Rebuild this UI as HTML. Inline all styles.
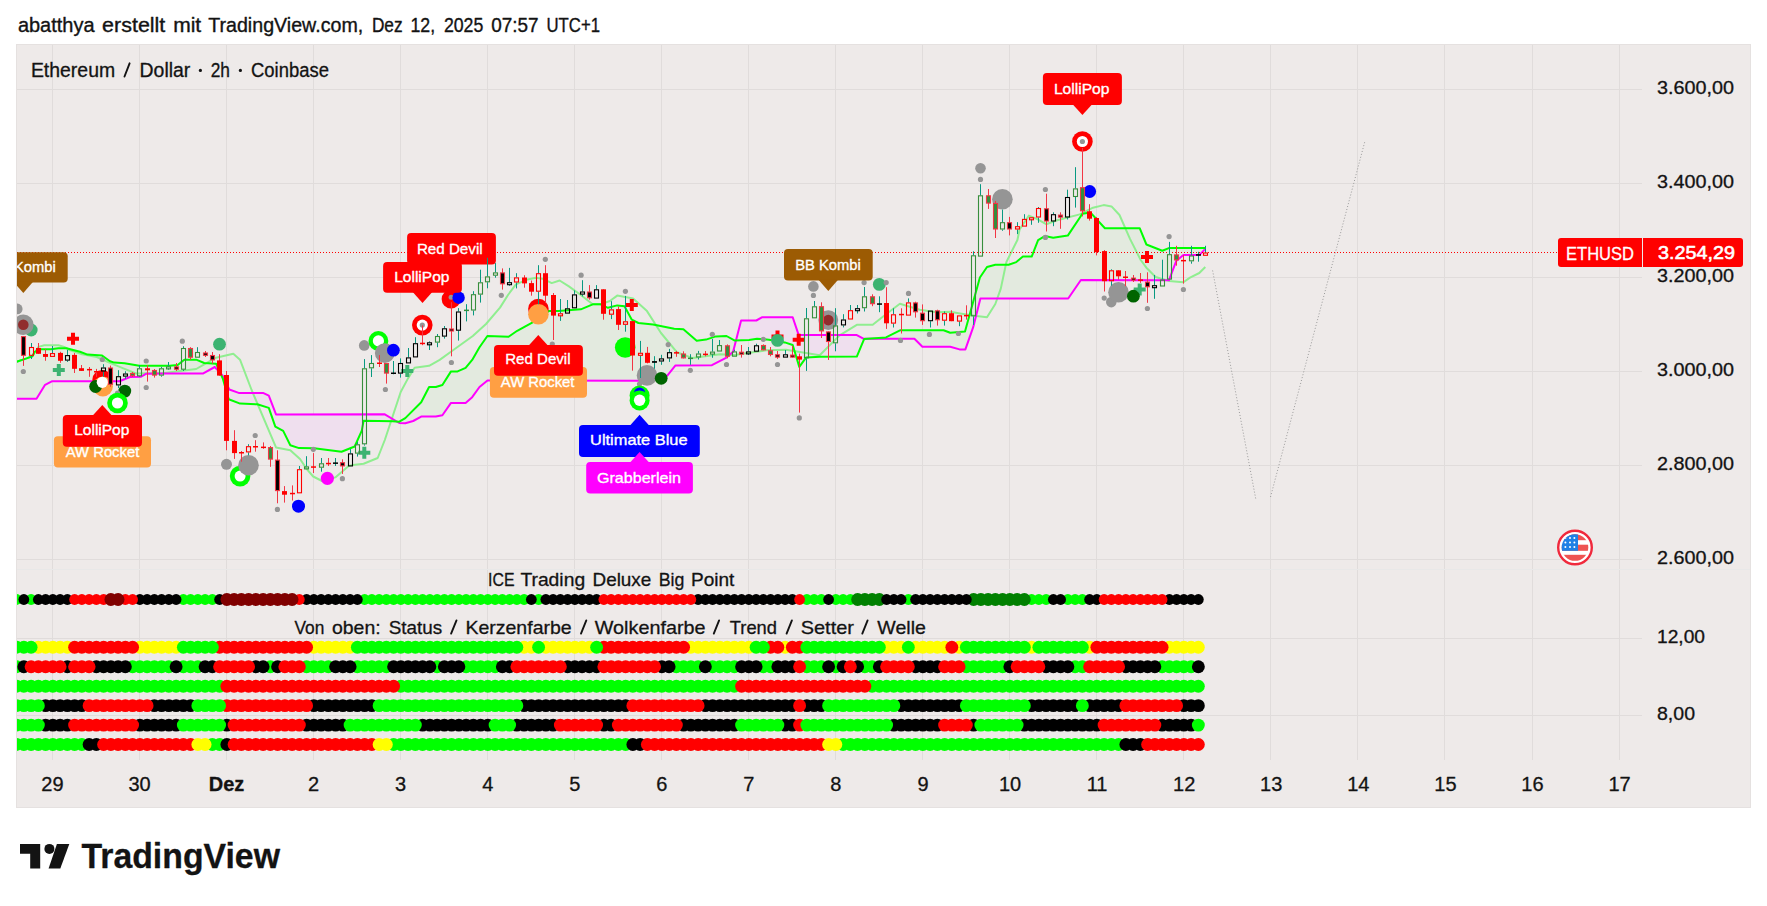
<!DOCTYPE html><html><head><meta charset="utf-8"><style>html,body{margin:0;padding:0;background:#fff;width:1767px;height:906px;overflow:hidden}svg{display:block;font-family:"Liberation Sans",sans-serif}text{stroke-linejoin:round}</style></head><body>
<svg width="1767" height="906" viewBox="0 0 1767 906">
<defs><clipPath id="pane"><rect x="17" y="45" width="1625" height="715"/></clipPath></defs>
<text x="17.9" y="32" font-size="19.3" fill="#131313" textLength="76.65" lengthAdjust="spacingAndGlyphs" stroke="#131313" stroke-width="0.35">abatthya</text><text x="102.1" y="32" font-size="19.3" fill="#131313" textLength="63.25" lengthAdjust="spacingAndGlyphs" stroke="#131313" stroke-width="0.35">erstellt</text><text x="173.2" y="32" font-size="19.3" fill="#131313" textLength="28.03" lengthAdjust="spacingAndGlyphs" stroke="#131313" stroke-width="0.35">mit</text><text x="208.2" y="32" font-size="19.3" fill="#131313" textLength="155.03" lengthAdjust="spacingAndGlyphs" stroke="#131313" stroke-width="0.35">TradingView.com,</text><text x="371.9" y="32" font-size="19.3" fill="#131313" textLength="30.72" lengthAdjust="spacingAndGlyphs" stroke="#131313" stroke-width="0.35">Dez</text><text x="410.5" y="32" font-size="19.3" fill="#131313" textLength="24.63" lengthAdjust="spacingAndGlyphs" stroke="#131313" stroke-width="0.35">12,</text><text x="443.9" y="32" font-size="19.3" fill="#131313" textLength="39.43" lengthAdjust="spacingAndGlyphs" stroke="#131313" stroke-width="0.35">2025</text><text x="491.2" y="32" font-size="19.3" fill="#131313" textLength="47.4" lengthAdjust="spacingAndGlyphs" stroke="#131313" stroke-width="0.35">07:57</text><text x="546.5" y="32" font-size="19.3" fill="#131313" textLength="53.47" lengthAdjust="spacingAndGlyphs" stroke="#131313" stroke-width="0.35">UTC+1</text>
<rect x="16.5" y="44.5" width="1734" height="763" fill="#EEEAE9" stroke="#e5e1e0" stroke-width="1"/>
<path d="M52.5 45V760 M139.5 45V760 M226.5 45V760 M313.5 45V760 M400.5 45V760 M487.5 45V760 M574.5 45V760 M661.5 45V760 M748.5 45V760 M835.5 45V760 M922.5 45V760 M1009.5 45V760 M1096.5 45V760 M1183.5 45V760 M1270.5 45V760 M1357.5 45V760 M1444.5 45V760 M1532.5 45V760 M1619.5 45V760 M17 89.5H1642 M17 183.5H1642 M17 277.5H1642 M17 371.5H1642 M17 465.5H1642 M17 559.5H1642 M17 638.5H1642 M17 715.5H1642" stroke="#e0dcdb" stroke-width="1" fill="none"/>
<path d="M17 569.5H1750" stroke="#e8e8e8" stroke-width="1"/>
<g clip-path="url(#pane)">
<path d="M16 362L16.5 361.83L17 361.66L17.5 361.49L18 361.32L18.5 361.15L19 360.98L19.5 360.81L20 360.64L20.5 360.47L21 360.3L21.5 360.13L22 359.96L22.5 359.79L23 359.62L23.5 359.45L24 359.28L24.5 359.11L25 358.94L25.5 358.77L26 358.6L26.5 358.43L27 358.25L27.5 358.06L28 357.87L28.5 357.68L29 357.49L29.5 357.3L30 357.11L30.5 356.92L31 356.73L31.5 356.54L32 356.35L32.5 356L33 355L33.5 354L34 353L34.5 352L35 351.61L35.5 351.38L36 351.14L36.5 350.9L37 350.67L37.5 350.43L38 350.2L38.5 349.96L39 349.72L39.5 349.49L40 349.3L40.5 349.3L41 349.3L41.5 349.3L42 349.3L42.5 349.3L43 349.3L43.5 349.3L44 349.3L44.5 349.3L45 349.3L45.5 349.3L46 349.3L46.5 349.3L47 349.3L47.5 349.3L48 349.3L48.5 349.3L49 349.3L49.5 349.3L50 349.3L50.5 349.3L51 349.29L51.5 349.21L52 349.14L52.5 349.07L53 348.99L53.5 348.92L54 348.85L54.5 348.77L55 348.7L55.5 348.63L56 348.55L56.5 348.48L57 348.41L57.5 348.33L58 348.26L58.5 348.2L59 348.2L59.5 348.2L60 348.2L60.5 348.2L61 348.2L61.5 348.2L62 348.2L62.5 348.2L63 348.2L63.5 348.2L64 348.2L64.5 348.2L65 348.2L65.5 348.2L66 348.2L66.5 348.23L67 348.36L67.5 348.49L68 348.62L68.5 348.76L69 348.89L69.5 349.02L70 349.15L70.5 349.29L71 349.42L71.5 349.55L72 349.68L72.5 349.81L73 349.95L73.5 350.08L74 350.21L74.5 350.34L75 350.48L75.5 350.61L76 350.74L76.5 350.87L77 351.01L77.5 351.14L78 351.27L78.5 351.4L79 351.54L79.5 351.67L80 351.8L80.5 351.99L81 352.17L81.5 352.36L82 352.55L82.5 352.73L83 352.92L83.5 353.11L84 353.29L84.5 353.48L85 353.67L85.5 353.85L86 354.04L86.5 354.23L87 354.41L87.5 354.6L88 354.63L88.5 354.67L89 354.7L89.5 354.74L90 354.77L90.5 354.81L91 354.84L91.5 354.87L92 354.91L92.5 354.94L93 354.98L93.5 355.01L94 355.05L94.5 355.08L95 355.11L95.5 355.15L96 355.18L96.5 355.22L97 355.25L97.5 355.28L98 355.32L98.5 355.35L99 355.39L99.5 355.42L100 355.46L100.5 355.49L101 355.52L101.5 355.56L102 355.59L102.5 355.88L103 356.24L103.5 356.59L104 356.95L104.5 357.3L105 357.66L105.5 358.01L106 358.36L106.5 358.72L107 359.07L107.5 359.43L108 359.78L108.5 360.14L109 360.49L109.5 360.85L110 361.2L110.5 361.37L111 361.53L111.5 361.7L112 361.87L112.5 362.03L113 362.2L113.5 362.37L114 362.53L114.5 362.62L115 362.65L115.5 362.69L116 362.72L116.5 362.75L117 362.79L117.5 362.82L118 362.86L118.5 362.89L119 362.92L119.5 362.96L120 362.99L120.5 363.02L121 363.06L121.5 363.09L122 363.12L122.5 363.16L123 363.19L123.5 363.23L124 363.26L124.5 363.29L125 363.37L125.5 363.45L126 363.53L126.5 363.61L127 363.69L127.5 363.77L128 363.86L128.5 363.94L129 364.02L129.5 364.1L130 364.18L130.5 364.26L131 364.34L131.5 364.43L132 364.51L132.5 364.59L133 364.67L133.5 364.75L134 364.83L134.5 364.92L135 365L135.5 365.08L136 365.16L136.5 365.24L137 365.32L137.5 365.41L138 365.49L138.5 365.57L139 365.65L139.5 365.7L140 365.7L140.5 365.7L141 365.7L141.5 365.7L142 365.7L142.5 365.7L143 365.7L143.5 365.7L144 365.7L144.5 365.7L145 365.7L145.5 365.7L146 365.7L146.5 365.7L147 365.7L147.5 365.7L148 365.7L148.5 365.7L149 365.7L149.5 365.7L150 365.7L150.5 365.7L151 365.7L151.5 365.7L152 365.7L152.5 365.7L153 365.7L153.5 365.7L154 365.7L154.5 365.7L155 365.7L155.5 365.7L156 365.7L156.5 365.7L157 365.7L157.5 365.7L158 365.7L158.5 365.7L159 365.7L159.5 365.7L160 365.7L160.5 365.7L161 365.7L161.5 365.7L162 365.7L162.5 365.7L163 365.7L163.5 365.7L164 365.7L164.5 365.7L165 365.7L165.5 365.7L166 365.7L166.5 365.7L167 365.7L167.5 365.7L168 365.7L168.5 365.7L169 365.7L169.5 365.7L170 365.67L170.5 365.63L171 365.59L171.5 365.54L172 365.5L172.5 365.45L173 365.41L173.5 365.37L174 365.32L174.5 365.28L175 365.24L175.5 365.19L176 365.15L176.5 365.11L177 365.06L177.5 365.02L178 364.76L178.5 364.36L179 363.96L179.5 363.55L180 363.15L180.5 362.75L181 362.35L181.5 361.95L182 361.55L182.5 361.15L183 360.74L183.5 360.34L184 359.94L184.5 359.7L185 359.7L185.5 359.7L186 359.7L186.5 359.7L187 359.7L187.5 359.7L188 359.7L188.5 359.7L189 359.7L189.5 359.7L190 359.7L190.5 359.7L191 359.7L191.5 359.7L192 359.7L192.5 359.7L193 359.7L193.5 359.7L194 359.7L194.5 359.7L195 359.7L195.5 359.7L196 359.7L196.5 359.82L197 360.03L197.5 360.24L198 360.44L198.5 360.65L199 360.86L199.5 361.06L200 361.27L200.5 361.47L201 361.68L201.5 361.89L202 362.09L202.5 362.3L203 362.5L203.5 362.71L204 362.92L204.5 363.02L205 363.05L205.5 363.08L206 363.11L206.5 363.14L207 363.16L207.5 363.19L208 363.22L208.5 363.25L209 363.28L209.5 363.31L210 363.34L210.5 363.37L211 363.4L211.5 363.43L212 363.46L212.5 363.49L213 363.52L213.5 363.55L214 363.58L214.5 363.61L215 363.64L215.5 363.66L216 363.69L216.5 364.58L217 365.69L217.5 366.8L218 367.9L218.5 369.01L219 370.12L219.5 371.22L220 372.33L220 372.66L219.5 372.12L219 371.57L218.5 371.03L218 370.48L217.5 369.94L217 369.39L216.5 368.85L216 368.31L215.5 367.76L215 367.22L214.5 367.17L214 367.44L213.5 367.72L213 367.99L212.5 368.26L212 368.54L211.5 368.81L211 369.09L210.5 369.37L210 369.64L209.5 369.92L209 370.19L208.5 370.47L208 370.74L207.5 371.02L207 371.29L206.5 371.56L206 371.84L205.5 372.12L205 372.39L204.5 372.67L204 372.94L203.5 373.22L203 373.49L202.5 373.6L202 373.6L201.5 373.6L201 373.6L200.5 373.6L200 373.6L199.5 373.6L199 373.6L198.5 373.6L198 373.6L197.5 373.6L197 373.6L196.5 373.6L196 373.6L195.5 373.6L195 373.6L194.5 373.6L194 373.6L193.5 373.6L193 373.6L192.5 373.6L192 373.6L191.5 373.6L191 373.6L190.5 373.6L190 373.6L189.5 373.6L189 373.6L188.5 373.6L188 373.6L187.5 373.6L187 373.6L186.5 373.6L186 373.6L185.5 373.6L185 373.6L184.5 373.6L184 373.6L183.5 373.6L183 373.6L182.5 373.6L182 373.6L181.5 373.6L181 373.6L180.5 373.6L180 373.6L179.5 373.6L179 373.6L178.5 373.6L178 373.6L177.5 373.6L177 373.6L176.5 373.6L176 373.6L175.5 373.6L175 373.6L174.5 373.6L174 373.6L173.5 373.6L173 373.6L172.5 373.6L172 373.6L171.5 373.6L171 373.6L170.5 373.6L170 373.6L169.5 373.6L169 373.6L168.5 373.6L168 373.6L167.5 373.6L167 373.6L166.5 373.6L166 373.6L165.5 373.6L165 373.6L164.5 373.6L164 373.6L163.5 373.6L163 373.6L162.5 373.61L162 373.61L161.5 373.62L161 373.62L160.5 373.63L160 373.64L159.5 373.64L159 373.65L158.5 373.65L158 373.66L157.5 373.66L157 373.67L156.5 373.68L156 373.68L155.5 373.69L155 373.69L154.5 373.7L154 373.71L153.5 373.71L153 373.72L152.5 373.72L152 373.73L151.5 373.74L151 373.74L150.5 373.75L150 373.75L149.5 373.76L149 373.76L148.5 373.77L148 373.78L147.5 373.78L147 373.79L146.5 373.79L146 373.8L145.5 374.08L145 374.37L144.5 374.65L144 374.93L143.5 375.22L143 375.5L142.5 375.78L142 376.06L141.5 376.35L141 376.63L140.5 376.8L140 376.81L139.5 376.82L139 376.83L138.5 376.84L138 376.85L137.5 376.86L137 376.87L136.5 376.88L136 376.89L135.5 376.9L135 376.91L134.5 376.92L134 376.93L133.5 376.93L133 376.94L132.5 376.95L132 376.96L131.5 376.97L131 376.98L130.5 376.99L130 377L129.5 377.2L129 377.41L128.5 377.61L128 377.82L127.5 378.02L127 378.23L126.5 378.43L126 378.64L125.5 378.84L125 379.05L124.5 379.25L124 379.46L123.5 379.66L123 379.87L122.5 380.07L122 380.28L121.5 380.48L121 380.69L120.5 380.89L120 381.1L119.5 381.3L119 381.3L118.5 381.3L118 381.3L117.5 381.3L117 381.3L116.5 381.3L116 381.3L115.5 381.3L115 381.3L114.5 381.3L114 381.3L113.5 381.3L113 381.3L112.5 381.3L112 381.3L111.5 381.3L111 381.3L110.5 381.3L110 381.3L109.5 381.3L109 381.3L108.5 381.3L108 381.3L107.5 381.3L107 381.3L106.5 381.3L106 381.3L105.5 381.3L105 381.3L104.5 381.3L104 381.3L103.5 381.3L103 381.3L102.5 381.3L102 381.3L101.5 381.3L101 381.3L100.5 381.3L100 381.3L99.5 381.3L99 381.3L98.5 381.3L98 381.3L97.5 381.3L97 381.3L96.5 381.3L96 381.3L95.5 381.3L95 381.3L94.5 381.3L94 381.3L93.5 381.3L93 381.3L92.5 381.3L92 381.3L91.5 381.3L91 381.3L90.5 381.3L90 381.3L89.5 381.3L89 381.3L88.5 381.3L88 381.3L87.5 381.3L87 381.3L86.5 381.3L86 381.3L85.5 381.3L85 381.3L84.5 381.3L84 381.3L83.5 381.3L83 381.3L82.5 381.3L82 381.3L81.5 381.3L81 381.3L80.5 381.3L80 381.3L79.5 381.3L79 381.3L78.5 381.3L78 381.3L77.5 381.3L77 381.3L76.5 381.3L76 381.3L75.5 381.3L75 381.3L74.5 381.3L74 381.3L73.5 381.3L73 381.3L72.5 381.3L72 381.3L71.5 381.3L71 381.3L70.5 381.3L70 381.3L69.5 381.3L69 381.3L68.5 381.3L68 381.3L67.5 381.3L67 381.3L66.5 381.3L66 381.3L65.5 381.3L65 381.3L64.5 381.3L64 381.3L63.5 381.3L63 381.3L62.5 381.3L62 381.3L61.5 381.3L61 381.3L60.5 381.3L60 381.3L59.5 381.3L59 381.3L58.5 381.3L58 381.3L57.5 381.3L57 381.3L56.5 381.3L56 381.3L55.5 381.3L55 381.3L54.5 381.3L54 381.3L53.5 381.3L53 381.3L52.5 381.3L52 381.3L51.5 381.46L51 381.72L50.5 381.98L50 382.24L49.5 382.5L49 382.76L48.5 383.02L48 383.29L47.5 383.55L47 383.81L46.5 384.07L46 384.33L45.5 384.59L45 384.96L44.5 385.77L44 386.58L43.5 387.39L43 388.19L42.5 389L42 389.81L41.5 390.62L41 391.43L40.5 392.23L40 393.04L39.5 393.85L39 394.66L38.5 395.47L38 396.28L37.5 397.08L37 397.89L36.5 398.7L36 398.7L35.5 398.7L35 398.7L34.5 398.7L34 398.7L33.5 398.7L33 398.7L32.5 398.7L32 398.7L31.5 398.7L31 398.7L30.5 398.7L30 398.7L29.5 398.7L29 398.7L28.5 398.7L28 398.7L27.5 398.7L27 398.7L26.5 398.7L26 398.7L25.5 398.7L25 398.7L24.5 398.7L24 398.7L23.5 398.7L23 398.7L22.5 398.7L22 398.7L21.5 398.7L21 398.7L20.5 398.7L20 398.7L19.5 398.7L19 398.7L18.5 398.7L18 398.7L17.5 398.7L17 398.7L16.5 398.7L16 398.7Z" fill="#e3eadf"/>
<path d="M220.5 373.43L221 374.54L221.5 375.65L222 376.75L222.5 377.86L223 379.35L223.5 381.1L224 382.85L224.5 384.6L225 386.35L225.5 388.1L226 389.85L226.5 391.6L227 393.35L227.5 395.1L228 396.85L228.5 398.6L229 399.41L229.5 399.6L230 399.79L230.5 399.98L231 400.17L231.5 400.36L232 400.54L232.5 400.73L233 400.92L233.5 401.11L234 401.3L234.5 401.49L235 401.68L235.5 401.86L236 402.05L236.5 402.24L237 402.43L237.5 402.62L238 402.81L238.5 403L239 403.19L239.5 403.37L240 403.56L240.5 403.62L241 403.64L241.5 403.66L242 403.68L242.5 403.7L243 403.72L243.5 403.74L244 403.76L244.5 403.78L245 403.8L245.5 403.82L246 403.84L246.5 403.86L247 403.88L247.5 403.9L248 403.92L248.5 403.94L249 403.96L249.5 403.98L250 404L250.5 404.02L251 404.04L251.5 404.06L252 404.08L252.5 404.1L253 404.12L253.5 404.15L254 404.17L254.5 404.19L255 404.21L255.5 404.23L256 404.25L256.5 404.27L257 404.29L257.5 404.36L258 404.52L258.5 404.68L259 404.83L259.5 404.99L260 405.15L260.5 405.3L261 405.46L261.5 405.61L262 405.77L262.5 405.93L263 406.08L263.5 406.24L264 406.4L264.5 406.55L265 406.71L265.5 406.87L266 407.02L266.5 407.18L267 407.34L267.5 407.49L268 407.65L268.5 407.81L269 408.48L269.5 409.91L270 411.35L270.5 412.79L271 414.23L271.5 415.67L272 417.11L272.5 418.54L273 419.98L273.5 421.42L274 422.86L274.5 424.3L275 425.74L275.5 426.71L276 426.98L276.5 427.25L277 427.53L277.5 427.8L278 428.07L278.5 428.34L279 428.61L279.5 428.89L280 429.16L280.5 429.43L281 429.7L281.5 429.97L282 430.25L282.5 430.52L283 430.79L283.5 431.5L284 432.51L284.5 433.52L285 434.53L285.5 435.53L286 436.54L286.5 437.55L287 438.55L287.5 439.56L288 440.57L288.5 441.57L289 442.58L289.5 443.59L290 444.6L290.5 445.27L291 445.43L291.5 445.6L292 445.77L292.5 445.93L293 446.1L293.5 446.27L294 446.43L294.5 446.6L295 446.77L295.5 446.93L296 447.1L296.5 447.27L297 447.43L297.5 447.6L298 447.77L298.5 447.93L299 448.1L299.5 448.11L300 448.11L300.5 448.12L301 448.13L301.5 448.13L302 448.14L302.5 448.15L303 448.15L303.5 448.16L304 448.17L304.5 448.17L305 448.18L305.5 448.19L306 448.19L306.5 448.2L307 448.21L307.5 448.21L308 448.22L308.5 448.23L309 448.23L309.5 448.24L310 448.25L310.5 448.25L311 448.26L311.5 448.27L312 448.27L312.5 448.28L313 448.29L313.5 448.29L314 448.3L314.5 448.35L315 448.41L315.5 448.48L316 448.54L316.5 448.61L317 448.67L317.5 448.73L318 448.8L318.5 448.86L319 448.93L319.5 448.99L320 449.05L320.5 449.12L321 449.18L321.5 449.25L322 449.31L322.5 449.37L323 449.44L323.5 449.5L324 449.56L324.5 449.63L325 449.69L325.5 449.76L326 449.82L326.5 449.88L327 449.95L327.5 450.01L328 450.08L328.5 450.14L329 450.2L329.5 450.27L330 450.33L330.5 450.39L331 450.46L331.5 450.52L332 450.59L332.5 450.65L333 450.71L333.5 450.78L334 450.84L334.5 450.91L335 450.97L335.5 451.03L336 451.1L336.5 451.16L337 451.23L337.5 451.29L338 451.35L338.5 451.42L339 451.48L339.5 451.54L340 451.61L340.5 451.67L341 451.74L341.5 451.8L342 451.6L342.5 451.4L343 451.2L343.5 451L344 450.8L344.5 450.6L345 450.39L345.5 450.19L346 449.99L346.5 449.79L347 449.59L347.5 449.39L348 449.19L348.5 448.99L349 448.79L349.5 448.59L350 448.39L350.5 448.19L351 447.99L351.5 447.78L352 447.58L352.5 447.38L353 447.18L353.5 446.98L354 446.78L354.5 446.58L355 445.83L355.5 444.71L356 443.59L356.5 442.47L357 441.35L357.5 440.23L358 439.11L358.5 437.99L359 436.87L359.5 435.75L360 434.63L360.5 433.51L361 432.39L361.5 431.27L362 429.5L362.5 426.75L363 424L363.5 421.25L364 420.71L364.5 420.72L365 420.73L365.5 420.74L366 420.75L366.5 420.76L367 420.77L367.5 420.78L368 420.79L368.5 420.8L369 420.81L369.5 420.82L370 420.83L370.5 420.84L371 420.85L371.5 420.86L372 420.87L372.5 420.88L373 420.89L373.5 420.9L374 420.91L374.5 420.92L375 420.94L375.5 420.95L376 420.96L376.5 420.97L377 420.98L377.5 420.99L378 421L378.5 421.01L379 421.02L379.5 421.03L380 421.04L380.5 421.05L381 421.06L381.5 421.07L382 421.08L382.5 421.09L383 421.1L383.5 421.11L384 421.12L384.5 421.13L385 421.14L385.5 421.15L386 421.16L386.5 421.17L387 421.18L387.5 421.19L388 421.2L388.5 421.21L389 421.22L389.5 421.23L390 421.24L390.5 421.25L391 421.26L391.5 421.28L392 421.29L392.5 421.3L393 421.32L393.5 421.35L394 421.38L394.5 421.41L395 421.44L395.5 421.47L396 421.5L396.5 421.53L396.5 421.32L396 421.02L395.5 420.72L395 420.42L394.5 420.12L394 419.82L393.5 419.52L393 419.22L392.5 418.92L392 418.62L391.5 418.32L391 418.02L390.5 417.72L390 417.42L389.5 417.12L389 416.82L388.5 416.52L388 416.22L387.5 415.92L387 415.62L386.5 415.32L386 415.02L385.5 414.72L385 414.42L384.5 414.3L384 414.3L383.5 414.3L383 414.3L382.5 414.3L382 414.3L381.5 414.3L381 414.3L380.5 414.3L380 414.3L379.5 414.3L379 414.31L378.5 414.31L378 414.31L377.5 414.31L377 414.31L376.5 414.31L376 414.31L375.5 414.31L375 414.31L374.5 414.31L374 414.31L373.5 414.31L373 414.31L372.5 414.31L372 414.31L371.5 414.31L371 414.31L370.5 414.31L370 414.31L369.5 414.31L369 414.31L368.5 414.31L368 414.32L367.5 414.32L367 414.32L366.5 414.32L366 414.32L365.5 414.32L365 414.32L364.5 414.32L364 414.32L363.5 414.32L363 414.32L362.5 414.32L362 414.32L361.5 414.32L361 414.32L360.5 414.32L360 414.32L359.5 414.32L359 414.32L358.5 414.32L358 414.32L357.5 414.33L357 414.33L356.5 414.33L356 414.33L355.5 414.33L355 414.33L354.5 414.33L354 414.33L353.5 414.33L353 414.33L352.5 414.33L352 414.33L351.5 414.33L351 414.33L350.5 414.33L350 414.33L349.5 414.33L349 414.33L348.5 414.33L348 414.33L347.5 414.33L347 414.33L346.5 414.34L346 414.34L345.5 414.34L345 414.34L344.5 414.34L344 414.34L343.5 414.34L343 414.34L342.5 414.34L342 414.34L341.5 414.34L341 414.34L340.5 414.34L340 414.34L339.5 414.34L339 414.34L338.5 414.34L338 414.34L337.5 414.34L337 414.34L336.5 414.34L336 414.34L335.5 414.35L335 414.35L334.5 414.35L334 414.35L333.5 414.35L333 414.35L332.5 414.35L332 414.35L331.5 414.35L331 414.35L330.5 414.35L330 414.35L329.5 414.35L329 414.35L328.5 414.35L328 414.35L327.5 414.35L327 414.35L326.5 414.35L326 414.35L325.5 414.35L325 414.35L324.5 414.36L324 414.36L323.5 414.36L323 414.36L322.5 414.36L322 414.36L321.5 414.36L321 414.36L320.5 414.36L320 414.36L319.5 414.36L319 414.36L318.5 414.36L318 414.36L317.5 414.36L317 414.36L316.5 414.36L316 414.36L315.5 414.36L315 414.36L314.5 414.36L314 414.37L313.5 414.37L313 414.37L312.5 414.37L312 414.37L311.5 414.37L311 414.37L310.5 414.37L310 414.37L309.5 414.37L309 414.37L308.5 414.37L308 414.37L307.5 414.37L307 414.37L306.5 414.37L306 414.37L305.5 414.37L305 414.37L304.5 414.37L304 414.37L303.5 414.37L303 414.38L302.5 414.38L302 414.38L301.5 414.38L301 414.38L300.5 414.38L300 414.38L299.5 414.38L299 414.38L298.5 414.38L298 414.38L297.5 414.38L297 414.38L296.5 414.38L296 414.38L295.5 414.38L295 414.38L294.5 414.38L294 414.38L293.5 414.38L293 414.38L292.5 414.38L292 414.39L291.5 414.39L291 414.39L290.5 414.39L290 414.39L289.5 414.39L289 414.39L288.5 414.39L288 414.39L287.5 414.39L287 414.39L286.5 414.39L286 414.39L285.5 414.39L285 414.39L284.5 414.39L284 414.39L283.5 414.39L283 414.39L282.5 414.39L282 414.39L281.5 414.39L281 414.4L280.5 414.4L280 414.4L279.5 414.4L279 414.4L278.5 414.4L278 414.4L277.5 414.4L277 414.4L276.5 414.4L276 414.4L275.5 413.1L275 411.8L274.5 410.5L274 409.21L273.5 407.91L273 406.61L272.5 405.31L272 404.01L271.5 402.71L271 401.41L270.5 400.12L270 398.82L269.5 397.52L269 396.22L268.5 395.56L268 395.31L267.5 395.07L267 394.83L266.5 394.59L266 394.35L265.5 394.11L265 393.87L264.5 393.62L264 393.38L263.5 393.14L263 392.9L262.5 392.9L262 392.9L261.5 392.9L261 392.9L260.5 392.9L260 392.9L259.5 392.9L259 392.9L258.5 392.9L258 392.9L257.5 392.9L257 392.9L256.5 392.9L256 392.9L255.5 392.9L255 392.9L254.5 392.9L254 392.9L253.5 392.9L253 392.9L252.5 392.9L252 392.9L251.5 392.9L251 392.9L250.5 392.9L250 392.9L249.5 392.9L249 392.9L248.5 392.9L248 392.9L247.5 392.9L247 392.9L246.5 392.9L246 392.9L245.5 392.9L245 392.9L244.5 392.9L244 392.9L243.5 392.9L243 392.9L242.5 392.9L242 392.9L241.5 392.9L241 392.9L240.5 392.9L240 392.9L239.5 392.9L239 392.9L238.5 392.83L238 392.65L237.5 392.47L237 392.29L236.5 392.1L236 391.92L235.5 391.74L235 391.56L234.5 391.38L234 391.2L233.5 391.02L233 390.84L232.5 390.66L232 390.48L231.5 390.3L231 390.11L230.5 389.93L230 389.75L229.5 389.57L229 388.87L228.5 387.82L228 386.76L227.5 385.71L227 384.66L226.5 383.6L226 382.55L225.5 381.5L225 380.44L224.5 379.39L224 378.34L223.5 377.28L223 376.23L222.5 375.38L222 374.84L221.5 374.29L221 373.75L220.5 373.21Z" fill="#efdfee"/>
<path d="M397 421.56L397.5 421.59L398 421.62L398.5 421.65L399 421.68L399.5 421.58L400 421.28L400.5 420.98L401 420.68L401.5 420.38L402 420.08L402.5 419.78L403 419.48L403.5 419.18L404 418.88L404.5 418.58L405 418.28L405.5 417.9L406 417.4L406.5 416.91L407 416.41L407.5 415.91L408 415.42L408.5 414.92L409 414.42L409.5 413.93L410 413.43L410.5 412.93L411 412.44L411.5 411.94L412 411.44L412.5 410.95L413 410.45L413.5 409.95L414 409.45L414.5 408.96L415 408.46L415.5 407.96L416 407.47L416.5 406.97L417 406.47L417.5 405.98L418 405.48L418.5 404.98L419 404.49L419.5 403.99L420 403.49L420.5 403L421 402.5L421.5 401.72L422 400.75L422.5 399.78L423 398.81L423.5 397.85L424 396.88L424.5 395.91L425 394.94L425.5 393.97L426 393L426.5 392.04L427 391.07L427.5 390.1L428 389.13L428.5 388.16L429 387.19L429.5 387L430 387L430.5 387L431 387L431.5 387L432 387L432.5 387L433 387L433.5 387L434 387L434.5 387L435 387L435.5 387L436 386.94L436.5 386.79L437 386.64L437.5 386.48L438 386.33L438.5 386.18L439 386.03L439.5 385.88L440 385.73L440.5 385.58L441 385.42L441.5 385.27L442 385.12L442.5 384.84L443 384.05L443.5 383.26L444 382.47L444.5 381.68L445 380.89L445.5 380.1L446 379.31L446.5 378.52L447 377.73L447.5 376.93L448 376.14L448.5 375.35L449 374.56L449.5 373.77L450 372.98L450.5 372.19L451 371.4L451.5 371.4L452 371.4L452.5 371.4L453 371.4L453.5 371.4L454 371.4L454.5 371.4L455 371.4L455.5 371.4L456 371.4L456.5 371.4L457 371.4L457.5 371.4L458 371.22L458.5 371L459 370.77L459.5 370.55L460 370.32L460.5 370.1L461 369.87L461.5 369.64L462 369.42L462.5 369.19L463 368.97L463.5 368.75L464 368.52L464.5 368.3L465 368.07L465.5 367.85L466 367.32L466.5 366.72L467 366.12L467.5 365.53L468 364.93L468.5 364.33L469 363.73L469.5 363.13L470 362.53L470.5 361.93L471 361.34L471.5 360.74L472 360.14L472.5 359.38L473 358.52L473.5 357.66L474 356.79L474.5 355.93L475 355.07L475.5 354.2L476 353.34L476.5 352.48L477 351.62L477.5 350.75L478 349.89L478.5 349.03L479 348.16L479.5 347.3L480 346.58L480.5 345.87L481 345.15L481.5 344.44L482 343.72L482.5 343.01L483 342.29L483.5 341.58L484 340.86L484.5 340.15L485 339.43L485.5 338.72L486 338L486.5 337.29L487 336.57L487.5 336L488 336.02L488.5 336.04L489 336.06L489.5 336.08L490 336.1L490.5 336.12L491 336.14L491.5 336.15L492 336.17L492.5 336.19L493 336.21L493.5 336.23L494 336.25L494.5 336.27L495 336.29L495.5 336.31L496 336.32L496.5 336.34L497 336.36L497.5 336.38L498 336.4L498.5 336.42L499 336.44L499.5 336.46L500 336.48L500.5 336.49L501 336.51L501.5 336.53L502 336.55L502.5 336.57L503 336.59L503.5 336.61L504 336.63L504.5 336.65L505 336.66L505.5 336.68L506 336.7L506.5 336.72L507 336.74L507.5 336.76L508 336.78L508.5 336.8L509 336.52L509.5 336.17L510 335.82L510.5 335.47L511 335.13L511.5 334.78L512 334.43L512.5 334.08L513 333.73L513.5 333.38L514 333.03L514.5 332.68L515 332.33L515.5 331.99L516 331.64L516.5 331.29L517 330.94L517.5 330.64L518 330.37L518.5 330.1L519 329.83L519.5 329.56L520 329.29L520.5 329.02L521 328.74L521.5 328.47L522 328.2L522.5 327.93L523 327.66L523.5 327.39L524 327.12L524.5 326.85L525 326.58L525.5 326.31L526 326.04L526.5 325.77L527 325.5L527.5 325.23L528 324.96L528.5 324.69L529 324.42L529.5 324.15L530 323.88L530.5 323.61L531 323.34L531.5 323.07L532 322.79L532.5 322.52L533 322.25L533.5 321.92L534 321.56L534.5 321.21L535 320.85L535.5 320.49L536 320.14L536.5 319.78L537 319.43L537.5 319.07L538 318.72L538.5 318.36L539 318.01L539.5 317.65L540 317.3L540.5 316.94L541 316.59L541.5 316.23L542 315.87L542.5 315.52L543 315.16L543.5 314.81L544 314.45L544.5 314.1L545 313.74L545.5 313.39L546 313.03L546.5 312.68L547 312.32L547.5 311.97L548 311.61L548.5 311.26L549 310.9L549.5 310.9L550 310.9L550.5 310.9L551 310.9L551.5 310.9L552 310.9L552.5 310.9L553 310.9L553.5 310.9L554 310.9L554.5 310.9L555 310.9L555.5 310.9L556 310.9L556.5 310.9L557 310.9L557.5 310.9L558 310.9L558.5 310.89L559 310.85L559.5 310.81L560 310.78L560.5 310.74L561 310.71L561.5 310.67L562 310.64L562.5 310.6L563 310.57L563.5 310.53L564 310.49L564.5 310.46L565 310.42L565.5 310.39L566 310.35L566.5 310.32L567 310.28L567.5 310.25L568 310.21L568.5 310.17L569 310.14L569.5 310.1L570 310.07L570.5 310.03L571 310L571.5 309.96L572 309.93L572.5 309.89L573 309.85L573.5 309.82L574 309.78L574.5 309.75L575 309.71L575.5 309.68L576 309.64L576.5 309.61L577 309.57L577.5 309.53L578 309.5L578.5 309.46L579 309.43L579.5 309.39L580 309.36L580.5 309.32L581 309.22L581.5 309.01L582 308.8L582.5 308.59L583 308.38L583.5 308.17L584 307.96L584.5 307.75L585 307.54L585.5 307.33L586 307.12L586.5 306.91L587 306.69L587.5 306.48L588 306.27L588.5 306.06L589 305.85L589.5 305.64L590 305.43L590.5 305.22L591 305.01L591.5 304.8L592 304.59L592.5 304.38L593 304.3L593.5 304.3L594 304.3L594.5 304.3L595 304.3L595.5 304.3L596 304.3L596.5 304.3L597 304.3L597.5 304.3L598 304.3L598.5 304.3L599 304.3L599.5 304.3L600 304.3L600.5 304.3L601 304.44L601.5 304.68L602 304.92L602.5 305.16L603 305.4L603.5 305.64L604 305.88L604.5 306.12L605 306.36L605.5 306.6L606 306.84L606.5 307.08L607 307.32L607.5 307.56L608 307.8L608.5 307.67L609 307.54L609.5 307.41L610 307.28L610.5 307.15L611 307.02L611.5 306.89L612 306.76L612.5 306.63L613 306.5L613.5 306.37L614 306.23L614.5 306.1L615 305.97L615.5 305.84L616 305.71L616.5 305.58L617 305.45L617.5 305.43L618 305.49L618.5 305.54L619 305.6L619.5 305.65L620 305.71L620.5 305.76L621 305.82L621.5 305.87L622 305.93L622.5 305.98L623 306.04L623.5 306.09L624 306.15L624.5 306.2L625 307.12L625.5 308.05L626 308.97L626.5 309.9L627 310.82L627.5 311.75L628 312.67L628.5 313.6L629 314.52L629.5 315.45L630 316.37L630.5 317.3L631 318.22L631.5 319.15L632 319.8L632.5 320.05L633 320.3L633.5 320.55L634 320.8L634.5 321.05L635 321.3L635.5 321.55L636 321.8L636.5 322.05L637 322.3L637.5 322.55L638 322.8L638.5 323.01L639 323.06L639.5 323.11L640 323.15L640.5 323.2L641 323.25L641.5 323.3L642 323.35L642.5 323.39L643 323.44L643.5 323.49L644 323.54L644.5 323.58L645 323.63L645.5 323.68L646 323.73L646.5 323.78L647 323.82L647.5 323.87L648 323.92L648.5 323.97L649 324.02L649.5 324.06L650 324.11L650.5 324.16L651 324.21L651.5 324.26L652 324.3L652.5 324.35L653 324.4L653.5 324.5L654 324.6L654.5 324.7L655 324.81L655.5 324.91L656 325.01L656.5 325.11L657 325.21L657.5 325.31L658 325.41L658.5 325.52L659 325.62L659.5 325.72L660 325.82L660.5 325.92L661 326.02L661.5 326.12L662 326.23L662.5 326.33L663 326.43L663.5 326.53L664 326.63L664.5 326.73L665 326.83L665.5 326.94L666 327.04L666.5 327.14L667 327.24L667.5 327.34L668 327.44L668.5 327.54L669 327.65L669.5 327.75L670 327.85L670.5 327.95L671 328.05L671.5 328.15L672 328.25L672.5 328.36L673 328.46L673.5 328.56L674 328.66L674.5 328.72L675 328.75L675.5 328.78L676 328.82L676.5 328.85L677 328.88L677.5 328.92L678 328.95L678.5 328.98L679 329.01L679.5 329.05L680 329.08L680.5 329.11L681 329.14L681.5 329.18L682 329.21L682.5 329.24L683 329.27L683.5 329.39L684 329.81L684.5 330.24L685 330.67L685.5 331.1L686 331.53L686.5 331.96L687 332.39L687.5 332.81L688 333.24L688.5 333.67L689 334.1L689.5 334.53L690 334.96L690.5 335.39L691 335.81L691.5 336.24L692 336.67L692.5 337.1L693 337.53L693.5 337.96L694 338.39L694.5 338.81L695 339.24L695.5 339.67L696 340.1L696.5 340.53L697 340.66L697.5 340.61L698 340.55L698.5 340.49L699 340.43L699.5 340.37L700 340.31L700.5 340.25L701 340.19L701.5 340.13L702 340.07L702.5 340.01L703 339.95L703.5 339.9L704 339.84L704.5 339.78L705 339.72L705.5 339.66L706 339.6L706.5 339.44L707 339.28L707.5 339.12L708 338.95L708.5 338.79L709 338.63L709.5 338.47L710 338.31L710.5 338.15L711 337.98L711.5 337.82L712 337.66L712.5 337.5L713 337.34L713.5 337.18L714 337.01L714.5 336.85L715 336.69L715.5 336.53L716 336.4L716.5 336.38L717 336.36L717.5 336.34L718 336.32L718.5 336.3L719 336.28L719.5 336.26L720 336.25L720.5 336.23L721 336.21L721.5 336.19L722 336.17L722.5 336.15L723 336.13L723.5 336.11L724 336.09L724.5 336.08L725 336.06L725.5 336.04L726 336.02L726.5 336L727 336.28L727.5 336.56L728 336.84L728.5 337.11L729 337.39L729.5 337.67L730 337.95L730.5 338.23L731 338.51L731.5 338.78L732 339.06L732.5 339.34L733 339.62L733.5 339.9L734 340.18L734.5 340.4L735 340.38L735.5 340.37L736 340.36L736 340.39L735.5 342.34L735 344.29L734.5 346.24L734 348.19L733.5 350.14L733 351.79L732.5 352.24L732 352.68L731.5 353.13L731 353.58L730.5 354.02L730 354.47L729.5 354.92L729 355.37L728.5 355.81L728 356.26L727.5 356.71L727 357.15L726.5 357.6L726 357.86L725.5 358.12L725 358.38L724.5 358.64L724 358.9L723.5 359.16L723 359.42L722.5 359.68L722 359.94L721.5 360.2L721 360.46L720.5 360.72L720 360.98L719.5 361.24L719 361.5L718.5 361.76L718 362.02L717.5 362.28L717 362.55L716.5 362.81L716 363.07L715.5 363.33L715 363.59L714.5 363.85L714 364.11L713.5 364.37L713 364.63L712.5 364.89L712 365.15L711.5 365.2L711 365.2L710.5 365.21L710 365.21L709.5 365.21L709 365.22L708.5 365.22L708 365.22L707.5 365.22L707 365.23L706.5 365.23L706 365.23L705.5 365.24L705 365.24L704.5 365.24L704 365.24L703.5 365.25L703 365.25L702.5 365.25L702 365.25L701.5 365.26L701 365.26L700.5 365.26L700 365.27L699.5 365.27L699 365.27L698.5 365.27L698 365.28L697.5 365.28L697 365.28L696.5 365.28L696 365.29L695.5 365.29L695 365.29L694.5 365.3L694 365.3L693.5 365.3L693 365.3L692.5 365.31L692 365.31L691.5 365.31L691 365.31L690.5 365.32L690 365.32L689.5 365.32L689 365.33L688.5 365.33L688 365.33L687.5 365.33L687 365.34L686.5 365.34L686 365.34L685.5 365.35L685 365.35L684.5 365.35L684 365.35L683.5 365.36L683 365.36L682.5 365.36L682 365.36L681.5 365.37L681 365.37L680.5 365.37L680 365.38L679.5 365.38L679 365.38L678.5 365.38L678 365.39L677.5 365.39L677 365.39L676.5 365.39L676 365.4L675.5 365.4L675 366.02L674.5 366.65L674 367.27L673.5 367.9L673 368.52L672.5 369.15L672 369.77L671.5 370.4L671 371.02L670.5 371.65L670 372.27L669.5 372.9L669 373.52L668.5 374.15L668 374.77L667.5 375.4L667 375.49L666.5 375.58L666 375.67L665.5 375.76L665 375.86L664.5 375.95L664 376.04L663.5 376.13L663 376.22L662.5 376.31L662 376.4L661.5 376.49L661 376.58L660.5 376.67L660 376.77L659.5 376.86L659 376.95L658.5 377.04L658 377.13L657.5 377.22L657 377.31L656.5 377.4L656 377.49L655.5 377.59L655 377.68L654.5 377.77L654 377.86L653.5 377.95L653 378.04L652.5 378.13L652 378.22L651.5 378.31L651 378.41L650.5 378.5L650 378.59L649.5 378.68L649 378.77L648.5 378.86L648 378.95L647.5 379.04L647 379.13L646.5 379.22L646 379.32L645.5 379.41L645 379.5L644.5 379.59L644 379.68L643.5 379.77L643 379.86L642.5 379.95L642 380.04L641.5 380.14L641 380.23L640.5 380.32L640 380.41L639.5 380.5L639 380.59L638.5 380.68L638 380.7L637.5 380.7L637 380.7L636.5 380.7L636 380.7L635.5 380.7L635 380.7L634.5 380.69L634 380.69L633.5 380.69L633 380.69L632.5 380.69L632 380.69L631.5 380.69L631 380.69L630.5 380.69L630 380.69L629.5 380.69L629 380.69L628.5 380.69L628 380.69L627.5 380.69L627 380.68L626.5 380.68L626 380.68L625.5 380.68L625 380.68L624.5 380.68L624 380.68L623.5 380.68L623 380.68L622.5 380.68L622 380.68L621.5 380.68L621 380.68L620.5 380.68L620 380.68L619.5 380.67L619 380.67L618.5 380.67L618 380.67L617.5 380.67L617 380.67L616.5 380.67L616 380.67L615.5 380.67L615 380.67L614.5 380.67L614 380.67L613.5 380.67L613 380.67L612.5 380.67L612 380.67L611.5 380.66L611 380.66L610.5 380.66L610 380.66L609.5 380.66L609 380.66L608.5 380.66L608 380.66L607.5 380.66L607 380.66L606.5 380.66L606 380.66L605.5 380.66L605 380.66L604.5 380.66L604 380.65L603.5 380.65L603 380.65L602.5 380.65L602 380.65L601.5 380.65L601 380.65L600.5 380.65L600 380.65L599.5 380.65L599 380.65L598.5 380.65L598 380.65L597.5 380.65L597 380.65L596.5 380.64L596 380.64L595.5 380.64L595 380.64L594.5 380.64L594 380.64L593.5 380.64L593 380.64L592.5 380.64L592 380.64L591.5 380.64L591 380.64L590.5 380.64L590 380.64L589.5 380.64L589 380.63L588.5 380.63L588 380.63L587.5 380.63L587 380.63L586.5 380.63L586 380.63L585.5 380.63L585 380.63L584.5 380.63L584 380.63L583.5 380.63L583 380.63L582.5 380.63L582 380.63L581.5 380.62L581 380.62L580.5 380.62L580 380.62L579.5 380.62L579 380.62L578.5 380.62L578 380.62L577.5 380.62L577 380.62L576.5 380.62L576 380.62L575.5 380.62L575 380.62L574.5 380.62L574 380.61L573.5 380.61L573 380.61L572.5 380.61L572 380.61L571.5 380.61L571 380.61L570.5 380.61L570 380.61L569.5 380.61L569 380.61L568.5 380.61L568 380.61L567.5 380.61L567 380.61L566.5 380.6L566 380.6L565.5 380.6L565 380.6L564.5 380.6L564 380.6L563.5 380.6L563 380.6L562.5 380.6L562 380.6L561.5 380.6L561 380.6L560.5 380.6L560 380.6L559.5 380.6L559 380.59L558.5 380.59L558 380.59L557.5 380.59L557 380.59L556.5 380.59L556 380.59L555.5 380.59L555 380.59L554.5 380.59L554 380.59L553.5 380.59L553 380.59L552.5 380.59L552 380.59L551.5 380.58L551 380.58L550.5 380.58L550 380.58L549.5 380.58L549 380.58L548.5 380.58L548 380.58L547.5 380.58L547 380.58L546.5 380.58L546 380.58L545.5 380.58L545 380.58L544.5 380.58L544 380.57L543.5 380.57L543 380.57L542.5 380.57L542 380.57L541.5 380.57L541 380.57L540.5 380.57L540 380.57L539.5 380.57L539 380.57L538.5 380.57L538 380.57L537.5 380.57L537 380.57L536.5 380.56L536 380.56L535.5 380.56L535 380.56L534.5 380.56L534 380.56L533.5 380.56L533 380.56L532.5 380.56L532 380.56L531.5 380.56L531 380.56L530.5 380.56L530 380.56L529.5 380.56L529 380.56L528.5 380.55L528 380.55L527.5 380.55L527 380.55L526.5 380.55L526 380.55L525.5 380.55L525 380.55L524.5 380.55L524 380.55L523.5 380.55L523 380.55L522.5 380.55L522 380.55L521.5 380.55L521 380.54L520.5 380.54L520 380.54L519.5 380.54L519 380.54L518.5 380.54L518 380.54L517.5 380.54L517 380.54L516.5 380.54L516 380.54L515.5 380.54L515 380.54L514.5 380.54L514 380.54L513.5 380.53L513 380.53L512.5 380.53L512 380.53L511.5 380.53L511 380.53L510.5 380.53L510 380.53L509.5 380.53L509 380.53L508.5 380.53L508 380.53L507.5 380.53L507 380.53L506.5 380.53L506 380.52L505.5 380.52L505 380.52L504.5 380.52L504 380.52L503.5 380.52L503 380.52L502.5 380.52L502 380.52L501.5 380.52L501 380.52L500.5 380.52L500 380.52L499.5 380.52L499 380.52L498.5 380.51L498 380.51L497.5 380.51L497 380.51L496.5 380.51L496 380.51L495.5 380.51L495 380.51L494.5 380.51L494 380.51L493.5 380.51L493 380.51L492.5 380.51L492 380.51L491.5 380.51L491 380.5L490.5 380.5L490 380.5L489.5 380.5L489 380.5L488.5 380.5L488 380.5L487.5 380.5L487 380.91L486.5 381.31L486 381.72L485.5 382.12L485 382.53L484.5 382.94L484 383.34L483.5 383.75L483 384.16L482.5 384.56L482 384.97L481.5 385.38L481 385.78L480.5 386.19L480 386.59L479.5 387L479 387.7L478.5 388.4L478 389.1L477.5 389.79L477 390.49L476.5 391.19L476 391.89L475.5 392.59L475 393.29L474.5 393.99L474 394.68L473.5 395.38L473 396.08L472.5 396.78L472 397.37L471.5 397.8L471 398.24L470.5 398.67L470 399.1L469.5 399.53L469 399.96L468.5 400.4L468 400.83L467.5 401.26L467 401.69L466.5 402.12L466 402.55L465.5 402.9L465 402.9L464.5 402.9L464 402.9L463.5 402.9L463 402.9L462.5 402.9L462 402.9L461.5 402.9L461 402.9L460.5 402.9L460 402.9L459.5 402.9L459 402.9L458.5 402.9L458 402.9L457.5 402.9L457 402.9L456.5 402.9L456 402.9L455.5 402.9L455 402.9L454.5 402.9L454 402.9L453.5 402.9L453 402.9L452.5 402.9L452 402.9L451.5 402.9L451 402.9L450.5 403.62L450 404.33L449.5 405.05L449 405.76L448.5 406.48L448 407.19L447.5 407.91L447 408.62L446.5 409.34L446 410.05L445.5 410.77L445 411.48L444.5 412.2L444 412.91L443.5 413.63L443 414.34L442.5 415.06L442 415.28L441.5 415.39L441 415.5L440.5 415.6L440 415.71L439.5 415.82L439 415.92L438.5 416.03L438 416.13L437.5 416.24L437 416.35L436.5 416.45L436 416.56L435.5 416.6L435 416.6L434.5 416.6L434 416.6L433.5 416.6L433 416.6L432.5 416.6L432 416.6L431.5 416.6L431 416.6L430.5 416.6L430 416.6L429.5 416.6L429 416.6L428.5 416.6L428 416.6L427.5 416.6L427 416.6L426.5 416.6L426 416.6L425.5 416.6L425 416.6L424.5 416.6L424 416.6L423.5 416.6L423 416.6L422.5 416.6L422 416.6L421.5 416.6L421 416.71L420.5 416.99L420 417.26L419.5 417.54L419 417.81L418.5 418.09L418 418.36L417.5 418.63L417 418.91L416.5 419.19L416 419.46L415.5 419.74L415 420.01L414.5 420.29L414 420.56L413.5 420.83L413 421.06L412.5 421.19L412 421.33L411.5 421.47L411 421.61L410.5 421.75L410 421.89L409.5 422.03L409 422.17L408.5 422.31L408 422.45L407.5 422.59L407 422.73L406.5 422.87L406 423.01L405.5 423.14L405 423.19L404.5 423.17L404 423.16L403.5 423.14L403 423.12L402.5 423.11L402 423.09L401.5 423.07L401 423.06L400.5 423.04L400 423.02L399.5 423.01L399 422.82L398.5 422.52L398 422.22L397.5 421.92L397 421.62Z" fill="#e3eadf"/>
<path d="M736.5 340.34L737 340.33L737.5 340.32L738 340.3L738.5 340.29L739 340.27L739.5 340.26L740 340.25L740.5 340.23L741 340.22L741.5 340.21L742 340.19L742.5 340.18L743 340.16L743.5 340.15L744 340.14L744.5 340.12L745 340.11L745.5 340.1L746 340.08L746.5 340.07L747 340.05L747.5 340.04L748 340.03L748.5 340.01L749 340L749.5 339.92L750 339.84L750.5 339.76L751 339.68L751.5 339.59L752 339.51L752.5 339.43L753 339.35L753.5 339.27L754 339.19L754.5 339.11L755 339.02L755.5 338.94L756 338.86L756.5 338.78L757 338.7L757.5 338.74L758 338.78L758.5 338.83L759 338.87L759.5 338.91L760 338.95L760.5 338.99L761 339.04L761.5 339.08L762 339.12L762.5 339.16L763 339.2L763.5 339.25L764 339.29L764.5 339.33L765 339.37L765.5 339.41L766 339.46L766.5 339.5L767 339.54L767.5 339.58L768 339.62L768.5 339.67L769 339.72L769.5 339.8L770 339.89L770.5 339.97L771 340.06L771.5 340.14L772 340.23L772.5 340.31L773 340.4L773.5 340.48L774 340.57L774.5 340.65L775 340.74L775.5 340.82L776 340.91L776.5 340.99L777 341.08L777.5 341.16L778 341.25L778.5 341.33L779 341.42L779.5 341.5L780 341.58L780.5 341.67L781 341.75L781.5 341.84L782 341.92L782.5 342.01L783 342.09L783.5 342.18L784 342.26L784.5 342.35L785 342.47L785.5 342.63L786 342.79L786.5 342.96L787 343.12L787.5 343.29L788 343.45L788.5 343.62L789 343.78L789.5 343.95L790 344.11L790.5 344.28L791 344.44L791.5 344.61L792 344.77L792.5 344.93L793 346L793.5 347.65L794 349.31L794.5 350.97L795 352.63L795.5 354.29L796 355.95L796.5 357.61L797 359.27L797.5 360.93L798 362.59L798.5 364.25L799 365.9L799.5 366.62L800 365.93L800.5 365.23L801 364.54L801.5 363.85L802 363.15L802.5 362.46L803 361.76L803.5 361.07L804 360.38L804.5 359.68L805 358.99L805.5 358.29L806 357.6L806.5 357.57L807 357.54L807.5 357.5L808 357.47L808.5 357.44L809 357.41L809.5 357.38L810 357.34L810.5 357.31L811 357.28L811.5 357.25L812 357.21L812.5 357.18L813 357.15L813.5 357.12L814 357.09L814.5 357.05L815 357.02L815.5 356.99L816 356.96L816.5 356.93L817 356.89L817.5 356.86L818 356.83L818.5 356.8L819 356.76L819.5 356.73L820 356.7L820.5 356.7L821 356.7L821.5 356.7L822 356.69L822.5 356.69L823 356.69L823.5 356.69L824 356.69L824.5 356.69L825 356.69L825.5 356.69L826 356.68L826.5 356.68L827 356.68L827.5 356.68L828 356.68L828.5 356.68L829 356.68L829.5 356.67L830 356.67L830.5 356.67L831 356.67L831.5 356.67L832 356.67L832.5 356.67L833 356.66L833.5 356.66L834 356.66L834.5 356.66L835 356.66L835.5 356.66L836 356.66L836.5 356.66L837 356.65L837.5 356.65L838 356.65L838.5 356.65L839 356.65L839.5 356.65L840 356.65L840.5 356.64L841 356.64L841.5 356.64L842 356.64L842.5 356.64L843 356.64L843.5 356.64L844 356.63L844.5 356.63L845 356.63L845.5 356.63L846 356.63L846.5 356.63L847 356.63L847.5 356.63L848 356.62L848.5 356.62L849 356.62L849.5 356.62L850 356.62L850.5 356.62L851 356.62L851.5 356.61L852 356.61L852.5 356.61L853 356.61L853.5 356.61L854 356.61L854.5 356.61L855 356.6L855.5 356.6L856 356.6L856.5 356.6L857 356.12L857.5 354.92L858 353.72L858.5 352.52L859 351.33L859.5 350.13L860 348.93L860.5 347.73L861 346.53L861.5 345.33L862 344.13L862.5 342.94L863 341.74L863.5 340.54L864 339.34L864.5 339.07L865 339.03L865.5 338.99L866 338.95L866.5 338.91L867 338.87L867.5 338.84L868 338.8L868.5 338.76L869 338.72L869 338.71L868.5 338.71L868 338.71L867.5 338.71L867 338.71L866.5 338.71L866 338.71L865.5 338.7L865 338.7L864.5 338.7L864 338.7L863.5 338.7L863 338.48L862.5 338.21L862 337.94L861.5 337.66L861 337.39L860.5 337.12L860 336.85L859.5 336.57L859 336.3L858.5 336.03L858 335.75L857.5 335.48L857 335.21L856.5 335.1L856 335.1L855.5 335.1L855 335.1L854.5 335.1L854 335.1L853.5 335.1L853 335.1L852.5 335.1L852 335.1L851.5 335.1L851 335.1L850.5 335.1L850 335.1L849.5 335.1L849 335.1L848.5 335.1L848 335.1L847.5 335.1L847 335.1L846.5 335.1L846 335.1L845.5 335.1L845 335.1L844.5 335.1L844 335.1L843.5 335.1L843 335.1L842.5 335.1L842 335.1L841.5 335.1L841 335.1L840.5 335.1L840 335.1L839.5 335.1L839 335.1L838.5 335.1L838 335.1L837.5 335.1L837 335.1L836.5 335.1L836 335.1L835.5 335.1L835 335.1L834.5 335.1L834 335.1L833.5 335.1L833 335.1L832.5 335.1L832 335.1L831.5 335.1L831 335.1L830.5 335.1L830 335.1L829.5 335.1L829 335.1L828.5 335.1L828 335.1L827.5 335.1L827 335.1L826.5 335.1L826 335.1L825.5 335.1L825 335.1L824.5 335.1L824 335.1L823.5 335.1L823 335.1L822.5 335.1L822 335.1L821.5 335.1L821 335.1L820.5 335.1L820 335.1L819.5 335.1L819 335.1L818.5 335.1L818 335.1L817.5 335.1L817 335.1L816.5 335.1L816 335.1L815.5 335.1L815 335.1L814.5 335.1L814 335.1L813.5 335.1L813 335.1L812.5 335.1L812 335.1L811.5 335.1L811 335.1L810.5 335.1L810 335.1L809.5 335.1L809 335.1L808.5 335.1L808 335.1L807.5 335.1L807 335.1L806.5 335.1L806 335.1L805.5 335.1L805 335.1L804.5 335.1L804 335.1L803.5 335.1L803 335.1L802.5 335.1L802 335.1L801.5 335.1L801 335.1L800.5 335.1L800 335.1L799.5 335.1L799 335.1L798.5 334.5L798 333.01L797.5 331.52L797 330.03L796.5 328.54L796 327.04L795.5 325.55L795 324.06L794.5 322.57L794 321.08L793.5 319.59L793 318.09L792.5 317.2L792 317.2L791.5 317.2L791 317.2L790.5 317.2L790 317.2L789.5 317.2L789 317.2L788.5 317.2L788 317.2L787.5 317.2L787 317.2L786.5 317.2L786 317.2L785.5 317.2L785 317.2L784.5 317.2L784 317.2L783.5 317.2L783 317.2L782.5 317.2L782 317.2L781.5 317.2L781 317.2L780.5 317.2L780 317.2L779.5 317.2L779 317.2L778.5 317.2L778 317.2L777.5 317.2L777 317.2L776.5 317.2L776 317.2L775.5 317.2L775 317.2L774.5 317.2L774 317.2L773.5 317.2L773 317.2L772.5 317.2L772 317.2L771.5 317.2L771 317.2L770.5 317.2L770 317.2L769.5 317.2L769 317.2L768.5 317.2L768 317.2L767.5 317.2L767 317.2L766.5 317.2L766 317.2L765.5 317.2L765 317.2L764.5 317.2L764 317.2L763.5 317.2L763 317.2L762.5 317.2L762 317.36L761.5 317.64L761 317.91L760.5 318.19L760 318.46L759.5 318.74L759 319.01L758.5 319.29L758 319.56L757.5 319.84L757 320.11L756.5 320.39L756 320.5L755.5 320.5L755 320.5L754.5 320.5L754 320.5L753.5 320.5L753 320.5L752.5 320.5L752 320.5L751.5 320.5L751 320.5L750.5 320.5L750 320.5L749.5 320.5L749 320.5L748.5 320.5L748 320.5L747.5 320.5L747 320.5L746.5 320.5L746 320.5L745.5 320.5L745 320.5L744.5 320.5L744 320.5L743.5 320.5L743 320.5L742.5 320.5L742 320.5L741.5 320.5L741 320.89L740.5 322.84L740 324.79L739.5 326.74L739 328.69L738.5 330.64L738 332.59L737.5 334.54L737 336.49L736.5 338.44Z" fill="#efdfee"/>
<path d="M869.5 338.68L870 338.64L870.5 338.6L871 338.56L871.5 338.53L872 338.49L872.5 338.45L873 338.41L873.5 338.37L874 338.33L874.5 338.29L875 338.25L875.5 338.22L876 338.18L876.5 338.14L877 338.1L877.5 338.06L878 338.02L878.5 337.98L879 337.94L879.5 337.9L880 337.87L880.5 337.83L881 337.79L881.5 337.75L882 337.71L882.5 337.67L883 337.63L883.5 337.59L884 337.56L884.5 337.52L885 337.48L885.5 337.44L886 337.4L886.5 337.15L887 336.9L887.5 336.66L888 336.41L888.5 336.16L889 335.91L889.5 335.66L890 335.41L890.5 335.17L891 334.92L891.5 334.67L892 334.42L892.5 334.17L893 333.92L893.5 333.68L894 333.43L894.5 333.18L895 332.93L895.5 332.68L896 332.43L896.5 332.19L897 331.94L897.5 331.69L898 331.44L898.5 331.19L899 330.94L899.5 330.7L900 330.45L900.5 330.2L901 330.2L901.5 330.2L902 330.2L902.5 330.2L903 330.2L903.5 330.2L904 330.2L904.5 330.2L905 330.2L905.5 330.2L906 330.2L906.5 330.2L907 330.2L907.5 330.2L908 330.2L908.5 330.2L909 330.2L909.5 330.2L910 330.2L910.5 330.2L911 330.2L911.5 330.2L912 330.2L912.5 330.2L913 330.2L913.5 330.2L914 330.2L914.5 330.2L915 330.2L915.5 330.2L916 330.2L916.5 330.2L917 330.2L917.5 330.2L918 330.2L918.5 330.2L919 330.2L919.5 330.2L920 330.2L920.5 330.2L921 330.2L921.5 330.2L922 330.2L922.5 330.2L923 330.2L923.5 330.2L924 330.2L924.5 330.2L925 330.2L925.5 330.2L926 330.2L926.5 330.2L927 330.2L927.5 330.2L928 330.2L928.5 330.2L929 330.2L929.5 330.2L930 330.2L930.5 330.2L931 330.2L931.5 330.2L932 330.2L932.5 330.2L933 330.2L933.5 330.2L934 330.2L934.5 330.2L935 330.2L935.5 330.2L936 330.2L936.5 330.2L937 330.2L937.5 330.2L938 330.2L938.5 330.2L939 330.2L939.5 330.2L940 330.2L940.5 330.2L941 330.2L941.5 330.2L942 330.2L942.5 330.2L943 330.2L943.5 330.2L944 330.36L944.5 330.55L945 330.75L945.5 330.95L946 331.15L946.5 331.34L947 331.54L947.5 331.74L948 331.93L948.5 332.13L949 332.33L949.5 332.52L950 332.72L950.5 332.78L951 332.74L951.5 332.69L952 332.65L952.5 332.61L953 332.57L953.5 332.53L954 332.49L954.5 332.45L955 332.41L955.5 332.37L956 332.33L956.5 332.29L957 332.25L957.5 332.21L958 332.17L958.5 332.13L959 332.09L959.5 332.05L960 332.01L960.5 331.96L961 331.92L961.5 331.88L962 331.84L962.5 331.8L963 331.76L963.5 331.72L964 331.68L964.5 331.64L965 331.6L965.5 329.78L966 327.97L966.5 326.15L967 324.33L967.5 322.51L968 320.7L968.5 318.88L969 317.06L969.5 315.25L970 313.43L970.5 311.61L971 309.8L971.5 307.98L972 306.16L972.5 304.34L973 302.53L973.5 300.71L974 298.9L974.5 297.09L975 295.27L975.5 293.46L976 291.64L976.5 289.83L977 288.02L977.5 286.2L978 284.39L978.5 282.58L979 280.76L979.5 278.95L980 277.35L980.5 276.61L981 275.87L981.5 275.13L982 274.39L982.5 273.65L983 272.92L983.5 272.18L984 271.44L984.5 270.7L985 269.96L985.5 269.22L986 268.48L986.5 267.74L987 267L987.5 266.87L988 266.73L988.5 266.6L989 266.47L989.5 266.34L990 266.2L990.5 266.07L991 265.94L991.5 265.81L992 265.67L992.5 265.54L993 265.41L993.5 265.28L994 265.14L994.5 265.01L995 264.88L995.5 264.8L996 264.8L996.5 264.8L997 264.8L997.5 264.8L998 264.8L998.5 264.8L999 264.8L999.5 264.8L1000 264.8L1000.5 264.8L1001 264.8L1001.5 264.8L1002 264.8L1002.5 264.8L1003 264.8L1003.5 264.8L1004 264.8L1004.5 264.8L1005 264.8L1005.5 264.8L1006 264.8L1006.5 264.8L1007 264.8L1007.5 264.8L1008 264.8L1008.5 264.8L1009 264.66L1009.5 264.48L1010 264.31L1010.5 264.13L1011 263.96L1011.5 263.78L1012 263.61L1012.5 263.43L1013 263.26L1013.5 263.08L1014 262.91L1014.5 262.73L1015 262.56L1015.5 262.38L1016 262.21L1016.5 261.93L1017 261.52L1017.5 261.1L1018 260.68L1018.5 260.27L1019 259.85L1019.5 259.43L1020 259.02L1020.5 258.6L1021 258.18L1021.5 257.77L1022 257.35L1022.5 256.93L1023 256.6L1023.5 256.6L1024 256.6L1024.5 256.6L1025 256.6L1025.5 256.6L1026 256.6L1026.5 256.6L1027 256.6L1027.5 256.6L1028 256.6L1028.5 256.6L1029 256.6L1029.5 256.6L1030 256.6L1030.5 256.6L1031 256.6L1031.5 256.6L1032 255.83L1032.5 254.54L1033 253.25L1033.5 251.96L1034 250.67L1034.5 249.38L1035 248.09L1035.5 246.8L1036 245.51L1036.5 244.22L1037 242.94L1037.5 241.65L1038 240.36L1038.5 239.86L1039 239.56L1039.5 239.26L1040 238.97L1040.5 238.67L1041 238.37L1041.5 238.07L1042 237.77L1042.5 237.47L1043 237.17L1043.5 236.88L1044 236.58L1044.5 236.28L1045 236.14L1045.5 236.24L1046 236.34L1046.5 236.44L1047 236.55L1047.5 236.65L1048 236.75L1048.5 236.85L1049 236.95L1049.5 237.05L1050 237.15L1050.5 237.25L1051 237.35L1051.5 237.46L1052 237.56L1052.5 237.66L1053 237.76L1053.5 237.75L1054 237.68L1054.5 237.6L1055 237.53L1055.5 237.45L1056 237.38L1056.5 237.3L1057 237.23L1057.5 237.15L1058 237.08L1058.5 237L1059 236.93L1059.5 236.85L1060 236.78L1060.5 236.7L1061 236.62L1061.5 236.55L1062 236.47L1062.5 236.4L1063 236.32L1063.5 236.25L1064 236.17L1064.5 236.1L1065 236.02L1065.5 235.95L1066 235.87L1066.5 235.8L1067 235.72L1067.5 235.65L1068 235.3L1068.5 234.55L1069 233.8L1069.5 233.05L1070 232.3L1070.5 231.55L1071 230.8L1071.5 230.05L1072 229.3L1072.5 228.55L1073 227.8L1073.5 227.05L1074 226.3L1074.5 225.55L1075 224.8L1075.5 224.05L1076 223.3L1076.5 222.55L1077 221.8L1077.5 221.05L1078 220.3L1078.5 219.55L1079 218.8L1079.5 218.05L1080 217.3L1080.5 216.55L1081 215.8L1081.5 215.05L1082 214.3L1082.5 213.68L1083 213.6L1083.5 213.52L1084 213.44L1084.5 213.35L1085 213.27L1085.5 213.19L1086 213.11L1086.5 213.03L1087 212.94L1087.5 212.86L1088 212.78L1088.5 212.7L1089 212.61L1089.5 212.53L1090 212.45L1090.5 212.62L1091 213.16L1091.5 213.71L1092 214.25L1092.5 214.8L1093 215.34L1093.5 215.88L1094 216.43L1094.5 216.97L1095 217.52L1095.5 218.06L1096 218.61L1096.5 219.15L1097 219.7L1097.5 220.24L1098 220.79L1098.5 221.33L1099 221.87L1099.5 222.42L1100 222.96L1100.5 223.51L1101 224.05L1101.5 224.6L1102 225.14L1102.5 225.69L1103 226.23L1103.5 226.78L1104 227.32L1104.5 227.86L1105 228.3L1105.5 228.3L1106 228.3L1106.5 228.3L1107 228.29L1107.5 228.29L1108 228.29L1108.5 228.29L1109 228.29L1109.5 228.29L1110 228.29L1110.5 228.28L1111 228.28L1111.5 228.28L1112 228.28L1112.5 228.28L1113 228.28L1113.5 228.28L1114 228.27L1114.5 228.27L1115 228.27L1115.5 228.27L1116 228.27L1116.5 228.27L1117 228.27L1117.5 228.26L1118 228.26L1118.5 228.26L1119 228.26L1119.5 228.26L1120 228.26L1120.5 228.26L1121 228.25L1121.5 228.25L1122 228.25L1122.5 228.25L1123 228.25L1123.5 228.25L1124 228.25L1124.5 228.24L1125 228.24L1125.5 228.24L1126 228.24L1126.5 228.24L1127 228.24L1127.5 228.24L1128 228.23L1128.5 228.23L1129 228.23L1129.5 228.23L1130 228.23L1130.5 228.23L1131 228.22L1131.5 228.22L1132 228.22L1132.5 228.22L1133 228.22L1133.5 228.22L1134 228.22L1134.5 228.21L1135 228.21L1135.5 228.21L1136 228.21L1136.5 228.21L1137 228.21L1137.5 228.21L1138 228.2L1138.5 228.2L1139 228.2L1139.5 228.2L1140 228.93L1140.5 230.15L1141 231.36L1141.5 232.58L1142 233.8L1142.5 235.01L1143 236.23L1143.5 237.44L1144 238.66L1144.5 239.88L1145 241.09L1145.5 242.31L1146 243.53L1146.5 244.54L1147 244.73L1147.5 244.93L1148 245.12L1148.5 245.32L1149 245.51L1149.5 245.71L1150 245.9L1150.5 246.1L1151 246.29L1151.5 246.49L1152 246.68L1152.5 246.88L1153 247.07L1153.5 247.27L1154 247.46L1154.5 247.66L1155 247.85L1155.5 248.05L1156 248.24L1156.5 248.44L1157 248.63L1157.5 248.83L1158 249.02L1158.5 249.22L1159 249.41L1159.5 249.61L1160 249.8L1160.5 250L1161 250.19L1161.5 250.39L1162 250.58L1162.5 250.62L1163 250.42L1163.5 250.23L1164 250.03L1164.5 249.83L1165 249.64L1165.5 249.44L1166 249.24L1166.5 249.05L1167 248.85L1167.5 248.65L1168 248.45L1168.5 248.26L1169 248.1L1169.5 248.1L1170 248.1L1170.5 248.1L1171 248.1L1171.5 248.1L1172 248.1L1172.5 248.1L1173 248.1L1173.5 248.1L1174 248.1L1174.5 248.1L1175 248.1L1175.5 248.1L1176 248.1L1176.5 248.1L1177 248.1L1177.5 248.1L1178 248.1L1178.5 248.1L1179 248.1L1179.5 248.1L1180 248.1L1180.5 248.1L1181 248.1L1181.5 248.1L1182 248.1L1182.5 248.1L1183 248.1L1183.5 248.1L1184 248.1L1184.5 248.1L1185 248.1L1185.5 248.1L1186 248.1L1186.5 248.1L1187 248.1L1187.5 248.1L1188 248.1L1188.5 248.1L1189 248.1L1189.5 248.1L1190 248.1L1190.5 248.1L1191 248.1L1191.5 248.1L1192 248.1L1192.5 248.1L1193 248.1L1193.5 248.1L1194 248.1L1194.5 248.1L1195 248.1L1195.5 248.1L1196 248.1L1196.5 248.1L1197 248.1L1197.5 248.1L1198 248.1L1198.5 248.1L1199 248.1L1199.5 248.1L1200 248.1L1200.5 248.1L1201 248.1L1201.5 248.1L1202 248.1L1202.5 248.1L1203 248.1L1203.5 248.1L1204 248.1L1204.5 248.1L1205 248.1L1205.5 248.1L1205.5 248.9L1205 249.21L1204.5 249.73L1204 250.24L1203.5 250.76L1203 251.28L1202.5 251.79L1202 252.31L1201.5 252.83L1201 253.34L1200.5 253.86L1200 254.38L1199.5 254.89L1199 255.1L1198.5 255.1L1198 255.1L1197.5 255.1L1197 255.1L1196.5 255.1L1196 255.1L1195.5 255.1L1195 255.1L1194.5 255.1L1194 255.1L1193.5 255.1L1193 255.1L1192.5 255.1L1192 255.1L1191.5 255.1L1191 255.1L1190.5 255.1L1190 255.1L1189.5 255.1L1189 255.1L1188.5 255.1L1188 255.1L1187.5 255.1L1187 255.1L1186.5 255.1L1186 255.1L1185.5 255.1L1185 255.1L1184.5 255.1L1184 255.1L1183.5 255.1L1183 255.43L1182.5 255.85L1182 256.27L1181.5 256.68L1181 257.1L1180.5 257.52L1180 257.93L1179.5 258.35L1179 258.77L1178.5 259.18L1178 259.6L1177.5 260.02L1177 260.43L1176.5 260.85L1176 261.63L1175.5 262.94L1175 264.26L1174.5 265.57L1174 266.89L1173.5 268.2L1173 269.52L1172.5 270.83L1172 272.15L1171.5 273.46L1171 274.78L1170.5 276.09L1170 277.41L1169.5 278.72L1169 280.04L1168.5 280.3L1168 280.3L1167.5 280.3L1167 280.29L1166.5 280.29L1166 280.29L1165.5 280.29L1165 280.29L1164.5 280.29L1164 280.28L1163.5 280.28L1163 280.28L1162.5 280.28L1162 280.28L1161.5 280.27L1161 280.27L1160.5 280.27L1160 280.27L1159.5 280.27L1159 280.27L1158.5 280.26L1158 280.26L1157.5 280.26L1157 280.26L1156.5 280.26L1156 280.26L1155.5 280.25L1155 280.25L1154.5 280.25L1154 280.25L1153.5 280.25L1153 280.25L1152.5 280.24L1152 280.24L1151.5 280.24L1151 280.24L1150.5 280.24L1150 280.24L1149.5 280.23L1149 280.23L1148.5 280.23L1148 280.23L1147.5 280.23L1147 280.23L1146.5 280.22L1146 280.22L1145.5 280.22L1145 280.22L1144.5 280.22L1144 280.22L1143.5 280.21L1143 280.21L1142.5 280.21L1142 280.21L1141.5 280.21L1141 280.2L1140.5 280.2L1140 280.2L1139.5 280.2L1139 280.2L1138.5 280.2L1138 280.19L1137.5 280.19L1137 280.19L1136.5 280.19L1136 280.19L1135.5 280.19L1135 280.18L1134.5 280.18L1134 280.18L1133.5 280.18L1133 280.18L1132.5 280.18L1132 280.17L1131.5 280.17L1131 280.17L1130.5 280.17L1130 280.17L1129.5 280.17L1129 280.16L1128.5 280.16L1128 280.16L1127.5 280.16L1127 280.16L1126.5 280.16L1126 280.15L1125.5 280.15L1125 280.15L1124.5 280.15L1124 280.15L1123.5 280.15L1123 280.14L1122.5 280.14L1122 280.14L1121.5 280.14L1121 280.14L1120.5 280.13L1120 280.13L1119.5 280.13L1119 280.13L1118.5 280.13L1118 280.13L1117.5 280.12L1117 280.12L1116.5 280.12L1116 280.12L1115.5 280.12L1115 280.12L1114.5 280.11L1114 280.11L1113.5 280.11L1113 280.11L1112.5 280.11L1112 280.11L1111.5 280.1L1111 280.1L1110.5 280.1L1110 280.1L1109.5 280.1L1109 280.1L1108.5 280.09L1108 280.09L1107.5 280.09L1107 280.09L1106.5 280.09L1106 280.09L1105.5 280.08L1105 280.08L1104.5 280.08L1104 280.08L1103.5 280.08L1103 280.08L1102.5 280.07L1102 280.07L1101.5 280.07L1101 280.07L1100.5 280.07L1100 280.07L1099.5 280.06L1099 280.06L1098.5 280.06L1098 280.06L1097.5 280.06L1097 280.05L1096.5 280.05L1096 280.05L1095.5 280.05L1095 280.05L1094.5 280.05L1094 280.04L1093.5 280.04L1093 280.04L1092.5 280.04L1092 280.04L1091.5 280.04L1091 280.03L1090.5 280.03L1090 280.03L1089.5 280.03L1089 280.03L1088.5 280.03L1088 280.02L1087.5 280.02L1087 280.02L1086.5 280.02L1086 280.02L1085.5 280.02L1085 280.01L1084.5 280.01L1084 280.01L1083.5 280.01L1083 280.01L1082.5 280.01L1082 280L1081.5 280L1081 280L1080.5 280.58L1080 281.31L1079.5 282.04L1079 282.77L1078.5 283.5L1078 284.22L1077.5 284.95L1077 285.68L1076.5 286.41L1076 287.14L1075.5 287.87L1075 288.59L1074.5 289.32L1074 290.05L1073.5 290.78L1073 291.51L1072.5 292.24L1072 292.96L1071.5 293.69L1071 294.42L1070.5 295.15L1070 295.88L1069.5 296.61L1069 297.33L1068.5 298.06L1068 298.5L1067.5 298.5L1067 298.5L1066.5 298.5L1066 298.5L1065.5 298.5L1065 298.5L1064.5 298.5L1064 298.5L1063.5 298.5L1063 298.5L1062.5 298.5L1062 298.5L1061.5 298.5L1061 298.5L1060.5 298.5L1060 298.5L1059.5 298.5L1059 298.5L1058.5 298.5L1058 298.5L1057.5 298.5L1057 298.5L1056.5 298.5L1056 298.5L1055.5 298.5L1055 298.5L1054.5 298.5L1054 298.5L1053.5 298.5L1053 298.5L1052.5 298.5L1052 298.5L1051.5 298.5L1051 298.5L1050.5 298.5L1050 298.5L1049.5 298.5L1049 298.5L1048.5 298.5L1048 298.5L1047.5 298.5L1047 298.5L1046.5 298.5L1046 298.5L1045.5 298.5L1045 298.5L1044.5 298.5L1044 298.5L1043.5 298.5L1043 298.5L1042.5 298.5L1042 298.5L1041.5 298.5L1041 298.5L1040.5 298.5L1040 298.5L1039.5 298.5L1039 298.5L1038.5 298.5L1038 298.5L1037.5 298.5L1037 298.5L1036.5 298.5L1036 298.5L1035.5 298.5L1035 298.5L1034.5 298.5L1034 298.5L1033.5 298.5L1033 298.5L1032.5 298.5L1032 298.5L1031.5 298.5L1031 298.5L1030.5 298.5L1030 298.5L1029.5 298.5L1029 298.5L1028.5 298.5L1028 298.5L1027.5 298.5L1027 298.5L1026.5 298.5L1026 298.5L1025.5 298.5L1025 298.5L1024.5 298.5L1024 298.5L1023.5 298.5L1023 298.5L1022.5 298.5L1022 298.5L1021.5 298.5L1021 298.5L1020.5 298.5L1020 298.5L1019.5 298.5L1019 298.5L1018.5 298.5L1018 298.5L1017.5 298.5L1017 298.5L1016.5 298.5L1016 298.5L1015.5 298.5L1015 298.5L1014.5 298.5L1014 298.5L1013.5 298.5L1013 298.5L1012.5 298.5L1012 298.5L1011.5 298.5L1011 298.5L1010.5 298.5L1010 298.5L1009.5 298.5L1009 298.5L1008.5 298.5L1008 298.5L1007.5 298.5L1007 298.5L1006.5 298.5L1006 298.5L1005.5 298.5L1005 298.5L1004.5 298.5L1004 298.5L1003.5 298.5L1003 298.5L1002.5 298.5L1002 298.5L1001.5 298.5L1001 298.5L1000.5 298.5L1000 298.5L999.5 298.5L999 298.5L998.5 298.5L998 298.5L997.5 298.5L997 298.5L996.5 298.5L996 298.5L995.5 298.5L995 298.5L994.5 298.5L994 298.5L993.5 298.5L993 298.5L992.5 298.5L992 298.5L991.5 298.5L991 298.5L990.5 298.5L990 298.5L989.5 298.5L989 298.5L988.5 298.5L988 298.5L987.5 298.5L987 298.5L986.5 298.5L986 298.5L985.5 298.5L985 298.5L984.5 298.5L984 298.5L983.5 298.5L983 298.5L982.5 298.5L982 298.5L981.5 298.5L981 298.5L980.5 298.5L980 300.09L979.5 302.09L979 304.08L978.5 306.07L978 308.07L977.5 310.06L977 312.05L976.5 314.05L976 316.04L975.5 318.03L975 320.03L974.5 322.02L974 324.01L973.5 326L973 327.77L972.5 329.19L972 330.62L971.5 332.04L971 333.46L970.5 334.88L970 336.31L969.5 337.73L969 339.15L968.5 340.58L968 342L967.5 343.42L967 344.85L966.5 346.27L966 347.69L965.5 349.12L965 349.4L964.5 349.4L964 349.4L963.5 349.4L963 349.4L962.5 349.4L962 349.4L961.5 349.4L961 349.4L960.5 349.4L960 349.4L959.5 349.4L959 349.26L958.5 349.12L958 348.98L957.5 348.84L957 348.7L956.5 348.56L956 348.42L955.5 348.28L955 348.14L954.5 348L954 347.86L953.5 347.72L953 347.58L952.5 347.44L952 347.3L951.5 347.16L951 347.02L950.5 346.88L950 346.8L949.5 346.8L949 346.8L948.5 346.8L948 346.8L947.5 346.8L947 346.8L946.5 346.8L946 346.8L945.5 346.8L945 346.8L944.5 346.8L944 346.8L943.5 346.8L943 346.8L942.5 346.8L942 346.8L941.5 346.8L941 346.8L940.5 346.8L940 346.8L939.5 346.8L939 346.8L938.5 346.8L938 346.8L937.5 346.8L937 346.8L936.5 346.8L936 346.8L935.5 346.8L935 346.8L934.5 346.8L934 346.8L933.5 346.8L933 346.8L932.5 346.8L932 346.8L931.5 346.8L931 346.8L930.5 346.8L930 346.8L929.5 346.8L929 346.8L928.5 346.8L928 346.8L927.5 346.8L927 346.8L926.5 346.8L926 346.8L925.5 346.8L925 346.8L924.5 346.8L924 346.8L923.5 346.8L923 346.8L922.5 346.8L922 346.4L921.5 345.9L921 345.4L920.5 344.9L920 344.4L919.5 343.9L919 343.4L918.5 342.9L918 342.4L917.5 341.9L917 341.4L916.5 340.9L916 340.4L915.5 339.9L915 339.4L914.5 338.9L914 338.8L913.5 338.8L913 338.8L912.5 338.8L912 338.8L911.5 338.79L911 338.79L910.5 338.79L910 338.79L909.5 338.79L909 338.79L908.5 338.79L908 338.79L907.5 338.79L907 338.79L906.5 338.78L906 338.78L905.5 338.78L905 338.78L904.5 338.78L904 338.78L903.5 338.78L903 338.78L902.5 338.78L902 338.78L901.5 338.77L901 338.77L900.5 338.77L900 338.77L899.5 338.77L899 338.77L898.5 338.77L898 338.77L897.5 338.77L897 338.77L896.5 338.76L896 338.76L895.5 338.76L895 338.76L894.5 338.76L894 338.76L893.5 338.76L893 338.76L892.5 338.76L892 338.76L891.5 338.76L891 338.75L890.5 338.75L890 338.75L889.5 338.75L889 338.75L888.5 338.75L888 338.75L887.5 338.75L887 338.75L886.5 338.75L886 338.74L885.5 338.74L885 338.74L884.5 338.74L884 338.74L883.5 338.74L883 338.74L882.5 338.74L882 338.74L881.5 338.74L881 338.73L880.5 338.73L880 338.73L879.5 338.73L879 338.73L878.5 338.73L878 338.73L877.5 338.73L877 338.73L876.5 338.73L876 338.72L875.5 338.72L875 338.72L874.5 338.72L874 338.72L873.5 338.72L873 338.72L872.5 338.72L872 338.72L871.5 338.72L871 338.71L870.5 338.71L870 338.71L869.5 338.71Z" fill="#e3eadf"/>
<path d="M10 363L16 362L26.6 358.4L32.4 356.2L38.5 346.9L44.3 345.2L58.4 345.2L64.2 346.9L69 349.7L82.2 354.3L96.8 357L108.7 362.3L124.6 368.9L136 373.5L164.4 373L196.2 369L204.2 364.4L216 357.7L233.3 353.8L240 359.7L251.6 390L276 447.4L290.3 450.3L300 459L307 469.4L313.2 476.5L322 481L335.3 477.4L348.6 465.9L353 465L363.6 463.7L377.7 458L384.8 440L400.7 392L408 378.4L414.6 367.8L429.1 365.8L439.7 359.9L453 350.3L472.8 336L486 324L500 307.6L508 295L515.9 284.4L526.5 279.8L535.8 277.8L543.7 279.1L551.7 283.1L559.6 280.5L568.9 286.4L580.8 295L592.7 304.3L600.7 304.3L609.9 301L617.2 295.6L633.1 298.5L647 311.1L661 333L676.8 352.2L692.7 358.1L719.9 354.3L734.4 355L753 352.3L766.2 350.3L786 349.7L806 353L819.7 355.2L839.6 335.4L856.8 324.8L872.7 324.8L886 314.2L899.9 303.7L919.7 309.7L937 312.3L950.2 311.7L960 313.4L976.6 316L987 317.3L995.3 304L1000.8 288.6L1006.4 262L1017.4 240L1019.6 229.5L1028.9 215.6L1036.8 218.9L1046.1 224.2L1057.2 220.3L1079.7 214.4L1093 207.7L1103.6 205.1L1111.5 206.4L1119.5 215L1130 238.9L1140.7 260L1146.4 267.7L1155.6 277L1168.9 280.9L1183.4 282.3L1190 277.6L1199.3 273L1205.3 267" stroke="#90ee90" stroke-width="2" fill="none" stroke-linejoin="round"/>
<path d="M10 398.7L36.5 398.7L45.1 384.8L51.8 381.3L119.5 381.3L130 377L140.7 376.8L146 373.8L163 373.6L202.8 373.6L214.8 367L222.7 375.6L229.3 389.5L238.7 392.9L263 392.9L268.8 395.7L276 414.4L384.8 414.3L399.3 423L405.3 423.2L413.2 421L421.2 416.6L435.8 416.6L442.4 415.2L451 402.9L465.6 402.9L472.2 397.2L479.5 387L487.5 380.5L638.4 380.7L667.5 375.4L675.5 365.4L711.9 365.2L726.5 357.6L733.1 351.7L741.1 320.5L756.3 320.5L762.3 317.2L792.7 317.2L798.7 335.1L856.8 335.1L863.4 338.7L914.4 338.8L922.4 346.8L950.2 346.8L959.5 349.4L965.4 349.4L973.2 327.2L980.4 298.5L1068.2 298.5L1080.9 280L1168.9 280.3L1176.2 261.1L1183.4 255.1L1199.3 255.1L1205.3 248.9" stroke="#ff00ff" stroke-width="2" fill="none" stroke-linejoin="round"/>
<path d="M10 363L16 362L26.6 358.4L32.4 356.2L34.6 351.8L39.9 349.3L50.9 349.3L58.4 348.2L66.4 348.2L80 351.8L87.5 354.6L102.1 355.6L110 361.2L114.2 362.6L124.6 363.3L139.3 365.7L169.7 365.7L177.7 365L184.3 359.7L196.2 359.7L204.2 363L216.1 363.7L222.7 378.3L228.7 399.3L240.1 403.6L257.3 404.3L268.8 407.9L275.3 426.6L283.2 430.9L290.3 445.2L299 448.1L314.1 448.3L341.5 451.8L354.7 446.5L361.8 430.6L363.6 420.7L392.7 421.3L399.3 421.7L405.3 418.1L421.2 402.3L429.1 387L435.8 387L442.4 385L451 371.4L457.6 371.4L465.6 367.8L472.2 359.9L479.5 347.3L487.4 336L508.6 336.8L517.2 330.8L533.1 322.2L549 310.9L558.3 310.9L580.8 309.3L592.7 304.3L600.7 304.3L608 307.8L617.2 305.4L624.5 306.2L631.8 319.7L638.4 323L653 324.4L674.2 328.7L683.4 329.3L696.7 340.7L706 339.6L715.9 336.4L726.5 336L734.4 340.4L749 340L757 338.7L768.9 339.7L784.8 342.4L792.7 345L799.3 366.9L806 357.6L820 356.7L856.8 356.6L864.1 339.1L886 337.4L900.5 330.2L943.6 330.2L950.2 332.8L965 331.6L973.2 301.8L979.9 277.5L987 267L995.3 264.8L1008.6 264.8L1016.3 262.1L1022.9 256.6L1031.7 256.6L1038.1 240.1L1044.8 236.1L1053.2 237.8L1067.8 235.6L1082.4 213.7L1090.3 212.4L1104.9 228.3L1139.7 228.2L1146.4 244.5L1162.3 250.7L1168.9 248.1L1205.3 248.1" stroke="#00ff00" stroke-width="2" fill="none" stroke-linejoin="round"/>
<path d="M17 252.5H1557" stroke="#ff0000" stroke-width="1" stroke-dasharray="1 2"/>
<path d="M1212.6 270.5L1255.8 499.1M1270.5 497L1364.8 141.7" stroke="#9a9a9a" stroke-width="1" stroke-dasharray="1 2" fill="none"/>
<circle cx="17.3" cy="308.9" r="5.3" fill="#959595"/>
<circle cx="31.2" cy="330" r="6.4" fill="#3cb371"/>
<circle cx="23.3" cy="324.8" r="10.3" fill="#959595"/>
<circle cx="23.3" cy="324.8" r="5.3" fill="#912d2d"/>
<path d="M67 336.7h4v-4h4v4h4v4h-4v4h-4v-4h-4z" fill="#ff0000"/>
<circle cx="23.3" cy="371.5" r="2.6" fill="#959595"/>
<path d="M52.8 368h4v-4h4v4h4v4h-4v4h-4v-4h-4z" fill="#3cb371"/>
<circle cx="102.3" cy="359.5" r="2.6" fill="#959595"/>
<circle cx="146.2" cy="361" r="2.6" fill="#959595"/>
<circle cx="146.2" cy="387.5" r="2.6" fill="#959595"/>
<circle cx="102.3" cy="379.9" r="10" fill="#ff0000"/>
<circle cx="102.9" cy="386.5" r="10" fill="#ff9f43"/>
<circle cx="95.6" cy="386.5" r="6.4" fill="#006400"/>
<circle cx="102.3" cy="382.3" r="5.6" fill="#ffffff"/>
<circle cx="124.8" cy="391.1" r="6.4" fill="#006400"/>
<circle cx="117.5" cy="393.1" r="2.6" fill="#959595"/>
<circle cx="117.5" cy="403" r="10.3" fill="#00ff00"/>
<circle cx="117.5" cy="403" r="5.6" fill="#ffffff"/>
<circle cx="182.3" cy="341.2" r="2.6" fill="#959595"/>
<circle cx="219.5" cy="344.2" r="6.4" fill="#3cb371"/>
<circle cx="255.2" cy="435.5" r="2.6" fill="#959595"/>
<circle cx="226.5" cy="464.3" r="5.5" fill="#959595"/>
<circle cx="240.1" cy="476.1" r="10.3" fill="#00ff00"/>
<circle cx="240.1" cy="476.1" r="5.5" fill="#ffffff"/>
<circle cx="248.5" cy="465.3" r="10.3" fill="#959595"/>
<circle cx="277.4" cy="509.4" r="2.6" fill="#959595"/>
<circle cx="298.5" cy="506.2" r="6.5" fill="#0000ff"/>
<circle cx="313.3" cy="449.3" r="2.6" fill="#959595"/>
<circle cx="327.4" cy="478.3" r="6.6" fill="#ff00ff"/>
<circle cx="342.4" cy="478.7" r="2.6" fill="#959595"/>
<path d="M358.3 450.8h4v-4h4v4h4v4h-4v4h-4v-4h-4z" fill="#3cb371"/>
<circle cx="364.2" cy="345.4" r="5.3" fill="#959595"/>
<circle cx="378.4" cy="340.9" r="9.9" fill="#00ff00"/>
<circle cx="378.4" cy="340.9" r="5.6" fill="#ffffff"/>
<circle cx="384.8" cy="353.1" r="9.9" fill="#959595"/>
<circle cx="393.4" cy="350.2" r="6.4" fill="#0000ff"/>
<circle cx="385.4" cy="389.5" r="2.6" fill="#959595"/>
<path d="M401.3 369h4v-4h4v4h4v4h-4v4h-4v-4h-4z" fill="#3cb371"/>
<circle cx="422.3" cy="325.1" r="10.3" fill="#ff0000"/>
<circle cx="422.3" cy="325.1" r="5.6" fill="#ffffff"/>
<circle cx="422.3" cy="325.1" r="2.6" fill="#959595"/>
<circle cx="451.1" cy="299.1" r="9.5" fill="#ff0000"/>
<circle cx="451.1" cy="297.2" r="2.5" fill="#959595"/>
<circle cx="458.6" cy="297.7" r="6.2" fill="#0000ff"/>
<circle cx="451.4" cy="362.5" r="2.6" fill="#959595"/>
<circle cx="501.3" cy="295.3" r="2.6" fill="#959595"/>
<circle cx="545.3" cy="259.3" r="2.6" fill="#959595"/>
<circle cx="581.1" cy="275.2" r="2.6" fill="#959595"/>
<circle cx="538.4" cy="309" r="10.3" fill="#ff0000"/>
<circle cx="538.4" cy="314.2" r="10.3" fill="#ff9f43"/>
<circle cx="552.3" cy="344" r="2.6" fill="#959595"/>
<circle cx="625.2" cy="347.5" r="10.3" fill="#00ff00"/>
<circle cx="625.4" cy="291.3" r="2.6" fill="#959595"/>
<path d="M625.8 302.9h4v-4h4v4h4v4h-4v4h-4v-4h-4z" fill="#ff0000"/>
<circle cx="668.2" cy="344.6" r="2.6" fill="#959595"/>
<circle cx="639.5" cy="384" r="2.6" fill="#959595"/>
<circle cx="647" cy="375.4" r="10.3" fill="#959595"/>
<circle cx="661.2" cy="378.3" r="6.4" fill="#006400"/>
<circle cx="639.6" cy="395.5" r="10" fill="#00ff00"/>
<circle cx="639.6" cy="393" r="5.5" fill="#0000ff"/>
<circle cx="639.6" cy="400.5" r="10" fill="#00ff00"/>
<circle cx="639.6" cy="400.3" r="5.7" fill="#ffffff"/>
<circle cx="690.3" cy="370.3" r="2.6" fill="#959595"/>
<circle cx="712.3" cy="334.3" r="2.6" fill="#959595"/>
<circle cx="726.5" cy="364.5" r="2.6" fill="#959595"/>
<circle cx="763.3" cy="339.3" r="2.6" fill="#959595"/>
<path d="M771.5 334.5h4v-4h4v4h4v4h-4v4h-4v-4h-4z" fill="#ff0000"/>
<circle cx="777.5" cy="340.4" r="6.4" fill="#3cb371"/>
<circle cx="777.5" cy="364.5" r="2.6" fill="#959595"/>
<path d="M792.7 337.7h4v-4h4v4h4v4h-4v4h-4v-4h-4z" fill="#ff0000"/>
<circle cx="799.3" cy="417.9" r="2.6" fill="#959595"/>
<circle cx="813.4" cy="286.4" r="5.3" fill="#959595"/>
<circle cx="813.4" cy="295.4" r="2.6" fill="#959595"/>
<circle cx="828.3" cy="320.1" r="9.9" fill="#959595"/>
<circle cx="828.3" cy="320.1" r="5.3" fill="#912d2d"/>
<circle cx="864.1" cy="282.6" r="2.6" fill="#959595"/>
<circle cx="879.3" cy="284.4" r="6.4" fill="#3cb371"/>
<circle cx="886.2" cy="282.6" r="2.6" fill="#959595"/>
<circle cx="908.5" cy="293.4" r="2.6" fill="#959595"/>
<circle cx="900.5" cy="340.4" r="2.6" fill="#959595"/>
<circle cx="929.4" cy="334.4" r="2.6" fill="#959595"/>
<circle cx="958.4" cy="333.5" r="2.6" fill="#959595"/>
<circle cx="980.5" cy="168.3" r="5.3" fill="#959595"/>
<circle cx="980.5" cy="179.4" r="2.6" fill="#959595"/>
<circle cx="1002.4" cy="199.3" r="10.3" fill="#959595"/>
<circle cx="1045.4" cy="189.5" r="2.6" fill="#959595"/>
<circle cx="1045.4" cy="237.4" r="2.6" fill="#959595"/>
<circle cx="1082.4" cy="141.5" r="10.3" fill="#ff0000"/>
<circle cx="1082.4" cy="141.5" r="5.6" fill="#ffffff"/>
<circle cx="1082.4" cy="141.5" r="2.6" fill="#959595"/>
<circle cx="1089.7" cy="191.5" r="6.4" fill="#0000ff"/>
<circle cx="1169.1" cy="236.6" r="2.6" fill="#959595"/>
<path d="M1141 255.1h4v-4h4v4h4v4h-4v4h-4v-4h-4z" fill="#ff0000"/>
<circle cx="1104.2" cy="298.1" r="2.6" fill="#959595"/>
<circle cx="1111.3" cy="302.1" r="5.3" fill="#959595"/>
<circle cx="1118.5" cy="292.2" r="10.3" fill="#959595"/>
<path d="M1133.7 287.5h4v-4h4v4h4v4h-4v4h-4v-4h-4z" fill="#3cb371"/>
<circle cx="1133.4" cy="296.2" r="6.4" fill="#006400"/>
<circle cx="1147.4" cy="308.5" r="2.6" fill="#959595"/>
<circle cx="1183.4" cy="289.5" r="2.6" fill="#959595"/>
<rect x="-21" y="252.2" width="88.7" height="30.4" rx="4" fill="#9c5b03"/>
<path d="M13.3 281.6L23.3 293L33.3 281.6Z" fill="#9c5b03"/>
<text x="-9.9" y="271.8" font-size="15" fill="#fff" textLength="65.59" lengthAdjust="spacingAndGlyphs" stroke="#fff" stroke-width="0.35">BB Kombi</text>
<rect x="784" y="249" width="88.7" height="31.4" rx="4" fill="#9c5b03"/>
<path d="M818.3 279.4L828.3 291L838.3 279.4Z" fill="#9c5b03"/>
<text x="795.2" y="269.8" font-size="15" fill="#fff" textLength="65.59" lengthAdjust="spacingAndGlyphs" stroke="#fff" stroke-width="0.35">BB Kombi</text>
<rect x="53.9" y="436.2" width="97.1" height="31.3" rx="4" fill="#ff9f43"/>
<text x="65.8" y="456.7" font-size="15" fill="#fff" textLength="73.46" lengthAdjust="spacingAndGlyphs" stroke="#fff" stroke-width="0.35">AW Rocket</text>
<rect x="62.8" y="415" width="79.2" height="31.8" rx="4" fill="#ff0000"/>
<path d="M92.3 416L102.3 405L112.3 416Z" fill="#ff0000"/>
<text x="74.2" y="434.8" font-size="15" fill="#fff" textLength="55.17" lengthAdjust="spacingAndGlyphs" stroke="#fff" stroke-width="0.35">LolliPop</text>
<rect x="407.1" y="233" width="88.8" height="31.4" rx="4" fill="#ff0000"/>
<path d="M441.5 263.4L451.5 274L461.5 263.4Z" fill="#ff0000"/>
<text x="416.9" y="253.6" font-size="15" fill="#fff" textLength="65.73" lengthAdjust="spacingAndGlyphs" stroke="#fff" stroke-width="0.35">Red Devil</text>
<rect x="383.1" y="262" width="78.8" height="30.7" rx="4" fill="#ff0000"/>
<path d="M412.5 291.7L422.5 302.9L432.5 291.7Z" fill="#ff0000"/>
<text x="394.2" y="281.8" font-size="15" fill="#fff" textLength="55.27" lengthAdjust="spacingAndGlyphs" stroke="#fff" stroke-width="0.35">LolliPop</text>
<rect x="489.9" y="367.1" width="97.1" height="30.7" rx="4" fill="#ff9f43"/>
<text x="500.8" y="386.5" font-size="15" fill="#fff" textLength="73.66" lengthAdjust="spacingAndGlyphs" stroke="#fff" stroke-width="0.35">AW Rocket</text>
<rect x="494" y="345" width="88.9" height="30.7" rx="4" fill="#ff0000"/>
<path d="M528.3 346L538.3 334.9L548.3 346Z" fill="#ff0000"/>
<text x="505.2" y="364" font-size="15" fill="#fff" textLength="65.33" lengthAdjust="spacingAndGlyphs" stroke="#fff" stroke-width="0.35">Red Devil</text>
<rect x="579" y="424.9" width="120.8" height="32" rx="4" fill="#0000ff"/>
<path d="M629.6 425.9L639.6 414.8L649.6 425.9Z" fill="#0000ff"/>
<text x="590.1" y="445" font-size="15" fill="#fff" textLength="97.4" lengthAdjust="spacingAndGlyphs" stroke="#fff" stroke-width="0.35">Ultimate Blue</text>
<rect x="586.2" y="462" width="106.7" height="31.6" rx="4" fill="#ff00ff"/>
<path d="M629.6 463L639.6 451.9L649.6 463Z" fill="#ff00ff"/>
<text x="597" y="482.8" font-size="15" fill="#fff" textLength="83.97" lengthAdjust="spacingAndGlyphs" stroke="#fff" stroke-width="0.35">Grabberlein</text>
<rect x="1042.9" y="72.9" width="79" height="32.2" rx="4" fill="#ff0000"/>
<path d="M1072.4 104.1L1082.4 115L1092.4 104.1Z" fill="#ff0000"/>
<text x="1053.9" y="94.1" font-size="15" fill="#fff" textLength="55.57" lengthAdjust="spacingAndGlyphs" stroke="#fff" stroke-width="0.35">LolliPop</text>
<path d="M23.5 336.1V365.9" stroke="#f23645" stroke-width="1"/>
<rect x="21.5" y="336.6" width="4" height="18.7" fill="#000" stroke="#f23645" stroke-width="1.1"/>
<path d="M31.5 343V347M31.5 355.8V359" stroke="#089981" stroke-width="1"/>
<rect x="29.5" y="347.5" width="4" height="7.8" fill="none" stroke="#ff0000" stroke-width="1.1"/>
<path d="M38.5 343V353.8" stroke="#f23645" stroke-width="1"/>
<rect x="36" y="348" width="5" height="5.8" fill="#ff0000"/>
<path d="M45.5 349.1V360.8" stroke="#f23645" stroke-width="1"/>
<rect x="43" y="354" width="5" height="2.9" fill="#ff0000"/>
<path d="M52.5 346V353.1M52.5 356.9V356.9" stroke="#089981" stroke-width="1"/>
<rect x="50.5" y="353.6" width="4" height="2.8" fill="none" stroke="#ff0000" stroke-width="1.1"/>
<path d="M60.5 351.8V362.8" stroke="#f23645" stroke-width="1"/>
<rect x="58" y="352.9" width="5" height="7.9" fill="#ff0000"/>
<path d="M67.5 350V355.1M67.5 360.6V361.9" stroke="#089981" stroke-width="1"/>
<rect x="65.5" y="355.6" width="4" height="4.5" fill="none" stroke="#000" stroke-width="1.1"/>
<path d="M74.5 353V373" stroke="#f23645" stroke-width="1"/>
<rect x="72" y="354.9" width="5" height="13.9" fill="#ff0000"/>
<path d="M81.5 365V371" stroke="#f23645" stroke-width="1"/>
<rect x="79" y="368.2" width="5" height="2.7" fill="#ff0000"/>
<path d="M89.5 367V376.8" stroke="#f23645" stroke-width="1"/>
<rect x="87" y="368.9" width="5" height="1.5" fill="#ff0000"/>
<path d="M96.5 368.9V376.8" stroke="#f23645" stroke-width="1"/>
<rect x="94" y="371" width="5" height="1.5" fill="#ff0000"/>
<path d="M103.5 364.2V367.5M103.5 371.5V376.8" stroke="#089981" stroke-width="1"/>
<rect x="101.5" y="368" width="4" height="3" fill="none" stroke="#000" stroke-width="1.1"/>
<path d="M110.5 365.6V386.8" stroke="#f23645" stroke-width="1"/>
<rect x="108.5" y="368" width="4" height="16.3" fill="#000" stroke="#f23645" stroke-width="1.1"/>
<path d="M118.5 370.2V376.2M118.5 385.4V388" stroke="#089981" stroke-width="1"/>
<rect x="116.5" y="376.7" width="4" height="8.2" fill="none" stroke="#000" stroke-width="1.1"/>
<path d="M125.5 371.3V373.5M125.5 376.6V378.8" stroke="#089981" stroke-width="1"/>
<rect x="123.5" y="374" width="4" height="2.1" fill="none" stroke="#000" stroke-width="1.1"/>
<path d="M132.5 372V377" stroke="#f23645" stroke-width="1"/>
<rect x="130.5" y="373.5" width="4" height="2.3" fill="#318f3d" stroke="#f23645" stroke-width="1.1"/>
<path d="M139.5 365V368.3M139.5 376.3V377" stroke="#089981" stroke-width="1"/>
<rect x="137.5" y="368.8" width="4" height="7" fill="none" stroke="#388e3c" stroke-width="1.1"/>
<path d="M147.5 365V381.6" stroke="#f23645" stroke-width="1"/>
<rect x="145" y="368.3" width="5" height="2" fill="#ff0000"/>
<path d="M154.5 369V377.6" stroke="#f23645" stroke-width="1"/>
<rect x="152.5" y="370.5" width="4" height="4.6" fill="#318f3d" stroke="#f23645" stroke-width="1.1"/>
<path d="M161.5 366.9V368.3M161.5 375.6V376.7" stroke="#089981" stroke-width="1"/>
<rect x="159.5" y="368.8" width="4" height="6.3" fill="none" stroke="#388e3c" stroke-width="1.1"/>
<path d="M168.5 362V366.4M168.5 368.3V369.7" stroke="#089981" stroke-width="1"/>
<rect x="166.5" y="366.9" width="4" height="2" fill="none" stroke="#388e3c" stroke-width="1.1"/>
<path d="M176.5 363V371" stroke="#f23645" stroke-width="1"/>
<rect x="174.5" y="366.9" width="4" height="2.3" fill="#000" stroke="#f23645" stroke-width="1.1"/>
<path d="M183.5 346.2V348M183.5 369.7V371" stroke="#089981" stroke-width="1"/>
<rect x="181.5" y="348.5" width="4" height="20.7" fill="none" stroke="#388e3c" stroke-width="1.1"/>
<path d="M190.5 347.2V359.7" stroke="#f23645" stroke-width="1"/>
<rect x="188.5" y="348.5" width="4" height="8.7" fill="#318f3d" stroke="#f23645" stroke-width="1.1"/>
<path d="M197.5 347.2V352M197.5 357.7V357.7" stroke="#089981" stroke-width="1"/>
<rect x="195.5" y="352.5" width="4" height="4.7" fill="none" stroke="#388e3c" stroke-width="1.1"/>
<path d="M205.5 351V357" stroke="#f23645" stroke-width="1"/>
<rect x="203.5" y="353" width="4" height="2.3" fill="#000" stroke="#f23645" stroke-width="1.1"/>
<path d="M212.5 352V363.7" stroke="#f23645" stroke-width="1"/>
<rect x="210.5" y="355.5" width="4" height="4.4" fill="#000" stroke="#f23645" stroke-width="1.1"/>
<path d="M219.5 354.2V375.6" stroke="#f23645" stroke-width="1"/>
<rect x="217" y="360.4" width="5" height="15.2" fill="#ff0000"/>
<path d="M226.5 371V450.3" stroke="#f23645" stroke-width="1"/>
<rect x="224" y="375" width="5" height="65.9" fill="#ff0000"/>
<path d="M234.5 430.2V458.9" stroke="#f23645" stroke-width="1"/>
<rect x="232" y="440.9" width="5" height="12.2" fill="#ff0000"/>
<path d="M241.5 451V461.7" stroke="#f23645" stroke-width="1"/>
<rect x="239" y="452" width="5" height="1.5" fill="#ff0000"/>
<path d="M248.5 444.2V446.2M248.5 452.4V455.3" stroke="#089981" stroke-width="1"/>
<rect x="246.5" y="446.7" width="4" height="5.2" fill="none" stroke="#ff0000" stroke-width="1.1"/>
<path d="M255.5 440.2V451.7" stroke="#f23645" stroke-width="1"/>
<rect x="253" y="446" width="5" height="1.5" fill="#ff0000"/>
<path d="M263.5 442.4V448.8" stroke="#f23645" stroke-width="1"/>
<rect x="261" y="446.6" width="5" height="1.5" fill="#ff0000"/>
<path d="M270.5 446V466.8" stroke="#f23645" stroke-width="1"/>
<rect x="268.5" y="447.6" width="4" height="11.5" fill="#318f3d" stroke="#f23645" stroke-width="1.1"/>
<path d="M277.5 450.3V503.3" stroke="#f23645" stroke-width="1"/>
<rect x="275.5" y="460.1" width="4" height="30.5" fill="#000" stroke="#f23645" stroke-width="1.1"/>
<path d="M284.5 486.1V502.6" stroke="#f23645" stroke-width="1"/>
<rect x="282" y="491.1" width="5" height="3.6" fill="#ff0000"/>
<path d="M292.5 485.4V500.5" stroke="#f23645" stroke-width="1"/>
<rect x="290" y="492.8" width="5" height="1.5" fill="#ff0000"/>
<path d="M299.5 466V469.2M299.5 493.3V493.3" stroke="#089981" stroke-width="1"/>
<rect x="297.5" y="469.7" width="4" height="23.1" fill="none" stroke="#ff0000" stroke-width="1.1"/>
<path d="M306.5 456.2V466.4M306.5 469.4V469.4" stroke="#089981" stroke-width="1"/>
<rect x="304.5" y="466.9" width="4" height="2" fill="none" stroke="#388e3c" stroke-width="1.1"/>
<path d="M313.5 453.1V473" stroke="#f23645" stroke-width="1"/>
<rect x="311" y="466.3" width="5" height="1.5" fill="#ff0000"/>
<path d="M321.5 458V463.3M321.5 467.7V471.7" stroke="#089981" stroke-width="1"/>
<rect x="319.5" y="463.8" width="4" height="3.4" fill="none" stroke="#388e3c" stroke-width="1.1"/>
<path d="M328.5 458V466" stroke="#f23645" stroke-width="1"/>
<rect x="326" y="462.8" width="5" height="1.5" fill="#ff0000"/>
<path d="M335.5 458V466" stroke="#089981" stroke-width="1"/>
<rect x="333" y="462.4" width="5" height="1.5" fill="#000"/>
<path d="M342.5 459.3V473.9" stroke="#f23645" stroke-width="1"/>
<rect x="340.5" y="462.7" width="4" height="3.2" fill="#000" stroke="#f23645" stroke-width="1.1"/>
<path d="M350.5 449.1V453.4M350.5 466.4V466.4" stroke="#089981" stroke-width="1"/>
<rect x="348.5" y="453.9" width="4" height="12" fill="none" stroke="#000" stroke-width="1.1"/>
<path d="M357.5 442V444.3M357.5 453.6V456.6" stroke="#089981" stroke-width="1"/>
<rect x="355.5" y="444.8" width="4" height="8.3" fill="none" stroke="#388e3c" stroke-width="1.1"/>
<path d="M364.5 359.1V368.3M364.5 444.3V445.6" stroke="#089981" stroke-width="1"/>
<rect x="362.5" y="368.8" width="4" height="75" fill="none" stroke="#388e3c" stroke-width="1.1"/>
<path d="M371.5 355.1V363M371.5 368.3V377" stroke="#089981" stroke-width="1"/>
<rect x="369.5" y="363.5" width="4" height="4.3" fill="none" stroke="#388e3c" stroke-width="1.1"/>
<path d="M379.5 355.1V367" stroke="#f23645" stroke-width="1"/>
<rect x="377" y="362.5" width="5" height="1.5" fill="#ff0000"/>
<path d="M386.5 363V383.6" stroke="#f23645" stroke-width="1"/>
<rect x="384.5" y="363.5" width="4" height="9.6" fill="#318f3d" stroke="#f23645" stroke-width="1.1"/>
<path d="M393.5 361V374.3" stroke="#089981" stroke-width="1"/>
<rect x="391" y="372.5" width="5" height="1.5" fill="#000"/>
<path d="M400.5 358.4V363M400.5 373.6V377.6" stroke="#089981" stroke-width="1"/>
<rect x="398.5" y="363.5" width="4" height="9.6" fill="none" stroke="#000" stroke-width="1.1"/>
<path d="M408.5 348V357.4M408.5 363.4V363.4" stroke="#089981" stroke-width="1"/>
<rect x="406.5" y="357.9" width="4" height="5" fill="none" stroke="#000" stroke-width="1.1"/>
<path d="M415.5 337.2V343.2M415.5 357.4V357.4" stroke="#089981" stroke-width="1"/>
<rect x="413.5" y="343.7" width="4" height="13.2" fill="none" stroke="#000" stroke-width="1.1"/>
<path d="M422.5 325.4V345.2" stroke="#f23645" stroke-width="1"/>
<rect x="420" y="342.7" width="5" height="1.5" fill="#ff0000"/>
<path d="M429.5 341.3V342.3M429.5 344.6V350" stroke="#089981" stroke-width="1"/>
<rect x="427.5" y="342.8" width="4" height="2" fill="none" stroke="#000" stroke-width="1.1"/>
<path d="M437.5 334V336M437.5 342.6V347.2" stroke="#089981" stroke-width="1"/>
<rect x="435.5" y="336.5" width="4" height="5.6" fill="none" stroke="#388e3c" stroke-width="1.1"/>
<path d="M444.5 326V328.3M444.5 336.6V338.6" stroke="#089981" stroke-width="1"/>
<rect x="442.5" y="328.8" width="4" height="7.3" fill="none" stroke="#000" stroke-width="1.1"/>
<path d="M451.5 302.2V356.3" stroke="#f23645" stroke-width="1"/>
<rect x="449.5" y="329" width="4" height="2" fill="#000" stroke="#f23645" stroke-width="1.1"/>
<path d="M458.5 308.1V311.5M458.5 330.7V340.6" stroke="#089981" stroke-width="1"/>
<rect x="456.5" y="312" width="4" height="18.2" fill="none" stroke="#000" stroke-width="1.1"/>
<path d="M466.5 304.2V321.4" stroke="#089981" stroke-width="1"/>
<rect x="464" y="309.6" width="5" height="1.5" fill="#318f3d"/>
<path d="M473.5 291.2V294.2M473.5 310.5V315.4" stroke="#089981" stroke-width="1"/>
<rect x="471.5" y="294.7" width="4" height="15.3" fill="none" stroke="#388e3c" stroke-width="1.1"/>
<path d="M480.5 269.7V282.3M480.5 294.6V302.6" stroke="#089981" stroke-width="1"/>
<rect x="478.5" y="282.8" width="4" height="11.3" fill="none" stroke="#388e3c" stroke-width="1.1"/>
<path d="M487.5 257.8V276.4M487.5 282.3V288.3" stroke="#089981" stroke-width="1"/>
<rect x="485.5" y="276.9" width="4" height="4.9" fill="none" stroke="#388e3c" stroke-width="1.1"/>
<path d="M495.5 263.1V272.4M495.5 275.7V277.7" stroke="#089981" stroke-width="1"/>
<rect x="493.5" y="272.9" width="4" height="2.3" fill="none" stroke="#388e3c" stroke-width="1.1"/>
<path d="M502.5 268.4V289.6" stroke="#f23645" stroke-width="1"/>
<rect x="500.5" y="272.9" width="4" height="10.9" fill="#000" stroke="#f23645" stroke-width="1.1"/>
<path d="M509.5 267.9V282.2M509.5 284.7V285.8" stroke="#089981" stroke-width="1"/>
<rect x="507.5" y="282.7" width="4" height="2" fill="none" stroke="#000" stroke-width="1.1"/>
<path d="M516.5 273.2V277.4M516.5 282.5V288.4" stroke="#089981" stroke-width="1"/>
<rect x="514.5" y="277.9" width="4" height="4.1" fill="none" stroke="#ff0000" stroke-width="1.1"/>
<path d="M524.5 275.2V287.7" stroke="#f23645" stroke-width="1"/>
<rect x="522" y="277.5" width="5" height="5.9" fill="#ff0000"/>
<path d="M531.5 280.5V295.7" stroke="#f23645" stroke-width="1"/>
<rect x="529" y="283.1" width="5" height="8.6" fill="#ff0000"/>
<path d="M538.5 265.2V273.2M538.5 291.7V304.3" stroke="#089981" stroke-width="1"/>
<rect x="536.5" y="273.7" width="4" height="17.5" fill="none" stroke="#ff0000" stroke-width="1.1"/>
<path d="M545.5 265.2V303" stroke="#f23645" stroke-width="1"/>
<rect x="543" y="273.2" width="5" height="22.5" fill="#ff0000"/>
<path d="M553.5 293V340" stroke="#f23645" stroke-width="1"/>
<rect x="551" y="295" width="5" height="20.6" fill="#ff0000"/>
<path d="M560.5 299V313.3M560.5 315.6V320.9" stroke="#089981" stroke-width="1"/>
<rect x="558.5" y="313.8" width="4" height="2" fill="none" stroke="#ff0000" stroke-width="1.1"/>
<path d="M567.5 300V308.3M567.5 313.6V313.6" stroke="#089981" stroke-width="1"/>
<rect x="565.5" y="308.8" width="4" height="4.3" fill="none" stroke="#000" stroke-width="1.1"/>
<path d="M574.5 290.4V294.4M574.5 308.3V308.3" stroke="#089981" stroke-width="1"/>
<rect x="572.5" y="294.9" width="4" height="12.9" fill="none" stroke="#000" stroke-width="1.1"/>
<path d="M582.5 280.2V291.5M582.5 294.6V296.4" stroke="#089981" stroke-width="1"/>
<rect x="580.5" y="292" width="4" height="2.1" fill="none" stroke="#000" stroke-width="1.1"/>
<path d="M589.5 285.1V299.7" stroke="#f23645" stroke-width="1"/>
<rect x="587.5" y="292" width="4" height="5.8" fill="#000" stroke="#f23645" stroke-width="1.1"/>
<path d="M596.5 285.1V289.3M596.5 298.6V298.6" stroke="#089981" stroke-width="1"/>
<rect x="594.5" y="289.8" width="4" height="8.3" fill="none" stroke="#000" stroke-width="1.1"/>
<path d="M603.5 289.3V319.7" stroke="#f23645" stroke-width="1"/>
<rect x="601" y="289.3" width="5" height="24.5" fill="#ff0000"/>
<path d="M611.5 301.2V309.4M611.5 314.7V319.1" stroke="#089981" stroke-width="1"/>
<rect x="609.5" y="309.9" width="4" height="4.3" fill="none" stroke="#ff0000" stroke-width="1.1"/>
<path d="M618.5 306.5V330" stroke="#f23645" stroke-width="1"/>
<rect x="616" y="309.1" width="5" height="15.7" fill="#ff0000"/>
<path d="M625.5 295.9V321.3M625.5 324.8V331.7" stroke="#089981" stroke-width="1"/>
<rect x="623.5" y="321.8" width="4" height="2.5" fill="none" stroke="#ff0000" stroke-width="1.1"/>
<path d="M632.5 321.1V370.7" stroke="#f23645" stroke-width="1"/>
<rect x="630" y="321.1" width="5" height="34.4" fill="#ff0000"/>
<path d="M640.5 340.9V352.8M640.5 355.8V378" stroke="#089981" stroke-width="1"/>
<rect x="638.5" y="353.3" width="4" height="2" fill="none" stroke="#ff0000" stroke-width="1.1"/>
<path d="M647.5 346.9V363.4" stroke="#f23645" stroke-width="1"/>
<rect x="645" y="352.8" width="5" height="10" fill="#ff0000"/>
<path d="M654.5 356.2V368.7" stroke="#089981" stroke-width="1"/>
<rect x="652" y="361.1" width="5" height="1.7" fill="#000"/>
<path d="M661.5 354.8V358.4M661.5 361.5V364.8" stroke="#089981" stroke-width="1"/>
<rect x="659.5" y="358.9" width="4" height="2.1" fill="none" stroke="#000" stroke-width="1.1"/>
<path d="M669.5 348.9V352.2M669.5 358.4V361.9" stroke="#089981" stroke-width="1"/>
<rect x="667.5" y="352.7" width="4" height="5.2" fill="none" stroke="#000" stroke-width="1.1"/>
<path d="M676.5 350.9V356.8" stroke="#f23645" stroke-width="1"/>
<rect x="674" y="352.1" width="5" height="1.5" fill="#ff0000"/>
<path d="M683.5 351.3V358.4" stroke="#f23645" stroke-width="1"/>
<rect x="681.5" y="354" width="4" height="3.9" fill="#318f3d" stroke="#f23645" stroke-width="1.1"/>
<path d="M690.5 354.2V364.8" stroke="#089981" stroke-width="1"/>
<rect x="688" y="357.6" width="5" height="1.5" fill="#318f3d"/>
<path d="M698.5 350.9V353.5M698.5 357.5V359.5" stroke="#089981" stroke-width="1"/>
<rect x="696.5" y="354" width="4" height="3" fill="none" stroke="#388e3c" stroke-width="1.1"/>
<path d="M705.5 351V356.3" stroke="#f23645" stroke-width="1"/>
<rect x="703" y="353.6" width="5" height="1.5" fill="#ff0000"/>
<path d="M712.5 339V351.6M712.5 354.3V357.8" stroke="#089981" stroke-width="1"/>
<rect x="710.5" y="352.1" width="4" height="2" fill="none" stroke="#388e3c" stroke-width="1.1"/>
<path d="M719.5 340V345.1M719.5 351.5V351.5" stroke="#089981" stroke-width="1"/>
<rect x="717.5" y="345.6" width="4" height="5.4" fill="none" stroke="#388e3c" stroke-width="1.1"/>
<path d="M727.5 344.4V358.3" stroke="#f23645" stroke-width="1"/>
<rect x="725.5" y="345.8" width="4" height="10.4" fill="#318f3d" stroke="#f23645" stroke-width="1.1"/>
<path d="M734.5 349.7V351.4M734.5 356.7V356.7" stroke="#089981" stroke-width="1"/>
<rect x="732.5" y="351.9" width="4" height="4.3" fill="none" stroke="#388e3c" stroke-width="1.1"/>
<path d="M741.5 345V357.6" stroke="#f23645" stroke-width="1"/>
<rect x="739.5" y="352.2" width="4" height="2" fill="#000" stroke="#f23645" stroke-width="1.1"/>
<path d="M748.5 347V351.4M748.5 353.6V355" stroke="#089981" stroke-width="1"/>
<rect x="746.5" y="351.9" width="4" height="2" fill="none" stroke="#000" stroke-width="1.1"/>
<path d="M756.5 343.7V345.3M756.5 351.7V351.7" stroke="#089981" stroke-width="1"/>
<rect x="754.5" y="345.8" width="4" height="5.4" fill="none" stroke="#000" stroke-width="1.1"/>
<path d="M763.5 344.4V350.3" stroke="#f23645" stroke-width="1"/>
<rect x="761.5" y="345.5" width="4" height="4.3" fill="#318f3d" stroke="#f23645" stroke-width="1.1"/>
<path d="M770.5 347V356.3" stroke="#f23645" stroke-width="1"/>
<rect x="768.5" y="350.8" width="4" height="3.7" fill="#318f3d" stroke="#f23645" stroke-width="1.1"/>
<path d="M777.5 351V358.9" stroke="#f23645" stroke-width="1"/>
<rect x="775.5" y="354.8" width="4" height="2.3" fill="#000" stroke="#f23645" stroke-width="1.1"/>
<path d="M785.5 350V354.3M785.5 357.6V357.6" stroke="#089981" stroke-width="1"/>
<rect x="783.5" y="354.8" width="4" height="2.3" fill="none" stroke="#000" stroke-width="1.1"/>
<path d="M792.5 345.7V357.6" stroke="#f23645" stroke-width="1"/>
<rect x="790.5" y="355.1" width="4" height="2" fill="#000" stroke="#f23645" stroke-width="1.1"/>
<path d="M799.5 353.6V412.6" stroke="#f23645" stroke-width="1"/>
<rect x="797" y="356.3" width="5" height="3.3" fill="#ff0000"/>
<path d="M806.5 308V318.3M806.5 358.3V370.9" stroke="#089981" stroke-width="1"/>
<rect x="804.5" y="318.8" width="4" height="39" fill="none" stroke="#388e3c" stroke-width="1.1"/>
<path d="M814.5 301V306.3M814.5 318.3V318.3" stroke="#089981" stroke-width="1"/>
<rect x="812.5" y="306.8" width="4" height="11" fill="none" stroke="#388e3c" stroke-width="1.1"/>
<path d="M821.5 302.3V338" stroke="#f23645" stroke-width="1"/>
<rect x="819.5" y="306.7" width="4" height="24.2" fill="#318f3d" stroke="#f23645" stroke-width="1.1"/>
<path d="M828.5 331.4V360" stroke="#f23645" stroke-width="1"/>
<rect x="826.5" y="331.9" width="4" height="9.6" fill="#000" stroke="#f23645" stroke-width="1.1"/>
<path d="M835.5 308.2V325.4M835.5 343.3V351.3" stroke="#089981" stroke-width="1"/>
<rect x="833.5" y="325.9" width="4" height="16.9" fill="none" stroke="#388e3c" stroke-width="1.1"/>
<path d="M843.5 314.2V319.5M843.5 325.4V327.4" stroke="#089981" stroke-width="1"/>
<rect x="841.5" y="320" width="4" height="4.9" fill="none" stroke="#000" stroke-width="1.1"/>
<path d="M850.5 305V310.2M850.5 319.5V319.5" stroke="#089981" stroke-width="1"/>
<rect x="848.5" y="310.7" width="4" height="8.3" fill="none" stroke="#ff0000" stroke-width="1.1"/>
<path d="M857.5 305V308.2M857.5 310.5V313.5" stroke="#089981" stroke-width="1"/>
<rect x="855.5" y="308.7" width="4" height="2" fill="none" stroke="#000" stroke-width="1.1"/>
<path d="M864.5 287V296.3M864.5 308.2V311.5" stroke="#089981" stroke-width="1"/>
<rect x="862.5" y="296.8" width="4" height="10.9" fill="none" stroke="#388e3c" stroke-width="1.1"/>
<path d="M872.5 294.3V306.2" stroke="#f23645" stroke-width="1"/>
<rect x="870.5" y="296.8" width="4" height="6.9" fill="#318f3d" stroke="#f23645" stroke-width="1.1"/>
<path d="M879.5 296.3V312.2" stroke="#089981" stroke-width="1"/>
<rect x="877" y="303.3" width="5" height="1.5" fill="#000"/>
<path d="M886.5 287.2V328.9" stroke="#f23645" stroke-width="1"/>
<rect x="884" y="303" width="5" height="20.3" fill="#ff0000"/>
<path d="M893.5 308.3V314.3M893.5 323.6V327.5" stroke="#089981" stroke-width="1"/>
<rect x="891.5" y="314.8" width="4" height="8.3" fill="none" stroke="#ff0000" stroke-width="1.1"/>
<path d="M901.5 308.3V333.5" stroke="#f23645" stroke-width="1"/>
<rect x="899" y="313.8" width="5" height="1.5" fill="#ff0000"/>
<path d="M908.5 298.4V302.4M908.5 315.6V315.6" stroke="#089981" stroke-width="1"/>
<rect x="906.5" y="302.9" width="4" height="12.2" fill="none" stroke="#ff0000" stroke-width="1.1"/>
<path d="M915.5 301.7V317.6" stroke="#f23645" stroke-width="1"/>
<rect x="913.5" y="302.9" width="4" height="8.9" fill="#000" stroke="#f23645" stroke-width="1.1"/>
<path d="M922.5 304.4V324.9" stroke="#f23645" stroke-width="1"/>
<rect x="920.5" y="313.2" width="4" height="7.5" fill="#000" stroke="#f23645" stroke-width="1.1"/>
<path d="M930.5 310.6V310.6M930.5 321.2V327.5" stroke="#089981" stroke-width="1"/>
<rect x="928.5" y="311.1" width="4" height="9.6" fill="none" stroke="#000" stroke-width="1.1"/>
<path d="M937.5 309.7V325.6" stroke="#f23645" stroke-width="1"/>
<rect x="935.5" y="310.8" width="4" height="9" fill="#000" stroke="#f23645" stroke-width="1.1"/>
<path d="M944.5 311.4V313.2M944.5 320.7V325.6" stroke="#089981" stroke-width="1"/>
<rect x="942.5" y="313.7" width="4" height="6.5" fill="none" stroke="#ff0000" stroke-width="1.1"/>
<path d="M951.5 310.3V321.2" stroke="#f23645" stroke-width="1"/>
<rect x="949" y="313.2" width="5" height="8" fill="#ff0000"/>
<path d="M959.5 315.4V315.4M959.5 321.6V326.2" stroke="#089981" stroke-width="1"/>
<rect x="957.5" y="315.9" width="4" height="5.2" fill="none" stroke="#ff0000" stroke-width="1.1"/>
<path d="M966.5 305.3V319.6" stroke="#f23645" stroke-width="1"/>
<rect x="964" y="314.9" width="5" height="1.5" fill="#ff0000"/>
<path d="M973.5 251.3V255.3M973.5 316.3V324.9" stroke="#089981" stroke-width="1"/>
<rect x="971.5" y="255.8" width="4" height="60" fill="none" stroke="#388e3c" stroke-width="1.1"/>
<path d="M980.5 184.2V195.3M980.5 256.6V256.6" stroke="#089981" stroke-width="1"/>
<rect x="978.5" y="195.8" width="4" height="60.3" fill="none" stroke="#388e3c" stroke-width="1.1"/>
<path d="M988.5 189V208.9" stroke="#f23645" stroke-width="1"/>
<rect x="986.5" y="195.8" width="4" height="7.3" fill="#318f3d" stroke="#f23645" stroke-width="1.1"/>
<path d="M995.5 201V238" stroke="#f23645" stroke-width="1"/>
<rect x="993.5" y="203.5" width="4" height="25.5" fill="#318f3d" stroke="#f23645" stroke-width="1.1"/>
<path d="M1002.5 209.6V222.2M1002.5 229.5V230.8" stroke="#089981" stroke-width="1"/>
<rect x="1000.5" y="222.7" width="4" height="6.3" fill="none" stroke="#388e3c" stroke-width="1.1"/>
<path d="M1009.5 216.9V235.4" stroke="#f23645" stroke-width="1"/>
<rect x="1007.5" y="222.7" width="4" height="6.3" fill="#000" stroke="#f23645" stroke-width="1.1"/>
<path d="M1017.5 222.2V226.2M1017.5 229.5V234.1" stroke="#089981" stroke-width="1"/>
<rect x="1015.5" y="226.7" width="4" height="2.3" fill="none" stroke="#ff0000" stroke-width="1.1"/>
<path d="M1024.5 214.2V218.9M1024.5 226.6V226.6" stroke="#089981" stroke-width="1"/>
<rect x="1022.5" y="219.4" width="4" height="6.7" fill="none" stroke="#ff0000" stroke-width="1.1"/>
<path d="M1031.5 217.3V217.3M1031.5 219.5V224.8" stroke="#089981" stroke-width="1"/>
<rect x="1029.5" y="217.8" width="4" height="2" fill="none" stroke="#ff0000" stroke-width="1.1"/>
<path d="M1038.5 207V208M1038.5 217.5V222.8" stroke="#089981" stroke-width="1"/>
<rect x="1036.5" y="208.5" width="4" height="8.5" fill="none" stroke="#ff0000" stroke-width="1.1"/>
<path d="M1046.5 193.7V231.5" stroke="#f23645" stroke-width="1"/>
<rect x="1044.5" y="208.8" width="4" height="12.2" fill="#000" stroke="#f23645" stroke-width="1.1"/>
<path d="M1053.5 212.3V214.2M1053.5 221.5V226.2" stroke="#089981" stroke-width="1"/>
<rect x="1051.5" y="214.7" width="4" height="6.3" fill="none" stroke="#000" stroke-width="1.1"/>
<path d="M1060.5 212.3V228.8" stroke="#f23645" stroke-width="1"/>
<rect x="1058.5" y="215.1" width="4" height="2" fill="#000" stroke="#f23645" stroke-width="1.1"/>
<path d="M1067.5 189.7V197M1067.5 217.5V219.5" stroke="#089981" stroke-width="1"/>
<rect x="1065.5" y="197.5" width="4" height="19.5" fill="none" stroke="#000" stroke-width="1.1"/>
<path d="M1075.5 167.2V188.4M1075.5 197V207.6" stroke="#089981" stroke-width="1"/>
<rect x="1073.5" y="188.9" width="4" height="7.6" fill="none" stroke="#388e3c" stroke-width="1.1"/>
<path d="M1082.5 148V216.4" stroke="#f23645" stroke-width="1"/>
<rect x="1080.5" y="187.7" width="4" height="23.1" fill="#318f3d" stroke="#f23645" stroke-width="1.1"/>
<path d="M1089.5 204.2V220.6" stroke="#f23645" stroke-width="1"/>
<rect x="1087" y="211.3" width="5" height="7.4" fill="#ff0000"/>
<path d="M1096.5 217V255.4" stroke="#f23645" stroke-width="1"/>
<rect x="1094" y="218" width="5" height="34.1" fill="#ff0000"/>
<path d="M1104.5 250.1V291.5" stroke="#f23645" stroke-width="1"/>
<rect x="1102" y="251.1" width="5" height="30.1" fill="#ff0000"/>
<path d="M1111.5 269.3V270.3M1111.5 281.2V285.6" stroke="#089981" stroke-width="1"/>
<rect x="1109.5" y="270.8" width="4" height="9.9" fill="none" stroke="#ff0000" stroke-width="1.1"/>
<path d="M1118.5 270.3V279.6" stroke="#f23645" stroke-width="1"/>
<rect x="1116" y="270.3" width="5" height="6" fill="#ff0000"/>
<path d="M1125.5 271V286.2" stroke="#f23645" stroke-width="1"/>
<rect x="1123" y="276.5" width="5" height="1.5" fill="#ff0000"/>
<path d="M1133.5 275V282" stroke="#f23645" stroke-width="1"/>
<rect x="1131.5" y="278.1" width="4" height="2" fill="#000" stroke="#f23645" stroke-width="1.1"/>
<path d="M1140.5 273V282.9" stroke="#f23645" stroke-width="1"/>
<rect x="1138" y="279.4" width="5" height="1.5" fill="#ff0000"/>
<path d="M1147.5 272.3V302.8" stroke="#f23645" stroke-width="1"/>
<rect x="1145.5" y="282.1" width="4" height="4.7" fill="#000" stroke="#f23645" stroke-width="1.1"/>
<path d="M1154.5 275V285.2M1154.5 287.3V298.8" stroke="#089981" stroke-width="1"/>
<rect x="1152.5" y="285.7" width="4" height="2" fill="none" stroke="#000" stroke-width="1.1"/>
<path d="M1162.5 259.7V279.6M1162.5 286.5V286.5" stroke="#089981" stroke-width="1"/>
<rect x="1160.5" y="280.1" width="4" height="5.9" fill="none" stroke="#388e3c" stroke-width="1.1"/>
<path d="M1169.5 241.9V254.2M1169.5 279.6V279.6" stroke="#089981" stroke-width="1"/>
<rect x="1167.5" y="254.7" width="4" height="24.4" fill="none" stroke="#388e3c" stroke-width="1.1"/>
<path d="M1176.5 245.8V265.7" stroke="#f23645" stroke-width="1"/>
<rect x="1174.5" y="254.9" width="4" height="5" fill="#318f3d" stroke="#f23645" stroke-width="1.1"/>
<path d="M1183.5 255.1V283.6" stroke="#f23645" stroke-width="1"/>
<rect x="1181" y="259.9" width="5" height="1.5" fill="#ff0000"/>
<path d="M1191.5 245.8V255.5M1191.5 261.3V263.7" stroke="#089981" stroke-width="1"/>
<rect x="1189.5" y="256" width="4" height="4.8" fill="none" stroke="#388e3c" stroke-width="1.1"/>
<path d="M1198.5 251.8V261.7" stroke="#089981" stroke-width="1"/>
<rect x="1196" y="254.2" width="5" height="1.5" fill="#000"/>
<path d="M1205.5 245.8V252.5M1205.5 255.8V255.8" stroke="#089981" stroke-width="1"/>
<rect x="1203.5" y="253" width="4" height="2.3" fill="none" stroke="#ff0000" stroke-width="1.1"/>
</g>
<text x="30.9" y="77.2" font-size="19.5" fill="#131313" textLength="84.24" lengthAdjust="spacingAndGlyphs" stroke="#131313" stroke-width="0.3">Ethereum</text><path d="M124.5 76.5L129.6 63.3" stroke="#131313" stroke-width="1.9" stroke-linecap="round"/><text x="139.6" y="77.2" font-size="19.5" fill="#131313" textLength="50.73" lengthAdjust="spacingAndGlyphs" stroke="#131313" stroke-width="0.3">Dollar</text><circle cx="200.4" cy="70.4" r="1.6" fill="#131313"/><text x="210.7" y="77.2" font-size="19.5" fill="#131313" textLength="19.29" lengthAdjust="spacingAndGlyphs" stroke="#131313" stroke-width="0.3">2h</text><circle cx="240.4" cy="70.4" r="1.6" fill="#131313"/><text x="251" y="77.2" font-size="19.5" fill="#131313" textLength="77.89" lengthAdjust="spacingAndGlyphs" stroke="#131313" stroke-width="0.3">Coinbase</text>
<text x="1657" y="94.3" font-size="18.3" fill="#131313" textLength="77" lengthAdjust="spacingAndGlyphs" stroke="#131313" stroke-width="0.3">3.600,00</text>
<text x="1657" y="188.3" font-size="18.3" fill="#131313" textLength="77" lengthAdjust="spacingAndGlyphs" stroke="#131313" stroke-width="0.3">3.400,00</text>
<text x="1657" y="282.3" font-size="18.3" fill="#131313" textLength="77" lengthAdjust="spacingAndGlyphs" stroke="#131313" stroke-width="0.3">3.200,00</text>
<text x="1657" y="376.3" font-size="18.3" fill="#131313" textLength="77" lengthAdjust="spacingAndGlyphs" stroke="#131313" stroke-width="0.3">3.000,00</text>
<text x="1657" y="470.3" font-size="18.3" fill="#131313" textLength="77" lengthAdjust="spacingAndGlyphs" stroke="#131313" stroke-width="0.3">2.800,00</text>
<text x="1657" y="564.3" font-size="18.3" fill="#131313" textLength="77" lengthAdjust="spacingAndGlyphs" stroke="#131313" stroke-width="0.3">2.600,00</text>
<text x="1657" y="643.3" font-size="18.3" fill="#131313" textLength="48" lengthAdjust="spacingAndGlyphs" stroke="#131313" stroke-width="0.3">12,00</text>
<text x="1657" y="720.3" font-size="18.3" fill="#131313" textLength="38" lengthAdjust="spacingAndGlyphs" stroke="#131313" stroke-width="0.3">8,00</text>
<text x="52.4" y="791" font-size="20" fill="#131313" text-anchor="middle" stroke="#131313" stroke-width="0.3">29</text>
<text x="139.5" y="791" font-size="20" fill="#131313" text-anchor="middle" stroke="#131313" stroke-width="0.3">30</text>
<text x="226.5" y="791" font-size="20" fill="#131313" text-anchor="middle" font-weight="bold" stroke="#131313" stroke-width="0.3">Dez</text>
<text x="313.6" y="791" font-size="20" fill="#131313" text-anchor="middle" stroke="#131313" stroke-width="0.3">2</text>
<text x="400.6" y="791" font-size="20" fill="#131313" text-anchor="middle" stroke="#131313" stroke-width="0.3">3</text>
<text x="487.7" y="791" font-size="20" fill="#131313" text-anchor="middle" stroke="#131313" stroke-width="0.3">4</text>
<text x="574.8" y="791" font-size="20" fill="#131313" text-anchor="middle" stroke="#131313" stroke-width="0.3">5</text>
<text x="661.8" y="791" font-size="20" fill="#131313" text-anchor="middle" stroke="#131313" stroke-width="0.3">6</text>
<text x="748.9" y="791" font-size="20" fill="#131313" text-anchor="middle" stroke="#131313" stroke-width="0.3">7</text>
<text x="835.9" y="791" font-size="20" fill="#131313" text-anchor="middle" stroke="#131313" stroke-width="0.3">8</text>
<text x="923" y="791" font-size="20" fill="#131313" text-anchor="middle" stroke="#131313" stroke-width="0.3">9</text>
<text x="1010.1" y="791" font-size="20" fill="#131313" text-anchor="middle" stroke="#131313" stroke-width="0.3">10</text>
<text x="1097.1" y="791" font-size="20" fill="#131313" text-anchor="middle" stroke="#131313" stroke-width="0.3">11</text>
<text x="1184.2" y="791" font-size="20" fill="#131313" text-anchor="middle" stroke="#131313" stroke-width="0.3">12</text>
<text x="1271.2" y="791" font-size="20" fill="#131313" text-anchor="middle" stroke="#131313" stroke-width="0.3">13</text>
<text x="1358.3" y="791" font-size="20" fill="#131313" text-anchor="middle" stroke="#131313" stroke-width="0.3">14</text>
<text x="1445.4" y="791" font-size="20" fill="#131313" text-anchor="middle" stroke="#131313" stroke-width="0.3">15</text>
<text x="1532.4" y="791" font-size="20" fill="#131313" text-anchor="middle" stroke="#131313" stroke-width="0.3">16</text>
<text x="1619.5" y="791" font-size="20" fill="#131313" text-anchor="middle" stroke="#131313" stroke-width="0.3">17</text>
<text x="488.1" y="586.3" font-size="19" fill="#131313" textLength="26.48" lengthAdjust="spacingAndGlyphs" stroke="#131313" stroke-width="0.3">ICE</text><text x="520.4" y="586.3" font-size="19" fill="#131313" textLength="64.72" lengthAdjust="spacingAndGlyphs" stroke="#131313" stroke-width="0.3">Trading</text><text x="592.5" y="586.3" font-size="19" fill="#131313" textLength="58.85" lengthAdjust="spacingAndGlyphs" stroke="#131313" stroke-width="0.3">Deluxe</text><text x="658.7" y="586.3" font-size="19" fill="#131313" textLength="25.66" lengthAdjust="spacingAndGlyphs" stroke="#131313" stroke-width="0.3">Big</text><text x="691" y="586.3" font-size="19" fill="#131313" textLength="43.41" lengthAdjust="spacingAndGlyphs" stroke="#131313" stroke-width="0.3">Point</text>
<text x="294.5" y="634.3" font-size="19" fill="#131313" textLength="29.86" lengthAdjust="spacingAndGlyphs" stroke="#131313" stroke-width="0.3">Von</text><text x="332" y="634.3" font-size="19" fill="#131313" textLength="48.65" lengthAdjust="spacingAndGlyphs" stroke="#131313" stroke-width="0.3">oben:</text><text x="388.7" y="634.3" font-size="19" fill="#131313" textLength="53.46" lengthAdjust="spacingAndGlyphs" stroke="#131313" stroke-width="0.3">Status</text><path d="M451.1 633.6L456.5 620.4" stroke="#131313" stroke-width="1.9" stroke-linecap="round"/><text x="465.4" y="634.3" font-size="19" fill="#131313" textLength="106.31" lengthAdjust="spacingAndGlyphs" stroke="#131313" stroke-width="0.3">Kerzenfarbe</text><path d="M581 633.6L586.3 620.4" stroke="#131313" stroke-width="1.9" stroke-linecap="round"/><text x="594.8" y="634.3" font-size="19" fill="#131313" textLength="110.72" lengthAdjust="spacingAndGlyphs" stroke="#131313" stroke-width="0.3">Wolkenfarbe</text><path d="M713.8 633.6L719.1 620.4" stroke="#131313" stroke-width="1.9" stroke-linecap="round"/><text x="729.8" y="634.3" font-size="19" fill="#131313" textLength="47.23" lengthAdjust="spacingAndGlyphs" stroke="#131313" stroke-width="0.3">Trend</text><path d="M786.6 633.6L791.9 620.4" stroke="#131313" stroke-width="1.9" stroke-linecap="round"/><text x="800.7" y="634.3" font-size="19" fill="#131313" textLength="53.29" lengthAdjust="spacingAndGlyphs" stroke="#131313" stroke-width="0.3">Setter</text><path d="M862.3 633.6L867.6 620.4" stroke="#131313" stroke-width="1.9" stroke-linecap="round"/><text x="877.3" y="634.3" font-size="19" fill="#131313" textLength="48.57" lengthAdjust="spacingAndGlyphs" stroke="#131313" stroke-width="0.3">Welle</text>
<g clip-path="url(#pane)">
<circle cx="16.6" cy="599.5" r="5.4" fill="#00ff00"/>
<circle cx="31.1" cy="599.5" r="5.4" fill="#00ff00"/>
<circle cx="183.35" cy="599.5" r="5.4" fill="#00ff00"/>
<circle cx="190.6" cy="599.5" r="5.4" fill="#00ff00"/>
<circle cx="197.85" cy="599.5" r="5.4" fill="#00ff00"/>
<circle cx="205.1" cy="599.5" r="5.4" fill="#00ff00"/>
<circle cx="212.35" cy="599.5" r="5.4" fill="#00ff00"/>
<circle cx="364.6" cy="599.5" r="5.4" fill="#00ff00"/>
<circle cx="371.85" cy="599.5" r="5.4" fill="#00ff00"/>
<circle cx="379.1" cy="599.5" r="5.4" fill="#00ff00"/>
<circle cx="386.35" cy="599.5" r="5.4" fill="#00ff00"/>
<circle cx="393.6" cy="599.5" r="5.4" fill="#00ff00"/>
<circle cx="400.85" cy="599.5" r="5.4" fill="#00ff00"/>
<circle cx="408.1" cy="599.5" r="5.4" fill="#00ff00"/>
<circle cx="415.35" cy="599.5" r="5.4" fill="#00ff00"/>
<circle cx="422.6" cy="599.5" r="5.4" fill="#00ff00"/>
<circle cx="429.85" cy="599.5" r="5.4" fill="#00ff00"/>
<circle cx="437.1" cy="599.5" r="5.4" fill="#00ff00"/>
<circle cx="444.35" cy="599.5" r="5.4" fill="#00ff00"/>
<circle cx="451.6" cy="599.5" r="5.4" fill="#00ff00"/>
<circle cx="458.85" cy="599.5" r="5.4" fill="#00ff00"/>
<circle cx="466.1" cy="599.5" r="5.4" fill="#00ff00"/>
<circle cx="473.35" cy="599.5" r="5.4" fill="#00ff00"/>
<circle cx="480.6" cy="599.5" r="5.4" fill="#00ff00"/>
<circle cx="487.85" cy="599.5" r="5.4" fill="#00ff00"/>
<circle cx="495.1" cy="599.5" r="5.4" fill="#00ff00"/>
<circle cx="502.35" cy="599.5" r="5.4" fill="#00ff00"/>
<circle cx="509.6" cy="599.5" r="5.4" fill="#00ff00"/>
<circle cx="516.85" cy="599.5" r="5.4" fill="#00ff00"/>
<circle cx="524.1" cy="599.5" r="5.4" fill="#00ff00"/>
<circle cx="538.6" cy="599.5" r="5.4" fill="#00ff00"/>
<circle cx="806.85" cy="599.5" r="5.4" fill="#00ff00"/>
<circle cx="814.1" cy="599.5" r="5.4" fill="#00ff00"/>
<circle cx="821.35" cy="599.5" r="5.4" fill="#00ff00"/>
<circle cx="835.85" cy="599.5" r="5.4" fill="#00ff00"/>
<circle cx="843.1" cy="599.5" r="5.4" fill="#00ff00"/>
<circle cx="850.35" cy="599.5" r="5.4" fill="#00ff00"/>
<circle cx="908.35" cy="599.5" r="5.4" fill="#00ff00"/>
<circle cx="1031.6" cy="599.5" r="5.4" fill="#00ff00"/>
<circle cx="1038.85" cy="599.5" r="5.4" fill="#00ff00"/>
<circle cx="1046.1" cy="599.5" r="5.4" fill="#00ff00"/>
<circle cx="1067.85" cy="599.5" r="5.4" fill="#00ff00"/>
<circle cx="1075.1" cy="599.5" r="5.4" fill="#00ff00"/>
<circle cx="1082.35" cy="599.5" r="5.4" fill="#00ff00"/>
<circle cx="857.6" cy="599.5" r="6.4" fill="#008000"/>
<circle cx="864.85" cy="599.5" r="6.4" fill="#008000"/>
<circle cx="872.1" cy="599.5" r="6.4" fill="#008000"/>
<circle cx="879.35" cy="599.5" r="6.4" fill="#008000"/>
<circle cx="973.6" cy="599.5" r="6.4" fill="#008000"/>
<circle cx="980.85" cy="599.5" r="6.4" fill="#008000"/>
<circle cx="988.1" cy="599.5" r="6.4" fill="#008000"/>
<circle cx="995.35" cy="599.5" r="6.4" fill="#008000"/>
<circle cx="1002.6" cy="599.5" r="6.4" fill="#008000"/>
<circle cx="1009.85" cy="599.5" r="6.4" fill="#008000"/>
<circle cx="1017.1" cy="599.5" r="6.4" fill="#008000"/>
<circle cx="1024.35" cy="599.5" r="6.4" fill="#008000"/>
<circle cx="23.85" cy="599.5" r="5.4" fill="#000000"/>
<circle cx="38.35" cy="599.5" r="5.4" fill="#000000"/>
<circle cx="45.6" cy="599.5" r="5.4" fill="#000000"/>
<circle cx="52.85" cy="599.5" r="5.4" fill="#000000"/>
<circle cx="60.1" cy="599.5" r="5.4" fill="#000000"/>
<circle cx="67.35" cy="599.5" r="5.4" fill="#000000"/>
<circle cx="139.85" cy="599.5" r="5.4" fill="#000000"/>
<circle cx="147.1" cy="599.5" r="5.4" fill="#000000"/>
<circle cx="154.35" cy="599.5" r="5.4" fill="#000000"/>
<circle cx="161.6" cy="599.5" r="5.4" fill="#000000"/>
<circle cx="168.85" cy="599.5" r="5.4" fill="#000000"/>
<circle cx="176.1" cy="599.5" r="5.4" fill="#000000"/>
<circle cx="219.6" cy="599.5" r="5.4" fill="#000000"/>
<circle cx="306.6" cy="599.5" r="5.4" fill="#000000"/>
<circle cx="313.85" cy="599.5" r="5.4" fill="#000000"/>
<circle cx="321.1" cy="599.5" r="5.4" fill="#000000"/>
<circle cx="328.35" cy="599.5" r="5.4" fill="#000000"/>
<circle cx="335.6" cy="599.5" r="5.4" fill="#000000"/>
<circle cx="342.85" cy="599.5" r="5.4" fill="#000000"/>
<circle cx="350.1" cy="599.5" r="5.4" fill="#000000"/>
<circle cx="357.35" cy="599.5" r="5.4" fill="#000000"/>
<circle cx="531.35" cy="599.5" r="5.4" fill="#000000"/>
<circle cx="545.85" cy="599.5" r="5.4" fill="#000000"/>
<circle cx="553.1" cy="599.5" r="5.4" fill="#000000"/>
<circle cx="560.35" cy="599.5" r="5.4" fill="#000000"/>
<circle cx="567.6" cy="599.5" r="5.4" fill="#000000"/>
<circle cx="574.85" cy="599.5" r="5.4" fill="#000000"/>
<circle cx="582.1" cy="599.5" r="5.4" fill="#000000"/>
<circle cx="589.35" cy="599.5" r="5.4" fill="#000000"/>
<circle cx="596.6" cy="599.5" r="5.4" fill="#000000"/>
<circle cx="698.1" cy="599.5" r="5.4" fill="#000000"/>
<circle cx="705.35" cy="599.5" r="5.4" fill="#000000"/>
<circle cx="712.6" cy="599.5" r="5.4" fill="#000000"/>
<circle cx="719.85" cy="599.5" r="5.4" fill="#000000"/>
<circle cx="727.1" cy="599.5" r="5.4" fill="#000000"/>
<circle cx="734.35" cy="599.5" r="5.4" fill="#000000"/>
<circle cx="741.6" cy="599.5" r="5.4" fill="#000000"/>
<circle cx="748.85" cy="599.5" r="5.4" fill="#000000"/>
<circle cx="756.1" cy="599.5" r="5.4" fill="#000000"/>
<circle cx="763.35" cy="599.5" r="5.4" fill="#000000"/>
<circle cx="770.6" cy="599.5" r="5.4" fill="#000000"/>
<circle cx="777.85" cy="599.5" r="5.4" fill="#000000"/>
<circle cx="785.1" cy="599.5" r="5.4" fill="#000000"/>
<circle cx="792.35" cy="599.5" r="5.4" fill="#000000"/>
<circle cx="828.6" cy="599.5" r="5.4" fill="#000000"/>
<circle cx="886.6" cy="599.5" r="5.4" fill="#000000"/>
<circle cx="893.85" cy="599.5" r="5.4" fill="#000000"/>
<circle cx="901.1" cy="599.5" r="5.4" fill="#000000"/>
<circle cx="915.6" cy="599.5" r="5.4" fill="#000000"/>
<circle cx="922.85" cy="599.5" r="5.4" fill="#000000"/>
<circle cx="930.1" cy="599.5" r="5.4" fill="#000000"/>
<circle cx="937.35" cy="599.5" r="5.4" fill="#000000"/>
<circle cx="944.6" cy="599.5" r="5.4" fill="#000000"/>
<circle cx="951.85" cy="599.5" r="5.4" fill="#000000"/>
<circle cx="959.1" cy="599.5" r="5.4" fill="#000000"/>
<circle cx="966.35" cy="599.5" r="5.4" fill="#000000"/>
<circle cx="1053.35" cy="599.5" r="5.4" fill="#000000"/>
<circle cx="1060.6" cy="599.5" r="5.4" fill="#000000"/>
<circle cx="1089.6" cy="599.5" r="5.4" fill="#000000"/>
<circle cx="1096.85" cy="599.5" r="5.4" fill="#000000"/>
<circle cx="1169.35" cy="599.5" r="5.4" fill="#000000"/>
<circle cx="1176.6" cy="599.5" r="5.4" fill="#000000"/>
<circle cx="1183.85" cy="599.5" r="5.4" fill="#000000"/>
<circle cx="1191.1" cy="599.5" r="5.4" fill="#000000"/>
<circle cx="1198.35" cy="599.5" r="5.4" fill="#000000"/>
<circle cx="74.6" cy="599.5" r="5.4" fill="#ff0000"/>
<circle cx="81.85" cy="599.5" r="5.4" fill="#ff0000"/>
<circle cx="89.1" cy="599.5" r="5.4" fill="#ff0000"/>
<circle cx="96.35" cy="599.5" r="5.4" fill="#ff0000"/>
<circle cx="103.6" cy="599.5" r="5.4" fill="#ff0000"/>
<circle cx="125.35" cy="599.5" r="5.4" fill="#ff0000"/>
<circle cx="132.6" cy="599.5" r="5.4" fill="#ff0000"/>
<circle cx="299.35" cy="599.5" r="5.4" fill="#ff0000"/>
<circle cx="603.85" cy="599.5" r="5.4" fill="#ff0000"/>
<circle cx="611.1" cy="599.5" r="5.4" fill="#ff0000"/>
<circle cx="618.35" cy="599.5" r="5.4" fill="#ff0000"/>
<circle cx="625.6" cy="599.5" r="5.4" fill="#ff0000"/>
<circle cx="632.85" cy="599.5" r="5.4" fill="#ff0000"/>
<circle cx="640.1" cy="599.5" r="5.4" fill="#ff0000"/>
<circle cx="647.35" cy="599.5" r="5.4" fill="#ff0000"/>
<circle cx="654.6" cy="599.5" r="5.4" fill="#ff0000"/>
<circle cx="661.85" cy="599.5" r="5.4" fill="#ff0000"/>
<circle cx="669.1" cy="599.5" r="5.4" fill="#ff0000"/>
<circle cx="676.35" cy="599.5" r="5.4" fill="#ff0000"/>
<circle cx="683.6" cy="599.5" r="5.4" fill="#ff0000"/>
<circle cx="690.85" cy="599.5" r="5.4" fill="#ff0000"/>
<circle cx="799.6" cy="599.5" r="5.4" fill="#ff0000"/>
<circle cx="1104.1" cy="599.5" r="5.4" fill="#ff0000"/>
<circle cx="1111.35" cy="599.5" r="5.4" fill="#ff0000"/>
<circle cx="1118.6" cy="599.5" r="5.4" fill="#ff0000"/>
<circle cx="1125.85" cy="599.5" r="5.4" fill="#ff0000"/>
<circle cx="1133.1" cy="599.5" r="5.4" fill="#ff0000"/>
<circle cx="1140.35" cy="599.5" r="5.4" fill="#ff0000"/>
<circle cx="1147.6" cy="599.5" r="5.4" fill="#ff0000"/>
<circle cx="1154.85" cy="599.5" r="5.4" fill="#ff0000"/>
<circle cx="1162.1" cy="599.5" r="5.4" fill="#ff0000"/>
<circle cx="110.85" cy="599.5" r="6.4" fill="#800000"/>
<circle cx="118.1" cy="599.5" r="6.4" fill="#800000"/>
<circle cx="226.85" cy="599.5" r="6.4" fill="#800000"/>
<circle cx="234.1" cy="599.5" r="6.4" fill="#800000"/>
<circle cx="241.35" cy="599.5" r="6.4" fill="#800000"/>
<circle cx="248.6" cy="599.5" r="6.4" fill="#800000"/>
<circle cx="255.85" cy="599.5" r="6.4" fill="#800000"/>
<circle cx="263.1" cy="599.5" r="6.4" fill="#800000"/>
<circle cx="270.35" cy="599.5" r="6.4" fill="#800000"/>
<circle cx="277.6" cy="599.5" r="6.4" fill="#800000"/>
<circle cx="284.85" cy="599.5" r="6.4" fill="#800000"/>
<circle cx="292.1" cy="599.5" r="6.4" fill="#800000"/>
<circle cx="38.35" cy="647.3" r="6.45" fill="#ffff00"/>
<circle cx="45.6" cy="647.3" r="6.45" fill="#ffff00"/>
<circle cx="52.85" cy="647.3" r="6.45" fill="#ffff00"/>
<circle cx="60.1" cy="647.3" r="6.45" fill="#ffff00"/>
<circle cx="67.35" cy="647.3" r="6.45" fill="#ffff00"/>
<circle cx="139.85" cy="647.3" r="6.45" fill="#ffff00"/>
<circle cx="147.1" cy="647.3" r="6.45" fill="#ffff00"/>
<circle cx="154.35" cy="647.3" r="6.45" fill="#ffff00"/>
<circle cx="161.6" cy="647.3" r="6.45" fill="#ffff00"/>
<circle cx="168.85" cy="647.3" r="6.45" fill="#ffff00"/>
<circle cx="176.1" cy="647.3" r="6.45" fill="#ffff00"/>
<circle cx="313.85" cy="647.3" r="6.45" fill="#ffff00"/>
<circle cx="321.1" cy="647.3" r="6.45" fill="#ffff00"/>
<circle cx="328.35" cy="647.3" r="6.45" fill="#ffff00"/>
<circle cx="335.6" cy="647.3" r="6.45" fill="#ffff00"/>
<circle cx="342.85" cy="647.3" r="6.45" fill="#ffff00"/>
<circle cx="350.1" cy="647.3" r="6.45" fill="#ffff00"/>
<circle cx="524.1" cy="647.3" r="6.45" fill="#ffff00"/>
<circle cx="531.35" cy="647.3" r="6.45" fill="#ffff00"/>
<circle cx="545.85" cy="647.3" r="6.45" fill="#ffff00"/>
<circle cx="553.1" cy="647.3" r="6.45" fill="#ffff00"/>
<circle cx="560.35" cy="647.3" r="6.45" fill="#ffff00"/>
<circle cx="567.6" cy="647.3" r="6.45" fill="#ffff00"/>
<circle cx="574.85" cy="647.3" r="6.45" fill="#ffff00"/>
<circle cx="582.1" cy="647.3" r="6.45" fill="#ffff00"/>
<circle cx="589.35" cy="647.3" r="6.45" fill="#ffff00"/>
<circle cx="690.85" cy="647.3" r="6.45" fill="#ffff00"/>
<circle cx="698.1" cy="647.3" r="6.45" fill="#ffff00"/>
<circle cx="705.35" cy="647.3" r="6.45" fill="#ffff00"/>
<circle cx="712.6" cy="647.3" r="6.45" fill="#ffff00"/>
<circle cx="719.85" cy="647.3" r="6.45" fill="#ffff00"/>
<circle cx="727.1" cy="647.3" r="6.45" fill="#ffff00"/>
<circle cx="734.35" cy="647.3" r="6.45" fill="#ffff00"/>
<circle cx="741.6" cy="647.3" r="6.45" fill="#ffff00"/>
<circle cx="748.85" cy="647.3" r="6.45" fill="#ffff00"/>
<circle cx="785.1" cy="647.3" r="6.45" fill="#ffff00"/>
<circle cx="886.6" cy="647.3" r="6.45" fill="#ffff00"/>
<circle cx="893.85" cy="647.3" r="6.45" fill="#ffff00"/>
<circle cx="901.1" cy="647.3" r="6.45" fill="#ffff00"/>
<circle cx="915.6" cy="647.3" r="6.45" fill="#ffff00"/>
<circle cx="922.85" cy="647.3" r="6.45" fill="#ffff00"/>
<circle cx="930.1" cy="647.3" r="6.45" fill="#ffff00"/>
<circle cx="937.35" cy="647.3" r="6.45" fill="#ffff00"/>
<circle cx="944.6" cy="647.3" r="6.45" fill="#ffff00"/>
<circle cx="959.1" cy="647.3" r="6.45" fill="#ffff00"/>
<circle cx="1031.6" cy="647.3" r="6.45" fill="#ffff00"/>
<circle cx="1089.6" cy="647.3" r="6.45" fill="#ffff00"/>
<circle cx="1169.35" cy="647.3" r="6.45" fill="#ffff00"/>
<circle cx="1176.6" cy="647.3" r="6.45" fill="#ffff00"/>
<circle cx="1183.85" cy="647.3" r="6.45" fill="#ffff00"/>
<circle cx="1191.1" cy="647.3" r="6.45" fill="#ffff00"/>
<circle cx="1198.35" cy="647.3" r="6.45" fill="#ffff00"/>
<circle cx="74.6" cy="647.3" r="6.45" fill="#ff0000"/>
<circle cx="81.85" cy="647.3" r="6.45" fill="#ff0000"/>
<circle cx="89.1" cy="647.3" r="6.45" fill="#ff0000"/>
<circle cx="96.35" cy="647.3" r="6.45" fill="#ff0000"/>
<circle cx="103.6" cy="647.3" r="6.45" fill="#ff0000"/>
<circle cx="110.85" cy="647.3" r="6.45" fill="#ff0000"/>
<circle cx="118.1" cy="647.3" r="6.45" fill="#ff0000"/>
<circle cx="125.35" cy="647.3" r="6.45" fill="#ff0000"/>
<circle cx="132.6" cy="647.3" r="6.45" fill="#ff0000"/>
<circle cx="219.6" cy="647.3" r="6.45" fill="#ff0000"/>
<circle cx="226.85" cy="647.3" r="6.45" fill="#ff0000"/>
<circle cx="234.1" cy="647.3" r="6.45" fill="#ff0000"/>
<circle cx="241.35" cy="647.3" r="6.45" fill="#ff0000"/>
<circle cx="248.6" cy="647.3" r="6.45" fill="#ff0000"/>
<circle cx="255.85" cy="647.3" r="6.45" fill="#ff0000"/>
<circle cx="263.1" cy="647.3" r="6.45" fill="#ff0000"/>
<circle cx="270.35" cy="647.3" r="6.45" fill="#ff0000"/>
<circle cx="277.6" cy="647.3" r="6.45" fill="#ff0000"/>
<circle cx="284.85" cy="647.3" r="6.45" fill="#ff0000"/>
<circle cx="292.1" cy="647.3" r="6.45" fill="#ff0000"/>
<circle cx="299.35" cy="647.3" r="6.45" fill="#ff0000"/>
<circle cx="306.6" cy="647.3" r="6.45" fill="#ff0000"/>
<circle cx="603.85" cy="647.3" r="6.45" fill="#ff0000"/>
<circle cx="611.1" cy="647.3" r="6.45" fill="#ff0000"/>
<circle cx="618.35" cy="647.3" r="6.45" fill="#ff0000"/>
<circle cx="625.6" cy="647.3" r="6.45" fill="#ff0000"/>
<circle cx="632.85" cy="647.3" r="6.45" fill="#ff0000"/>
<circle cx="640.1" cy="647.3" r="6.45" fill="#ff0000"/>
<circle cx="647.35" cy="647.3" r="6.45" fill="#ff0000"/>
<circle cx="654.6" cy="647.3" r="6.45" fill="#ff0000"/>
<circle cx="661.85" cy="647.3" r="6.45" fill="#ff0000"/>
<circle cx="669.1" cy="647.3" r="6.45" fill="#ff0000"/>
<circle cx="676.35" cy="647.3" r="6.45" fill="#ff0000"/>
<circle cx="683.6" cy="647.3" r="6.45" fill="#ff0000"/>
<circle cx="770.6" cy="647.3" r="6.45" fill="#ff0000"/>
<circle cx="777.85" cy="647.3" r="6.45" fill="#ff0000"/>
<circle cx="792.35" cy="647.3" r="6.45" fill="#ff0000"/>
<circle cx="799.6" cy="647.3" r="6.45" fill="#ff0000"/>
<circle cx="951.85" cy="647.3" r="6.45" fill="#ff0000"/>
<circle cx="1096.85" cy="647.3" r="6.45" fill="#ff0000"/>
<circle cx="1104.1" cy="647.3" r="6.45" fill="#ff0000"/>
<circle cx="1111.35" cy="647.3" r="6.45" fill="#ff0000"/>
<circle cx="1118.6" cy="647.3" r="6.45" fill="#ff0000"/>
<circle cx="1125.85" cy="647.3" r="6.45" fill="#ff0000"/>
<circle cx="1133.1" cy="647.3" r="6.45" fill="#ff0000"/>
<circle cx="1140.35" cy="647.3" r="6.45" fill="#ff0000"/>
<circle cx="1147.6" cy="647.3" r="6.45" fill="#ff0000"/>
<circle cx="1154.85" cy="647.3" r="6.45" fill="#ff0000"/>
<circle cx="1162.1" cy="647.3" r="6.45" fill="#ff0000"/>
<circle cx="16.6" cy="647.3" r="6.45" fill="#00ff00"/>
<circle cx="23.85" cy="647.3" r="6.45" fill="#00ff00"/>
<circle cx="31.1" cy="647.3" r="6.45" fill="#00ff00"/>
<circle cx="183.35" cy="647.3" r="6.45" fill="#00ff00"/>
<circle cx="190.6" cy="647.3" r="6.45" fill="#00ff00"/>
<circle cx="197.85" cy="647.3" r="6.45" fill="#00ff00"/>
<circle cx="205.1" cy="647.3" r="6.45" fill="#00ff00"/>
<circle cx="212.35" cy="647.3" r="6.45" fill="#00ff00"/>
<circle cx="357.35" cy="647.3" r="6.45" fill="#00ff00"/>
<circle cx="364.6" cy="647.3" r="6.45" fill="#00ff00"/>
<circle cx="371.85" cy="647.3" r="6.45" fill="#00ff00"/>
<circle cx="379.1" cy="647.3" r="6.45" fill="#00ff00"/>
<circle cx="386.35" cy="647.3" r="6.45" fill="#00ff00"/>
<circle cx="393.6" cy="647.3" r="6.45" fill="#00ff00"/>
<circle cx="400.85" cy="647.3" r="6.45" fill="#00ff00"/>
<circle cx="408.1" cy="647.3" r="6.45" fill="#00ff00"/>
<circle cx="415.35" cy="647.3" r="6.45" fill="#00ff00"/>
<circle cx="422.6" cy="647.3" r="6.45" fill="#00ff00"/>
<circle cx="429.85" cy="647.3" r="6.45" fill="#00ff00"/>
<circle cx="437.1" cy="647.3" r="6.45" fill="#00ff00"/>
<circle cx="444.35" cy="647.3" r="6.45" fill="#00ff00"/>
<circle cx="451.6" cy="647.3" r="6.45" fill="#00ff00"/>
<circle cx="458.85" cy="647.3" r="6.45" fill="#00ff00"/>
<circle cx="466.1" cy="647.3" r="6.45" fill="#00ff00"/>
<circle cx="473.35" cy="647.3" r="6.45" fill="#00ff00"/>
<circle cx="480.6" cy="647.3" r="6.45" fill="#00ff00"/>
<circle cx="487.85" cy="647.3" r="6.45" fill="#00ff00"/>
<circle cx="495.1" cy="647.3" r="6.45" fill="#00ff00"/>
<circle cx="502.35" cy="647.3" r="6.45" fill="#00ff00"/>
<circle cx="509.6" cy="647.3" r="6.45" fill="#00ff00"/>
<circle cx="516.85" cy="647.3" r="6.45" fill="#00ff00"/>
<circle cx="538.6" cy="647.3" r="6.45" fill="#00ff00"/>
<circle cx="596.6" cy="647.3" r="6.45" fill="#00ff00"/>
<circle cx="756.1" cy="647.3" r="6.45" fill="#00ff00"/>
<circle cx="763.35" cy="647.3" r="6.45" fill="#00ff00"/>
<circle cx="806.85" cy="647.3" r="6.45" fill="#00ff00"/>
<circle cx="814.1" cy="647.3" r="6.45" fill="#00ff00"/>
<circle cx="821.35" cy="647.3" r="6.45" fill="#00ff00"/>
<circle cx="828.6" cy="647.3" r="6.45" fill="#00ff00"/>
<circle cx="835.85" cy="647.3" r="6.45" fill="#00ff00"/>
<circle cx="843.1" cy="647.3" r="6.45" fill="#00ff00"/>
<circle cx="850.35" cy="647.3" r="6.45" fill="#00ff00"/>
<circle cx="857.6" cy="647.3" r="6.45" fill="#00ff00"/>
<circle cx="864.85" cy="647.3" r="6.45" fill="#00ff00"/>
<circle cx="872.1" cy="647.3" r="6.45" fill="#00ff00"/>
<circle cx="879.35" cy="647.3" r="6.45" fill="#00ff00"/>
<circle cx="908.35" cy="647.3" r="6.45" fill="#00ff00"/>
<circle cx="966.35" cy="647.3" r="6.45" fill="#00ff00"/>
<circle cx="973.6" cy="647.3" r="6.45" fill="#00ff00"/>
<circle cx="980.85" cy="647.3" r="6.45" fill="#00ff00"/>
<circle cx="988.1" cy="647.3" r="6.45" fill="#00ff00"/>
<circle cx="995.35" cy="647.3" r="6.45" fill="#00ff00"/>
<circle cx="1002.6" cy="647.3" r="6.45" fill="#00ff00"/>
<circle cx="1009.85" cy="647.3" r="6.45" fill="#00ff00"/>
<circle cx="1017.1" cy="647.3" r="6.45" fill="#00ff00"/>
<circle cx="1024.35" cy="647.3" r="6.45" fill="#00ff00"/>
<circle cx="1038.85" cy="647.3" r="6.45" fill="#00ff00"/>
<circle cx="1046.1" cy="647.3" r="6.45" fill="#00ff00"/>
<circle cx="1053.35" cy="647.3" r="6.45" fill="#00ff00"/>
<circle cx="1060.6" cy="647.3" r="6.45" fill="#00ff00"/>
<circle cx="1067.85" cy="647.3" r="6.45" fill="#00ff00"/>
<circle cx="1075.1" cy="647.3" r="6.45" fill="#00ff00"/>
<circle cx="1082.35" cy="647.3" r="6.45" fill="#00ff00"/>
<circle cx="16.6" cy="666.75" r="6.45" fill="#00ff00"/>
<circle cx="132.6" cy="666.75" r="6.45" fill="#00ff00"/>
<circle cx="139.85" cy="666.75" r="6.45" fill="#00ff00"/>
<circle cx="147.1" cy="666.75" r="6.45" fill="#00ff00"/>
<circle cx="154.35" cy="666.75" r="6.45" fill="#00ff00"/>
<circle cx="161.6" cy="666.75" r="6.45" fill="#00ff00"/>
<circle cx="168.85" cy="666.75" r="6.45" fill="#00ff00"/>
<circle cx="183.35" cy="666.75" r="6.45" fill="#00ff00"/>
<circle cx="190.6" cy="666.75" r="6.45" fill="#00ff00"/>
<circle cx="197.85" cy="666.75" r="6.45" fill="#00ff00"/>
<circle cx="270.35" cy="666.75" r="6.45" fill="#00ff00"/>
<circle cx="306.6" cy="666.75" r="6.45" fill="#00ff00"/>
<circle cx="313.85" cy="666.75" r="6.45" fill="#00ff00"/>
<circle cx="321.1" cy="666.75" r="6.45" fill="#00ff00"/>
<circle cx="328.35" cy="666.75" r="6.45" fill="#00ff00"/>
<circle cx="357.35" cy="666.75" r="6.45" fill="#00ff00"/>
<circle cx="364.6" cy="666.75" r="6.45" fill="#00ff00"/>
<circle cx="371.85" cy="666.75" r="6.45" fill="#00ff00"/>
<circle cx="379.1" cy="666.75" r="6.45" fill="#00ff00"/>
<circle cx="386.35" cy="666.75" r="6.45" fill="#00ff00"/>
<circle cx="437.1" cy="666.75" r="6.45" fill="#00ff00"/>
<circle cx="466.1" cy="666.75" r="6.45" fill="#00ff00"/>
<circle cx="473.35" cy="666.75" r="6.45" fill="#00ff00"/>
<circle cx="480.6" cy="666.75" r="6.45" fill="#00ff00"/>
<circle cx="487.85" cy="666.75" r="6.45" fill="#00ff00"/>
<circle cx="495.1" cy="666.75" r="6.45" fill="#00ff00"/>
<circle cx="676.35" cy="666.75" r="6.45" fill="#00ff00"/>
<circle cx="683.6" cy="666.75" r="6.45" fill="#00ff00"/>
<circle cx="690.85" cy="666.75" r="6.45" fill="#00ff00"/>
<circle cx="698.1" cy="666.75" r="6.45" fill="#00ff00"/>
<circle cx="712.6" cy="666.75" r="6.45" fill="#00ff00"/>
<circle cx="719.85" cy="666.75" r="6.45" fill="#00ff00"/>
<circle cx="727.1" cy="666.75" r="6.45" fill="#00ff00"/>
<circle cx="734.35" cy="666.75" r="6.45" fill="#00ff00"/>
<circle cx="763.35" cy="666.75" r="6.45" fill="#00ff00"/>
<circle cx="770.6" cy="666.75" r="6.45" fill="#00ff00"/>
<circle cx="806.85" cy="666.75" r="6.45" fill="#00ff00"/>
<circle cx="814.1" cy="666.75" r="6.45" fill="#00ff00"/>
<circle cx="821.35" cy="666.75" r="6.45" fill="#00ff00"/>
<circle cx="835.85" cy="666.75" r="6.45" fill="#00ff00"/>
<circle cx="864.85" cy="666.75" r="6.45" fill="#00ff00"/>
<circle cx="872.1" cy="666.75" r="6.45" fill="#00ff00"/>
<circle cx="966.35" cy="666.75" r="6.45" fill="#00ff00"/>
<circle cx="973.6" cy="666.75" r="6.45" fill="#00ff00"/>
<circle cx="980.85" cy="666.75" r="6.45" fill="#00ff00"/>
<circle cx="988.1" cy="666.75" r="6.45" fill="#00ff00"/>
<circle cx="995.35" cy="666.75" r="6.45" fill="#00ff00"/>
<circle cx="1002.6" cy="666.75" r="6.45" fill="#00ff00"/>
<circle cx="1075.1" cy="666.75" r="6.45" fill="#00ff00"/>
<circle cx="1082.35" cy="666.75" r="6.45" fill="#00ff00"/>
<circle cx="1162.1" cy="666.75" r="6.45" fill="#00ff00"/>
<circle cx="1169.35" cy="666.75" r="6.45" fill="#00ff00"/>
<circle cx="1176.6" cy="666.75" r="6.45" fill="#00ff00"/>
<circle cx="1183.85" cy="666.75" r="6.45" fill="#00ff00"/>
<circle cx="1191.1" cy="666.75" r="6.45" fill="#00ff00"/>
<circle cx="23.85" cy="666.75" r="6.45" fill="#000000"/>
<circle cx="67.35" cy="666.75" r="6.45" fill="#000000"/>
<circle cx="96.35" cy="666.75" r="6.45" fill="#000000"/>
<circle cx="103.6" cy="666.75" r="6.45" fill="#000000"/>
<circle cx="110.85" cy="666.75" r="6.45" fill="#000000"/>
<circle cx="118.1" cy="666.75" r="6.45" fill="#000000"/>
<circle cx="125.35" cy="666.75" r="6.45" fill="#000000"/>
<circle cx="176.1" cy="666.75" r="6.45" fill="#000000"/>
<circle cx="205.1" cy="666.75" r="6.45" fill="#000000"/>
<circle cx="212.35" cy="666.75" r="6.45" fill="#000000"/>
<circle cx="255.85" cy="666.75" r="6.45" fill="#000000"/>
<circle cx="263.1" cy="666.75" r="6.45" fill="#000000"/>
<circle cx="277.6" cy="666.75" r="6.45" fill="#000000"/>
<circle cx="335.6" cy="666.75" r="6.45" fill="#000000"/>
<circle cx="342.85" cy="666.75" r="6.45" fill="#000000"/>
<circle cx="350.1" cy="666.75" r="6.45" fill="#000000"/>
<circle cx="393.6" cy="666.75" r="6.45" fill="#000000"/>
<circle cx="400.85" cy="666.75" r="6.45" fill="#000000"/>
<circle cx="408.1" cy="666.75" r="6.45" fill="#000000"/>
<circle cx="415.35" cy="666.75" r="6.45" fill="#000000"/>
<circle cx="422.6" cy="666.75" r="6.45" fill="#000000"/>
<circle cx="429.85" cy="666.75" r="6.45" fill="#000000"/>
<circle cx="444.35" cy="666.75" r="6.45" fill="#000000"/>
<circle cx="451.6" cy="666.75" r="6.45" fill="#000000"/>
<circle cx="458.85" cy="666.75" r="6.45" fill="#000000"/>
<circle cx="502.35" cy="666.75" r="6.45" fill="#000000"/>
<circle cx="509.6" cy="666.75" r="6.45" fill="#000000"/>
<circle cx="567.6" cy="666.75" r="6.45" fill="#000000"/>
<circle cx="574.85" cy="666.75" r="6.45" fill="#000000"/>
<circle cx="582.1" cy="666.75" r="6.45" fill="#000000"/>
<circle cx="589.35" cy="666.75" r="6.45" fill="#000000"/>
<circle cx="596.6" cy="666.75" r="6.45" fill="#000000"/>
<circle cx="661.85" cy="666.75" r="6.45" fill="#000000"/>
<circle cx="669.1" cy="666.75" r="6.45" fill="#000000"/>
<circle cx="705.35" cy="666.75" r="6.45" fill="#000000"/>
<circle cx="741.6" cy="666.75" r="6.45" fill="#000000"/>
<circle cx="748.85" cy="666.75" r="6.45" fill="#000000"/>
<circle cx="756.1" cy="666.75" r="6.45" fill="#000000"/>
<circle cx="777.85" cy="666.75" r="6.45" fill="#000000"/>
<circle cx="785.1" cy="666.75" r="6.45" fill="#000000"/>
<circle cx="792.35" cy="666.75" r="6.45" fill="#000000"/>
<circle cx="828.6" cy="666.75" r="6.45" fill="#000000"/>
<circle cx="843.1" cy="666.75" r="6.45" fill="#000000"/>
<circle cx="857.6" cy="666.75" r="6.45" fill="#000000"/>
<circle cx="879.35" cy="666.75" r="6.45" fill="#000000"/>
<circle cx="915.6" cy="666.75" r="6.45" fill="#000000"/>
<circle cx="922.85" cy="666.75" r="6.45" fill="#000000"/>
<circle cx="930.1" cy="666.75" r="6.45" fill="#000000"/>
<circle cx="937.35" cy="666.75" r="6.45" fill="#000000"/>
<circle cx="1009.85" cy="666.75" r="6.45" fill="#000000"/>
<circle cx="1046.1" cy="666.75" r="6.45" fill="#000000"/>
<circle cx="1053.35" cy="666.75" r="6.45" fill="#000000"/>
<circle cx="1060.6" cy="666.75" r="6.45" fill="#000000"/>
<circle cx="1067.85" cy="666.75" r="6.45" fill="#000000"/>
<circle cx="1125.85" cy="666.75" r="6.45" fill="#000000"/>
<circle cx="1133.1" cy="666.75" r="6.45" fill="#000000"/>
<circle cx="1140.35" cy="666.75" r="6.45" fill="#000000"/>
<circle cx="1147.6" cy="666.75" r="6.45" fill="#000000"/>
<circle cx="1154.85" cy="666.75" r="6.45" fill="#000000"/>
<circle cx="1198.35" cy="666.75" r="6.45" fill="#000000"/>
<circle cx="31.1" cy="666.75" r="6.45" fill="#ff0000"/>
<circle cx="38.35" cy="666.75" r="6.45" fill="#ff0000"/>
<circle cx="45.6" cy="666.75" r="6.45" fill="#ff0000"/>
<circle cx="52.85" cy="666.75" r="6.45" fill="#ff0000"/>
<circle cx="60.1" cy="666.75" r="6.45" fill="#ff0000"/>
<circle cx="74.6" cy="666.75" r="6.45" fill="#ff0000"/>
<circle cx="81.85" cy="666.75" r="6.45" fill="#ff0000"/>
<circle cx="89.1" cy="666.75" r="6.45" fill="#ff0000"/>
<circle cx="219.6" cy="666.75" r="6.45" fill="#ff0000"/>
<circle cx="226.85" cy="666.75" r="6.45" fill="#ff0000"/>
<circle cx="234.1" cy="666.75" r="6.45" fill="#ff0000"/>
<circle cx="241.35" cy="666.75" r="6.45" fill="#ff0000"/>
<circle cx="248.6" cy="666.75" r="6.45" fill="#ff0000"/>
<circle cx="284.85" cy="666.75" r="6.45" fill="#ff0000"/>
<circle cx="292.1" cy="666.75" r="6.45" fill="#ff0000"/>
<circle cx="299.35" cy="666.75" r="6.45" fill="#ff0000"/>
<circle cx="516.85" cy="666.75" r="6.45" fill="#ff0000"/>
<circle cx="524.1" cy="666.75" r="6.45" fill="#ff0000"/>
<circle cx="531.35" cy="666.75" r="6.45" fill="#ff0000"/>
<circle cx="538.6" cy="666.75" r="6.45" fill="#ff0000"/>
<circle cx="545.85" cy="666.75" r="6.45" fill="#ff0000"/>
<circle cx="553.1" cy="666.75" r="6.45" fill="#ff0000"/>
<circle cx="560.35" cy="666.75" r="6.45" fill="#ff0000"/>
<circle cx="603.85" cy="666.75" r="6.45" fill="#ff0000"/>
<circle cx="611.1" cy="666.75" r="6.45" fill="#ff0000"/>
<circle cx="618.35" cy="666.75" r="6.45" fill="#ff0000"/>
<circle cx="625.6" cy="666.75" r="6.45" fill="#ff0000"/>
<circle cx="632.85" cy="666.75" r="6.45" fill="#ff0000"/>
<circle cx="640.1" cy="666.75" r="6.45" fill="#ff0000"/>
<circle cx="647.35" cy="666.75" r="6.45" fill="#ff0000"/>
<circle cx="654.6" cy="666.75" r="6.45" fill="#ff0000"/>
<circle cx="799.6" cy="666.75" r="6.45" fill="#ff0000"/>
<circle cx="850.35" cy="666.75" r="6.45" fill="#ff0000"/>
<circle cx="886.6" cy="666.75" r="6.45" fill="#ff0000"/>
<circle cx="893.85" cy="666.75" r="6.45" fill="#ff0000"/>
<circle cx="901.1" cy="666.75" r="6.45" fill="#ff0000"/>
<circle cx="908.35" cy="666.75" r="6.45" fill="#ff0000"/>
<circle cx="944.6" cy="666.75" r="6.45" fill="#ff0000"/>
<circle cx="951.85" cy="666.75" r="6.45" fill="#ff0000"/>
<circle cx="959.1" cy="666.75" r="6.45" fill="#ff0000"/>
<circle cx="1017.1" cy="666.75" r="6.45" fill="#ff0000"/>
<circle cx="1024.35" cy="666.75" r="6.45" fill="#ff0000"/>
<circle cx="1031.6" cy="666.75" r="6.45" fill="#ff0000"/>
<circle cx="1038.85" cy="666.75" r="6.45" fill="#ff0000"/>
<circle cx="1089.6" cy="666.75" r="6.45" fill="#ff0000"/>
<circle cx="1096.85" cy="666.75" r="6.45" fill="#ff0000"/>
<circle cx="1104.1" cy="666.75" r="6.45" fill="#ff0000"/>
<circle cx="1111.35" cy="666.75" r="6.45" fill="#ff0000"/>
<circle cx="1118.6" cy="666.75" r="6.45" fill="#ff0000"/>
<circle cx="16.6" cy="686.2" r="6.45" fill="#00ff00"/>
<circle cx="23.85" cy="686.2" r="6.45" fill="#00ff00"/>
<circle cx="31.1" cy="686.2" r="6.45" fill="#00ff00"/>
<circle cx="38.35" cy="686.2" r="6.45" fill="#00ff00"/>
<circle cx="45.6" cy="686.2" r="6.45" fill="#00ff00"/>
<circle cx="52.85" cy="686.2" r="6.45" fill="#00ff00"/>
<circle cx="60.1" cy="686.2" r="6.45" fill="#00ff00"/>
<circle cx="67.35" cy="686.2" r="6.45" fill="#00ff00"/>
<circle cx="74.6" cy="686.2" r="6.45" fill="#00ff00"/>
<circle cx="81.85" cy="686.2" r="6.45" fill="#00ff00"/>
<circle cx="89.1" cy="686.2" r="6.45" fill="#00ff00"/>
<circle cx="96.35" cy="686.2" r="6.45" fill="#00ff00"/>
<circle cx="103.6" cy="686.2" r="6.45" fill="#00ff00"/>
<circle cx="110.85" cy="686.2" r="6.45" fill="#00ff00"/>
<circle cx="118.1" cy="686.2" r="6.45" fill="#00ff00"/>
<circle cx="125.35" cy="686.2" r="6.45" fill="#00ff00"/>
<circle cx="132.6" cy="686.2" r="6.45" fill="#00ff00"/>
<circle cx="139.85" cy="686.2" r="6.45" fill="#00ff00"/>
<circle cx="147.1" cy="686.2" r="6.45" fill="#00ff00"/>
<circle cx="154.35" cy="686.2" r="6.45" fill="#00ff00"/>
<circle cx="161.6" cy="686.2" r="6.45" fill="#00ff00"/>
<circle cx="168.85" cy="686.2" r="6.45" fill="#00ff00"/>
<circle cx="176.1" cy="686.2" r="6.45" fill="#00ff00"/>
<circle cx="183.35" cy="686.2" r="6.45" fill="#00ff00"/>
<circle cx="190.6" cy="686.2" r="6.45" fill="#00ff00"/>
<circle cx="197.85" cy="686.2" r="6.45" fill="#00ff00"/>
<circle cx="205.1" cy="686.2" r="6.45" fill="#00ff00"/>
<circle cx="212.35" cy="686.2" r="6.45" fill="#00ff00"/>
<circle cx="219.6" cy="686.2" r="6.45" fill="#00ff00"/>
<circle cx="400.85" cy="686.2" r="6.45" fill="#00ff00"/>
<circle cx="408.1" cy="686.2" r="6.45" fill="#00ff00"/>
<circle cx="415.35" cy="686.2" r="6.45" fill="#00ff00"/>
<circle cx="422.6" cy="686.2" r="6.45" fill="#00ff00"/>
<circle cx="429.85" cy="686.2" r="6.45" fill="#00ff00"/>
<circle cx="437.1" cy="686.2" r="6.45" fill="#00ff00"/>
<circle cx="444.35" cy="686.2" r="6.45" fill="#00ff00"/>
<circle cx="451.6" cy="686.2" r="6.45" fill="#00ff00"/>
<circle cx="458.85" cy="686.2" r="6.45" fill="#00ff00"/>
<circle cx="466.1" cy="686.2" r="6.45" fill="#00ff00"/>
<circle cx="473.35" cy="686.2" r="6.45" fill="#00ff00"/>
<circle cx="480.6" cy="686.2" r="6.45" fill="#00ff00"/>
<circle cx="487.85" cy="686.2" r="6.45" fill="#00ff00"/>
<circle cx="495.1" cy="686.2" r="6.45" fill="#00ff00"/>
<circle cx="502.35" cy="686.2" r="6.45" fill="#00ff00"/>
<circle cx="509.6" cy="686.2" r="6.45" fill="#00ff00"/>
<circle cx="516.85" cy="686.2" r="6.45" fill="#00ff00"/>
<circle cx="524.1" cy="686.2" r="6.45" fill="#00ff00"/>
<circle cx="531.35" cy="686.2" r="6.45" fill="#00ff00"/>
<circle cx="538.6" cy="686.2" r="6.45" fill="#00ff00"/>
<circle cx="545.85" cy="686.2" r="6.45" fill="#00ff00"/>
<circle cx="553.1" cy="686.2" r="6.45" fill="#00ff00"/>
<circle cx="560.35" cy="686.2" r="6.45" fill="#00ff00"/>
<circle cx="567.6" cy="686.2" r="6.45" fill="#00ff00"/>
<circle cx="574.85" cy="686.2" r="6.45" fill="#00ff00"/>
<circle cx="582.1" cy="686.2" r="6.45" fill="#00ff00"/>
<circle cx="589.35" cy="686.2" r="6.45" fill="#00ff00"/>
<circle cx="596.6" cy="686.2" r="6.45" fill="#00ff00"/>
<circle cx="603.85" cy="686.2" r="6.45" fill="#00ff00"/>
<circle cx="611.1" cy="686.2" r="6.45" fill="#00ff00"/>
<circle cx="618.35" cy="686.2" r="6.45" fill="#00ff00"/>
<circle cx="625.6" cy="686.2" r="6.45" fill="#00ff00"/>
<circle cx="632.85" cy="686.2" r="6.45" fill="#00ff00"/>
<circle cx="640.1" cy="686.2" r="6.45" fill="#00ff00"/>
<circle cx="647.35" cy="686.2" r="6.45" fill="#00ff00"/>
<circle cx="654.6" cy="686.2" r="6.45" fill="#00ff00"/>
<circle cx="661.85" cy="686.2" r="6.45" fill="#00ff00"/>
<circle cx="669.1" cy="686.2" r="6.45" fill="#00ff00"/>
<circle cx="676.35" cy="686.2" r="6.45" fill="#00ff00"/>
<circle cx="683.6" cy="686.2" r="6.45" fill="#00ff00"/>
<circle cx="690.85" cy="686.2" r="6.45" fill="#00ff00"/>
<circle cx="698.1" cy="686.2" r="6.45" fill="#00ff00"/>
<circle cx="705.35" cy="686.2" r="6.45" fill="#00ff00"/>
<circle cx="712.6" cy="686.2" r="6.45" fill="#00ff00"/>
<circle cx="719.85" cy="686.2" r="6.45" fill="#00ff00"/>
<circle cx="727.1" cy="686.2" r="6.45" fill="#00ff00"/>
<circle cx="734.35" cy="686.2" r="6.45" fill="#00ff00"/>
<circle cx="872.1" cy="686.2" r="6.45" fill="#00ff00"/>
<circle cx="879.35" cy="686.2" r="6.45" fill="#00ff00"/>
<circle cx="886.6" cy="686.2" r="6.45" fill="#00ff00"/>
<circle cx="893.85" cy="686.2" r="6.45" fill="#00ff00"/>
<circle cx="901.1" cy="686.2" r="6.45" fill="#00ff00"/>
<circle cx="908.35" cy="686.2" r="6.45" fill="#00ff00"/>
<circle cx="915.6" cy="686.2" r="6.45" fill="#00ff00"/>
<circle cx="922.85" cy="686.2" r="6.45" fill="#00ff00"/>
<circle cx="930.1" cy="686.2" r="6.45" fill="#00ff00"/>
<circle cx="937.35" cy="686.2" r="6.45" fill="#00ff00"/>
<circle cx="944.6" cy="686.2" r="6.45" fill="#00ff00"/>
<circle cx="951.85" cy="686.2" r="6.45" fill="#00ff00"/>
<circle cx="959.1" cy="686.2" r="6.45" fill="#00ff00"/>
<circle cx="966.35" cy="686.2" r="6.45" fill="#00ff00"/>
<circle cx="973.6" cy="686.2" r="6.45" fill="#00ff00"/>
<circle cx="980.85" cy="686.2" r="6.45" fill="#00ff00"/>
<circle cx="988.1" cy="686.2" r="6.45" fill="#00ff00"/>
<circle cx="995.35" cy="686.2" r="6.45" fill="#00ff00"/>
<circle cx="1002.6" cy="686.2" r="6.45" fill="#00ff00"/>
<circle cx="1009.85" cy="686.2" r="6.45" fill="#00ff00"/>
<circle cx="1017.1" cy="686.2" r="6.45" fill="#00ff00"/>
<circle cx="1024.35" cy="686.2" r="6.45" fill="#00ff00"/>
<circle cx="1031.6" cy="686.2" r="6.45" fill="#00ff00"/>
<circle cx="1038.85" cy="686.2" r="6.45" fill="#00ff00"/>
<circle cx="1046.1" cy="686.2" r="6.45" fill="#00ff00"/>
<circle cx="1053.35" cy="686.2" r="6.45" fill="#00ff00"/>
<circle cx="1060.6" cy="686.2" r="6.45" fill="#00ff00"/>
<circle cx="1067.85" cy="686.2" r="6.45" fill="#00ff00"/>
<circle cx="1075.1" cy="686.2" r="6.45" fill="#00ff00"/>
<circle cx="1082.35" cy="686.2" r="6.45" fill="#00ff00"/>
<circle cx="1089.6" cy="686.2" r="6.45" fill="#00ff00"/>
<circle cx="1096.85" cy="686.2" r="6.45" fill="#00ff00"/>
<circle cx="1104.1" cy="686.2" r="6.45" fill="#00ff00"/>
<circle cx="1111.35" cy="686.2" r="6.45" fill="#00ff00"/>
<circle cx="1118.6" cy="686.2" r="6.45" fill="#00ff00"/>
<circle cx="1125.85" cy="686.2" r="6.45" fill="#00ff00"/>
<circle cx="1133.1" cy="686.2" r="6.45" fill="#00ff00"/>
<circle cx="1140.35" cy="686.2" r="6.45" fill="#00ff00"/>
<circle cx="1147.6" cy="686.2" r="6.45" fill="#00ff00"/>
<circle cx="1154.85" cy="686.2" r="6.45" fill="#00ff00"/>
<circle cx="1162.1" cy="686.2" r="6.45" fill="#00ff00"/>
<circle cx="1169.35" cy="686.2" r="6.45" fill="#00ff00"/>
<circle cx="1176.6" cy="686.2" r="6.45" fill="#00ff00"/>
<circle cx="1183.85" cy="686.2" r="6.45" fill="#00ff00"/>
<circle cx="1191.1" cy="686.2" r="6.45" fill="#00ff00"/>
<circle cx="1198.35" cy="686.2" r="6.45" fill="#00ff00"/>
<circle cx="226.85" cy="686.2" r="6.45" fill="#ff0000"/>
<circle cx="234.1" cy="686.2" r="6.45" fill="#ff0000"/>
<circle cx="241.35" cy="686.2" r="6.45" fill="#ff0000"/>
<circle cx="248.6" cy="686.2" r="6.45" fill="#ff0000"/>
<circle cx="255.85" cy="686.2" r="6.45" fill="#ff0000"/>
<circle cx="263.1" cy="686.2" r="6.45" fill="#ff0000"/>
<circle cx="270.35" cy="686.2" r="6.45" fill="#ff0000"/>
<circle cx="277.6" cy="686.2" r="6.45" fill="#ff0000"/>
<circle cx="284.85" cy="686.2" r="6.45" fill="#ff0000"/>
<circle cx="292.1" cy="686.2" r="6.45" fill="#ff0000"/>
<circle cx="299.35" cy="686.2" r="6.45" fill="#ff0000"/>
<circle cx="306.6" cy="686.2" r="6.45" fill="#ff0000"/>
<circle cx="313.85" cy="686.2" r="6.45" fill="#ff0000"/>
<circle cx="321.1" cy="686.2" r="6.45" fill="#ff0000"/>
<circle cx="328.35" cy="686.2" r="6.45" fill="#ff0000"/>
<circle cx="335.6" cy="686.2" r="6.45" fill="#ff0000"/>
<circle cx="342.85" cy="686.2" r="6.45" fill="#ff0000"/>
<circle cx="350.1" cy="686.2" r="6.45" fill="#ff0000"/>
<circle cx="357.35" cy="686.2" r="6.45" fill="#ff0000"/>
<circle cx="364.6" cy="686.2" r="6.45" fill="#ff0000"/>
<circle cx="371.85" cy="686.2" r="6.45" fill="#ff0000"/>
<circle cx="379.1" cy="686.2" r="6.45" fill="#ff0000"/>
<circle cx="386.35" cy="686.2" r="6.45" fill="#ff0000"/>
<circle cx="393.6" cy="686.2" r="6.45" fill="#ff0000"/>
<circle cx="741.6" cy="686.2" r="6.45" fill="#ff0000"/>
<circle cx="748.85" cy="686.2" r="6.45" fill="#ff0000"/>
<circle cx="756.1" cy="686.2" r="6.45" fill="#ff0000"/>
<circle cx="763.35" cy="686.2" r="6.45" fill="#ff0000"/>
<circle cx="770.6" cy="686.2" r="6.45" fill="#ff0000"/>
<circle cx="777.85" cy="686.2" r="6.45" fill="#ff0000"/>
<circle cx="785.1" cy="686.2" r="6.45" fill="#ff0000"/>
<circle cx="792.35" cy="686.2" r="6.45" fill="#ff0000"/>
<circle cx="799.6" cy="686.2" r="6.45" fill="#ff0000"/>
<circle cx="806.85" cy="686.2" r="6.45" fill="#ff0000"/>
<circle cx="814.1" cy="686.2" r="6.45" fill="#ff0000"/>
<circle cx="821.35" cy="686.2" r="6.45" fill="#ff0000"/>
<circle cx="828.6" cy="686.2" r="6.45" fill="#ff0000"/>
<circle cx="835.85" cy="686.2" r="6.45" fill="#ff0000"/>
<circle cx="843.1" cy="686.2" r="6.45" fill="#ff0000"/>
<circle cx="850.35" cy="686.2" r="6.45" fill="#ff0000"/>
<circle cx="857.6" cy="686.2" r="6.45" fill="#ff0000"/>
<circle cx="864.85" cy="686.2" r="6.45" fill="#ff0000"/>
<circle cx="45.6" cy="705.65" r="6.45" fill="#000000"/>
<circle cx="52.85" cy="705.65" r="6.45" fill="#000000"/>
<circle cx="60.1" cy="705.65" r="6.45" fill="#000000"/>
<circle cx="67.35" cy="705.65" r="6.45" fill="#000000"/>
<circle cx="74.6" cy="705.65" r="6.45" fill="#000000"/>
<circle cx="81.85" cy="705.65" r="6.45" fill="#000000"/>
<circle cx="154.35" cy="705.65" r="6.45" fill="#000000"/>
<circle cx="161.6" cy="705.65" r="6.45" fill="#000000"/>
<circle cx="168.85" cy="705.65" r="6.45" fill="#000000"/>
<circle cx="176.1" cy="705.65" r="6.45" fill="#000000"/>
<circle cx="183.35" cy="705.65" r="6.45" fill="#000000"/>
<circle cx="190.6" cy="705.65" r="6.45" fill="#000000"/>
<circle cx="313.85" cy="705.65" r="6.45" fill="#000000"/>
<circle cx="321.1" cy="705.65" r="6.45" fill="#000000"/>
<circle cx="328.35" cy="705.65" r="6.45" fill="#000000"/>
<circle cx="335.6" cy="705.65" r="6.45" fill="#000000"/>
<circle cx="342.85" cy="705.65" r="6.45" fill="#000000"/>
<circle cx="350.1" cy="705.65" r="6.45" fill="#000000"/>
<circle cx="357.35" cy="705.65" r="6.45" fill="#000000"/>
<circle cx="364.6" cy="705.65" r="6.45" fill="#000000"/>
<circle cx="371.85" cy="705.65" r="6.45" fill="#000000"/>
<circle cx="524.1" cy="705.65" r="6.45" fill="#000000"/>
<circle cx="531.35" cy="705.65" r="6.45" fill="#000000"/>
<circle cx="538.6" cy="705.65" r="6.45" fill="#000000"/>
<circle cx="545.85" cy="705.65" r="6.45" fill="#000000"/>
<circle cx="553.1" cy="705.65" r="6.45" fill="#000000"/>
<circle cx="560.35" cy="705.65" r="6.45" fill="#000000"/>
<circle cx="567.6" cy="705.65" r="6.45" fill="#000000"/>
<circle cx="574.85" cy="705.65" r="6.45" fill="#000000"/>
<circle cx="582.1" cy="705.65" r="6.45" fill="#000000"/>
<circle cx="589.35" cy="705.65" r="6.45" fill="#000000"/>
<circle cx="596.6" cy="705.65" r="6.45" fill="#000000"/>
<circle cx="603.85" cy="705.65" r="6.45" fill="#000000"/>
<circle cx="611.1" cy="705.65" r="6.45" fill="#000000"/>
<circle cx="618.35" cy="705.65" r="6.45" fill="#000000"/>
<circle cx="625.6" cy="705.65" r="6.45" fill="#000000"/>
<circle cx="705.35" cy="705.65" r="6.45" fill="#000000"/>
<circle cx="712.6" cy="705.65" r="6.45" fill="#000000"/>
<circle cx="719.85" cy="705.65" r="6.45" fill="#000000"/>
<circle cx="727.1" cy="705.65" r="6.45" fill="#000000"/>
<circle cx="734.35" cy="705.65" r="6.45" fill="#000000"/>
<circle cx="741.6" cy="705.65" r="6.45" fill="#000000"/>
<circle cx="748.85" cy="705.65" r="6.45" fill="#000000"/>
<circle cx="756.1" cy="705.65" r="6.45" fill="#000000"/>
<circle cx="763.35" cy="705.65" r="6.45" fill="#000000"/>
<circle cx="770.6" cy="705.65" r="6.45" fill="#000000"/>
<circle cx="777.85" cy="705.65" r="6.45" fill="#000000"/>
<circle cx="785.1" cy="705.65" r="6.45" fill="#000000"/>
<circle cx="792.35" cy="705.65" r="6.45" fill="#000000"/>
<circle cx="806.85" cy="705.65" r="6.45" fill="#000000"/>
<circle cx="814.1" cy="705.65" r="6.45" fill="#000000"/>
<circle cx="821.35" cy="705.65" r="6.45" fill="#000000"/>
<circle cx="901.1" cy="705.65" r="6.45" fill="#000000"/>
<circle cx="908.35" cy="705.65" r="6.45" fill="#000000"/>
<circle cx="915.6" cy="705.65" r="6.45" fill="#000000"/>
<circle cx="922.85" cy="705.65" r="6.45" fill="#000000"/>
<circle cx="930.1" cy="705.65" r="6.45" fill="#000000"/>
<circle cx="937.35" cy="705.65" r="6.45" fill="#000000"/>
<circle cx="944.6" cy="705.65" r="6.45" fill="#000000"/>
<circle cx="951.85" cy="705.65" r="6.45" fill="#000000"/>
<circle cx="959.1" cy="705.65" r="6.45" fill="#000000"/>
<circle cx="1031.6" cy="705.65" r="6.45" fill="#000000"/>
<circle cx="1038.85" cy="705.65" r="6.45" fill="#000000"/>
<circle cx="1046.1" cy="705.65" r="6.45" fill="#000000"/>
<circle cx="1053.35" cy="705.65" r="6.45" fill="#000000"/>
<circle cx="1060.6" cy="705.65" r="6.45" fill="#000000"/>
<circle cx="1067.85" cy="705.65" r="6.45" fill="#000000"/>
<circle cx="1075.1" cy="705.65" r="6.45" fill="#000000"/>
<circle cx="1089.6" cy="705.65" r="6.45" fill="#000000"/>
<circle cx="1096.85" cy="705.65" r="6.45" fill="#000000"/>
<circle cx="1104.1" cy="705.65" r="6.45" fill="#000000"/>
<circle cx="1111.35" cy="705.65" r="6.45" fill="#000000"/>
<circle cx="1118.6" cy="705.65" r="6.45" fill="#000000"/>
<circle cx="1183.85" cy="705.65" r="6.45" fill="#000000"/>
<circle cx="1191.1" cy="705.65" r="6.45" fill="#000000"/>
<circle cx="1198.35" cy="705.65" r="6.45" fill="#000000"/>
<circle cx="89.1" cy="705.65" r="6.45" fill="#ff0000"/>
<circle cx="96.35" cy="705.65" r="6.45" fill="#ff0000"/>
<circle cx="103.6" cy="705.65" r="6.45" fill="#ff0000"/>
<circle cx="110.85" cy="705.65" r="6.45" fill="#ff0000"/>
<circle cx="118.1" cy="705.65" r="6.45" fill="#ff0000"/>
<circle cx="125.35" cy="705.65" r="6.45" fill="#ff0000"/>
<circle cx="132.6" cy="705.65" r="6.45" fill="#ff0000"/>
<circle cx="139.85" cy="705.65" r="6.45" fill="#ff0000"/>
<circle cx="147.1" cy="705.65" r="6.45" fill="#ff0000"/>
<circle cx="226.85" cy="705.65" r="6.45" fill="#ff0000"/>
<circle cx="234.1" cy="705.65" r="6.45" fill="#ff0000"/>
<circle cx="241.35" cy="705.65" r="6.45" fill="#ff0000"/>
<circle cx="248.6" cy="705.65" r="6.45" fill="#ff0000"/>
<circle cx="255.85" cy="705.65" r="6.45" fill="#ff0000"/>
<circle cx="263.1" cy="705.65" r="6.45" fill="#ff0000"/>
<circle cx="270.35" cy="705.65" r="6.45" fill="#ff0000"/>
<circle cx="277.6" cy="705.65" r="6.45" fill="#ff0000"/>
<circle cx="284.85" cy="705.65" r="6.45" fill="#ff0000"/>
<circle cx="292.1" cy="705.65" r="6.45" fill="#ff0000"/>
<circle cx="299.35" cy="705.65" r="6.45" fill="#ff0000"/>
<circle cx="306.6" cy="705.65" r="6.45" fill="#ff0000"/>
<circle cx="632.85" cy="705.65" r="6.45" fill="#ff0000"/>
<circle cx="640.1" cy="705.65" r="6.45" fill="#ff0000"/>
<circle cx="647.35" cy="705.65" r="6.45" fill="#ff0000"/>
<circle cx="654.6" cy="705.65" r="6.45" fill="#ff0000"/>
<circle cx="661.85" cy="705.65" r="6.45" fill="#ff0000"/>
<circle cx="669.1" cy="705.65" r="6.45" fill="#ff0000"/>
<circle cx="676.35" cy="705.65" r="6.45" fill="#ff0000"/>
<circle cx="683.6" cy="705.65" r="6.45" fill="#ff0000"/>
<circle cx="690.85" cy="705.65" r="6.45" fill="#ff0000"/>
<circle cx="698.1" cy="705.65" r="6.45" fill="#ff0000"/>
<circle cx="799.6" cy="705.65" r="6.45" fill="#ff0000"/>
<circle cx="1125.85" cy="705.65" r="6.45" fill="#ff0000"/>
<circle cx="1133.1" cy="705.65" r="6.45" fill="#ff0000"/>
<circle cx="1140.35" cy="705.65" r="6.45" fill="#ff0000"/>
<circle cx="1147.6" cy="705.65" r="6.45" fill="#ff0000"/>
<circle cx="1154.85" cy="705.65" r="6.45" fill="#ff0000"/>
<circle cx="1162.1" cy="705.65" r="6.45" fill="#ff0000"/>
<circle cx="1169.35" cy="705.65" r="6.45" fill="#ff0000"/>
<circle cx="1176.6" cy="705.65" r="6.45" fill="#ff0000"/>
<circle cx="16.6" cy="705.65" r="6.45" fill="#00ff00"/>
<circle cx="23.85" cy="705.65" r="6.45" fill="#00ff00"/>
<circle cx="31.1" cy="705.65" r="6.45" fill="#00ff00"/>
<circle cx="38.35" cy="705.65" r="6.45" fill="#00ff00"/>
<circle cx="197.85" cy="705.65" r="6.45" fill="#00ff00"/>
<circle cx="205.1" cy="705.65" r="6.45" fill="#00ff00"/>
<circle cx="212.35" cy="705.65" r="6.45" fill="#00ff00"/>
<circle cx="219.6" cy="705.65" r="6.45" fill="#00ff00"/>
<circle cx="379.1" cy="705.65" r="6.45" fill="#00ff00"/>
<circle cx="386.35" cy="705.65" r="6.45" fill="#00ff00"/>
<circle cx="393.6" cy="705.65" r="6.45" fill="#00ff00"/>
<circle cx="400.85" cy="705.65" r="6.45" fill="#00ff00"/>
<circle cx="408.1" cy="705.65" r="6.45" fill="#00ff00"/>
<circle cx="415.35" cy="705.65" r="6.45" fill="#00ff00"/>
<circle cx="422.6" cy="705.65" r="6.45" fill="#00ff00"/>
<circle cx="429.85" cy="705.65" r="6.45" fill="#00ff00"/>
<circle cx="437.1" cy="705.65" r="6.45" fill="#00ff00"/>
<circle cx="444.35" cy="705.65" r="6.45" fill="#00ff00"/>
<circle cx="451.6" cy="705.65" r="6.45" fill="#00ff00"/>
<circle cx="458.85" cy="705.65" r="6.45" fill="#00ff00"/>
<circle cx="466.1" cy="705.65" r="6.45" fill="#00ff00"/>
<circle cx="473.35" cy="705.65" r="6.45" fill="#00ff00"/>
<circle cx="480.6" cy="705.65" r="6.45" fill="#00ff00"/>
<circle cx="487.85" cy="705.65" r="6.45" fill="#00ff00"/>
<circle cx="495.1" cy="705.65" r="6.45" fill="#00ff00"/>
<circle cx="502.35" cy="705.65" r="6.45" fill="#00ff00"/>
<circle cx="509.6" cy="705.65" r="6.45" fill="#00ff00"/>
<circle cx="516.85" cy="705.65" r="6.45" fill="#00ff00"/>
<circle cx="828.6" cy="705.65" r="6.45" fill="#00ff00"/>
<circle cx="835.85" cy="705.65" r="6.45" fill="#00ff00"/>
<circle cx="843.1" cy="705.65" r="6.45" fill="#00ff00"/>
<circle cx="850.35" cy="705.65" r="6.45" fill="#00ff00"/>
<circle cx="857.6" cy="705.65" r="6.45" fill="#00ff00"/>
<circle cx="864.85" cy="705.65" r="6.45" fill="#00ff00"/>
<circle cx="872.1" cy="705.65" r="6.45" fill="#00ff00"/>
<circle cx="879.35" cy="705.65" r="6.45" fill="#00ff00"/>
<circle cx="886.6" cy="705.65" r="6.45" fill="#00ff00"/>
<circle cx="893.85" cy="705.65" r="6.45" fill="#00ff00"/>
<circle cx="966.35" cy="705.65" r="6.45" fill="#00ff00"/>
<circle cx="973.6" cy="705.65" r="6.45" fill="#00ff00"/>
<circle cx="980.85" cy="705.65" r="6.45" fill="#00ff00"/>
<circle cx="988.1" cy="705.65" r="6.45" fill="#00ff00"/>
<circle cx="995.35" cy="705.65" r="6.45" fill="#00ff00"/>
<circle cx="1002.6" cy="705.65" r="6.45" fill="#00ff00"/>
<circle cx="1009.85" cy="705.65" r="6.45" fill="#00ff00"/>
<circle cx="1017.1" cy="705.65" r="6.45" fill="#00ff00"/>
<circle cx="1024.35" cy="705.65" r="6.45" fill="#00ff00"/>
<circle cx="1082.35" cy="705.65" r="6.45" fill="#00ff00"/>
<circle cx="45.6" cy="725.1" r="6.45" fill="#000000"/>
<circle cx="52.85" cy="725.1" r="6.45" fill="#000000"/>
<circle cx="60.1" cy="725.1" r="6.45" fill="#000000"/>
<circle cx="67.35" cy="725.1" r="6.45" fill="#000000"/>
<circle cx="139.85" cy="725.1" r="6.45" fill="#000000"/>
<circle cx="147.1" cy="725.1" r="6.45" fill="#000000"/>
<circle cx="154.35" cy="725.1" r="6.45" fill="#000000"/>
<circle cx="161.6" cy="725.1" r="6.45" fill="#000000"/>
<circle cx="168.85" cy="725.1" r="6.45" fill="#000000"/>
<circle cx="176.1" cy="725.1" r="6.45" fill="#000000"/>
<circle cx="226.85" cy="725.1" r="6.45" fill="#000000"/>
<circle cx="306.6" cy="725.1" r="6.45" fill="#000000"/>
<circle cx="313.85" cy="725.1" r="6.45" fill="#000000"/>
<circle cx="321.1" cy="725.1" r="6.45" fill="#000000"/>
<circle cx="328.35" cy="725.1" r="6.45" fill="#000000"/>
<circle cx="335.6" cy="725.1" r="6.45" fill="#000000"/>
<circle cx="342.85" cy="725.1" r="6.45" fill="#000000"/>
<circle cx="422.6" cy="725.1" r="6.45" fill="#000000"/>
<circle cx="429.85" cy="725.1" r="6.45" fill="#000000"/>
<circle cx="437.1" cy="725.1" r="6.45" fill="#000000"/>
<circle cx="444.35" cy="725.1" r="6.45" fill="#000000"/>
<circle cx="451.6" cy="725.1" r="6.45" fill="#000000"/>
<circle cx="458.85" cy="725.1" r="6.45" fill="#000000"/>
<circle cx="466.1" cy="725.1" r="6.45" fill="#000000"/>
<circle cx="473.35" cy="725.1" r="6.45" fill="#000000"/>
<circle cx="480.6" cy="725.1" r="6.45" fill="#000000"/>
<circle cx="487.85" cy="725.1" r="6.45" fill="#000000"/>
<circle cx="516.85" cy="725.1" r="6.45" fill="#000000"/>
<circle cx="524.1" cy="725.1" r="6.45" fill="#000000"/>
<circle cx="531.35" cy="725.1" r="6.45" fill="#000000"/>
<circle cx="538.6" cy="725.1" r="6.45" fill="#000000"/>
<circle cx="545.85" cy="725.1" r="6.45" fill="#000000"/>
<circle cx="553.1" cy="725.1" r="6.45" fill="#000000"/>
<circle cx="603.85" cy="725.1" r="6.45" fill="#000000"/>
<circle cx="611.1" cy="725.1" r="6.45" fill="#000000"/>
<circle cx="683.6" cy="725.1" r="6.45" fill="#000000"/>
<circle cx="690.85" cy="725.1" r="6.45" fill="#000000"/>
<circle cx="698.1" cy="725.1" r="6.45" fill="#000000"/>
<circle cx="705.35" cy="725.1" r="6.45" fill="#000000"/>
<circle cx="712.6" cy="725.1" r="6.45" fill="#000000"/>
<circle cx="719.85" cy="725.1" r="6.45" fill="#000000"/>
<circle cx="727.1" cy="725.1" r="6.45" fill="#000000"/>
<circle cx="734.35" cy="725.1" r="6.45" fill="#000000"/>
<circle cx="785.1" cy="725.1" r="6.45" fill="#000000"/>
<circle cx="792.35" cy="725.1" r="6.45" fill="#000000"/>
<circle cx="893.85" cy="725.1" r="6.45" fill="#000000"/>
<circle cx="901.1" cy="725.1" r="6.45" fill="#000000"/>
<circle cx="908.35" cy="725.1" r="6.45" fill="#000000"/>
<circle cx="915.6" cy="725.1" r="6.45" fill="#000000"/>
<circle cx="922.85" cy="725.1" r="6.45" fill="#000000"/>
<circle cx="930.1" cy="725.1" r="6.45" fill="#000000"/>
<circle cx="937.35" cy="725.1" r="6.45" fill="#000000"/>
<circle cx="973.6" cy="725.1" r="6.45" fill="#000000"/>
<circle cx="1024.35" cy="725.1" r="6.45" fill="#000000"/>
<circle cx="1031.6" cy="725.1" r="6.45" fill="#000000"/>
<circle cx="1038.85" cy="725.1" r="6.45" fill="#000000"/>
<circle cx="1046.1" cy="725.1" r="6.45" fill="#000000"/>
<circle cx="1053.35" cy="725.1" r="6.45" fill="#000000"/>
<circle cx="1060.6" cy="725.1" r="6.45" fill="#000000"/>
<circle cx="1067.85" cy="725.1" r="6.45" fill="#000000"/>
<circle cx="1075.1" cy="725.1" r="6.45" fill="#000000"/>
<circle cx="1082.35" cy="725.1" r="6.45" fill="#000000"/>
<circle cx="1089.6" cy="725.1" r="6.45" fill="#000000"/>
<circle cx="1096.85" cy="725.1" r="6.45" fill="#000000"/>
<circle cx="1162.1" cy="725.1" r="6.45" fill="#000000"/>
<circle cx="1169.35" cy="725.1" r="6.45" fill="#000000"/>
<circle cx="1176.6" cy="725.1" r="6.45" fill="#000000"/>
<circle cx="1183.85" cy="725.1" r="6.45" fill="#000000"/>
<circle cx="1191.1" cy="725.1" r="6.45" fill="#000000"/>
<circle cx="74.6" cy="725.1" r="6.45" fill="#ff0000"/>
<circle cx="81.85" cy="725.1" r="6.45" fill="#ff0000"/>
<circle cx="89.1" cy="725.1" r="6.45" fill="#ff0000"/>
<circle cx="96.35" cy="725.1" r="6.45" fill="#ff0000"/>
<circle cx="103.6" cy="725.1" r="6.45" fill="#ff0000"/>
<circle cx="110.85" cy="725.1" r="6.45" fill="#ff0000"/>
<circle cx="118.1" cy="725.1" r="6.45" fill="#ff0000"/>
<circle cx="125.35" cy="725.1" r="6.45" fill="#ff0000"/>
<circle cx="132.6" cy="725.1" r="6.45" fill="#ff0000"/>
<circle cx="234.1" cy="725.1" r="6.45" fill="#ff0000"/>
<circle cx="241.35" cy="725.1" r="6.45" fill="#ff0000"/>
<circle cx="248.6" cy="725.1" r="6.45" fill="#ff0000"/>
<circle cx="255.85" cy="725.1" r="6.45" fill="#ff0000"/>
<circle cx="263.1" cy="725.1" r="6.45" fill="#ff0000"/>
<circle cx="270.35" cy="725.1" r="6.45" fill="#ff0000"/>
<circle cx="277.6" cy="725.1" r="6.45" fill="#ff0000"/>
<circle cx="284.85" cy="725.1" r="6.45" fill="#ff0000"/>
<circle cx="292.1" cy="725.1" r="6.45" fill="#ff0000"/>
<circle cx="299.35" cy="725.1" r="6.45" fill="#ff0000"/>
<circle cx="560.35" cy="725.1" r="6.45" fill="#ff0000"/>
<circle cx="567.6" cy="725.1" r="6.45" fill="#ff0000"/>
<circle cx="574.85" cy="725.1" r="6.45" fill="#ff0000"/>
<circle cx="582.1" cy="725.1" r="6.45" fill="#ff0000"/>
<circle cx="589.35" cy="725.1" r="6.45" fill="#ff0000"/>
<circle cx="596.6" cy="725.1" r="6.45" fill="#ff0000"/>
<circle cx="618.35" cy="725.1" r="6.45" fill="#ff0000"/>
<circle cx="625.6" cy="725.1" r="6.45" fill="#ff0000"/>
<circle cx="632.85" cy="725.1" r="6.45" fill="#ff0000"/>
<circle cx="640.1" cy="725.1" r="6.45" fill="#ff0000"/>
<circle cx="647.35" cy="725.1" r="6.45" fill="#ff0000"/>
<circle cx="654.6" cy="725.1" r="6.45" fill="#ff0000"/>
<circle cx="661.85" cy="725.1" r="6.45" fill="#ff0000"/>
<circle cx="669.1" cy="725.1" r="6.45" fill="#ff0000"/>
<circle cx="676.35" cy="725.1" r="6.45" fill="#ff0000"/>
<circle cx="799.6" cy="725.1" r="6.45" fill="#ff0000"/>
<circle cx="944.6" cy="725.1" r="6.45" fill="#ff0000"/>
<circle cx="951.85" cy="725.1" r="6.45" fill="#ff0000"/>
<circle cx="959.1" cy="725.1" r="6.45" fill="#ff0000"/>
<circle cx="966.35" cy="725.1" r="6.45" fill="#ff0000"/>
<circle cx="1104.1" cy="725.1" r="6.45" fill="#ff0000"/>
<circle cx="1111.35" cy="725.1" r="6.45" fill="#ff0000"/>
<circle cx="1118.6" cy="725.1" r="6.45" fill="#ff0000"/>
<circle cx="1125.85" cy="725.1" r="6.45" fill="#ff0000"/>
<circle cx="1133.1" cy="725.1" r="6.45" fill="#ff0000"/>
<circle cx="1140.35" cy="725.1" r="6.45" fill="#ff0000"/>
<circle cx="1147.6" cy="725.1" r="6.45" fill="#ff0000"/>
<circle cx="1154.85" cy="725.1" r="6.45" fill="#ff0000"/>
<circle cx="16.6" cy="725.1" r="6.45" fill="#00ff00"/>
<circle cx="23.85" cy="725.1" r="6.45" fill="#00ff00"/>
<circle cx="31.1" cy="725.1" r="6.45" fill="#00ff00"/>
<circle cx="38.35" cy="725.1" r="6.45" fill="#00ff00"/>
<circle cx="183.35" cy="725.1" r="6.45" fill="#00ff00"/>
<circle cx="190.6" cy="725.1" r="6.45" fill="#00ff00"/>
<circle cx="197.85" cy="725.1" r="6.45" fill="#00ff00"/>
<circle cx="205.1" cy="725.1" r="6.45" fill="#00ff00"/>
<circle cx="212.35" cy="725.1" r="6.45" fill="#00ff00"/>
<circle cx="219.6" cy="725.1" r="6.45" fill="#00ff00"/>
<circle cx="350.1" cy="725.1" r="6.45" fill="#00ff00"/>
<circle cx="357.35" cy="725.1" r="6.45" fill="#00ff00"/>
<circle cx="364.6" cy="725.1" r="6.45" fill="#00ff00"/>
<circle cx="371.85" cy="725.1" r="6.45" fill="#00ff00"/>
<circle cx="379.1" cy="725.1" r="6.45" fill="#00ff00"/>
<circle cx="386.35" cy="725.1" r="6.45" fill="#00ff00"/>
<circle cx="393.6" cy="725.1" r="6.45" fill="#00ff00"/>
<circle cx="400.85" cy="725.1" r="6.45" fill="#00ff00"/>
<circle cx="408.1" cy="725.1" r="6.45" fill="#00ff00"/>
<circle cx="415.35" cy="725.1" r="6.45" fill="#00ff00"/>
<circle cx="495.1" cy="725.1" r="6.45" fill="#00ff00"/>
<circle cx="502.35" cy="725.1" r="6.45" fill="#00ff00"/>
<circle cx="509.6" cy="725.1" r="6.45" fill="#00ff00"/>
<circle cx="741.6" cy="725.1" r="6.45" fill="#00ff00"/>
<circle cx="748.85" cy="725.1" r="6.45" fill="#00ff00"/>
<circle cx="756.1" cy="725.1" r="6.45" fill="#00ff00"/>
<circle cx="763.35" cy="725.1" r="6.45" fill="#00ff00"/>
<circle cx="770.6" cy="725.1" r="6.45" fill="#00ff00"/>
<circle cx="777.85" cy="725.1" r="6.45" fill="#00ff00"/>
<circle cx="806.85" cy="725.1" r="6.45" fill="#00ff00"/>
<circle cx="814.1" cy="725.1" r="6.45" fill="#00ff00"/>
<circle cx="821.35" cy="725.1" r="6.45" fill="#00ff00"/>
<circle cx="828.6" cy="725.1" r="6.45" fill="#00ff00"/>
<circle cx="835.85" cy="725.1" r="6.45" fill="#00ff00"/>
<circle cx="843.1" cy="725.1" r="6.45" fill="#00ff00"/>
<circle cx="850.35" cy="725.1" r="6.45" fill="#00ff00"/>
<circle cx="857.6" cy="725.1" r="6.45" fill="#00ff00"/>
<circle cx="864.85" cy="725.1" r="6.45" fill="#00ff00"/>
<circle cx="872.1" cy="725.1" r="6.45" fill="#00ff00"/>
<circle cx="879.35" cy="725.1" r="6.45" fill="#00ff00"/>
<circle cx="886.6" cy="725.1" r="6.45" fill="#00ff00"/>
<circle cx="980.85" cy="725.1" r="6.45" fill="#00ff00"/>
<circle cx="988.1" cy="725.1" r="6.45" fill="#00ff00"/>
<circle cx="995.35" cy="725.1" r="6.45" fill="#00ff00"/>
<circle cx="1002.6" cy="725.1" r="6.45" fill="#00ff00"/>
<circle cx="1009.85" cy="725.1" r="6.45" fill="#00ff00"/>
<circle cx="1017.1" cy="725.1" r="6.45" fill="#00ff00"/>
<circle cx="1198.35" cy="725.1" r="6.45" fill="#00ff00"/>
<circle cx="16.6" cy="744.55" r="6.45" fill="#00ff00"/>
<circle cx="23.85" cy="744.55" r="6.45" fill="#00ff00"/>
<circle cx="31.1" cy="744.55" r="6.45" fill="#00ff00"/>
<circle cx="38.35" cy="744.55" r="6.45" fill="#00ff00"/>
<circle cx="45.6" cy="744.55" r="6.45" fill="#00ff00"/>
<circle cx="52.85" cy="744.55" r="6.45" fill="#00ff00"/>
<circle cx="60.1" cy="744.55" r="6.45" fill="#00ff00"/>
<circle cx="67.35" cy="744.55" r="6.45" fill="#00ff00"/>
<circle cx="74.6" cy="744.55" r="6.45" fill="#00ff00"/>
<circle cx="81.85" cy="744.55" r="6.45" fill="#00ff00"/>
<circle cx="212.35" cy="744.55" r="6.45" fill="#00ff00"/>
<circle cx="219.6" cy="744.55" r="6.45" fill="#00ff00"/>
<circle cx="393.6" cy="744.55" r="6.45" fill="#00ff00"/>
<circle cx="400.85" cy="744.55" r="6.45" fill="#00ff00"/>
<circle cx="408.1" cy="744.55" r="6.45" fill="#00ff00"/>
<circle cx="415.35" cy="744.55" r="6.45" fill="#00ff00"/>
<circle cx="422.6" cy="744.55" r="6.45" fill="#00ff00"/>
<circle cx="429.85" cy="744.55" r="6.45" fill="#00ff00"/>
<circle cx="437.1" cy="744.55" r="6.45" fill="#00ff00"/>
<circle cx="444.35" cy="744.55" r="6.45" fill="#00ff00"/>
<circle cx="451.6" cy="744.55" r="6.45" fill="#00ff00"/>
<circle cx="458.85" cy="744.55" r="6.45" fill="#00ff00"/>
<circle cx="466.1" cy="744.55" r="6.45" fill="#00ff00"/>
<circle cx="473.35" cy="744.55" r="6.45" fill="#00ff00"/>
<circle cx="480.6" cy="744.55" r="6.45" fill="#00ff00"/>
<circle cx="487.85" cy="744.55" r="6.45" fill="#00ff00"/>
<circle cx="495.1" cy="744.55" r="6.45" fill="#00ff00"/>
<circle cx="502.35" cy="744.55" r="6.45" fill="#00ff00"/>
<circle cx="509.6" cy="744.55" r="6.45" fill="#00ff00"/>
<circle cx="516.85" cy="744.55" r="6.45" fill="#00ff00"/>
<circle cx="524.1" cy="744.55" r="6.45" fill="#00ff00"/>
<circle cx="531.35" cy="744.55" r="6.45" fill="#00ff00"/>
<circle cx="538.6" cy="744.55" r="6.45" fill="#00ff00"/>
<circle cx="545.85" cy="744.55" r="6.45" fill="#00ff00"/>
<circle cx="553.1" cy="744.55" r="6.45" fill="#00ff00"/>
<circle cx="560.35" cy="744.55" r="6.45" fill="#00ff00"/>
<circle cx="567.6" cy="744.55" r="6.45" fill="#00ff00"/>
<circle cx="574.85" cy="744.55" r="6.45" fill="#00ff00"/>
<circle cx="582.1" cy="744.55" r="6.45" fill="#00ff00"/>
<circle cx="589.35" cy="744.55" r="6.45" fill="#00ff00"/>
<circle cx="596.6" cy="744.55" r="6.45" fill="#00ff00"/>
<circle cx="603.85" cy="744.55" r="6.45" fill="#00ff00"/>
<circle cx="611.1" cy="744.55" r="6.45" fill="#00ff00"/>
<circle cx="618.35" cy="744.55" r="6.45" fill="#00ff00"/>
<circle cx="625.6" cy="744.55" r="6.45" fill="#00ff00"/>
<circle cx="843.1" cy="744.55" r="6.45" fill="#00ff00"/>
<circle cx="850.35" cy="744.55" r="6.45" fill="#00ff00"/>
<circle cx="857.6" cy="744.55" r="6.45" fill="#00ff00"/>
<circle cx="864.85" cy="744.55" r="6.45" fill="#00ff00"/>
<circle cx="872.1" cy="744.55" r="6.45" fill="#00ff00"/>
<circle cx="879.35" cy="744.55" r="6.45" fill="#00ff00"/>
<circle cx="886.6" cy="744.55" r="6.45" fill="#00ff00"/>
<circle cx="893.85" cy="744.55" r="6.45" fill="#00ff00"/>
<circle cx="901.1" cy="744.55" r="6.45" fill="#00ff00"/>
<circle cx="908.35" cy="744.55" r="6.45" fill="#00ff00"/>
<circle cx="915.6" cy="744.55" r="6.45" fill="#00ff00"/>
<circle cx="922.85" cy="744.55" r="6.45" fill="#00ff00"/>
<circle cx="930.1" cy="744.55" r="6.45" fill="#00ff00"/>
<circle cx="937.35" cy="744.55" r="6.45" fill="#00ff00"/>
<circle cx="944.6" cy="744.55" r="6.45" fill="#00ff00"/>
<circle cx="951.85" cy="744.55" r="6.45" fill="#00ff00"/>
<circle cx="959.1" cy="744.55" r="6.45" fill="#00ff00"/>
<circle cx="966.35" cy="744.55" r="6.45" fill="#00ff00"/>
<circle cx="973.6" cy="744.55" r="6.45" fill="#00ff00"/>
<circle cx="980.85" cy="744.55" r="6.45" fill="#00ff00"/>
<circle cx="988.1" cy="744.55" r="6.45" fill="#00ff00"/>
<circle cx="995.35" cy="744.55" r="6.45" fill="#00ff00"/>
<circle cx="1002.6" cy="744.55" r="6.45" fill="#00ff00"/>
<circle cx="1009.85" cy="744.55" r="6.45" fill="#00ff00"/>
<circle cx="1017.1" cy="744.55" r="6.45" fill="#00ff00"/>
<circle cx="1024.35" cy="744.55" r="6.45" fill="#00ff00"/>
<circle cx="1031.6" cy="744.55" r="6.45" fill="#00ff00"/>
<circle cx="1038.85" cy="744.55" r="6.45" fill="#00ff00"/>
<circle cx="1046.1" cy="744.55" r="6.45" fill="#00ff00"/>
<circle cx="1053.35" cy="744.55" r="6.45" fill="#00ff00"/>
<circle cx="1060.6" cy="744.55" r="6.45" fill="#00ff00"/>
<circle cx="1067.85" cy="744.55" r="6.45" fill="#00ff00"/>
<circle cx="1075.1" cy="744.55" r="6.45" fill="#00ff00"/>
<circle cx="1082.35" cy="744.55" r="6.45" fill="#00ff00"/>
<circle cx="1089.6" cy="744.55" r="6.45" fill="#00ff00"/>
<circle cx="1096.85" cy="744.55" r="6.45" fill="#00ff00"/>
<circle cx="1104.1" cy="744.55" r="6.45" fill="#00ff00"/>
<circle cx="1111.35" cy="744.55" r="6.45" fill="#00ff00"/>
<circle cx="1118.6" cy="744.55" r="6.45" fill="#00ff00"/>
<circle cx="89.1" cy="744.55" r="6.45" fill="#000000"/>
<circle cx="96.35" cy="744.55" r="6.45" fill="#000000"/>
<circle cx="226.85" cy="744.55" r="6.45" fill="#000000"/>
<circle cx="632.85" cy="744.55" r="6.45" fill="#000000"/>
<circle cx="640.1" cy="744.55" r="6.45" fill="#000000"/>
<circle cx="1125.85" cy="744.55" r="6.45" fill="#000000"/>
<circle cx="1133.1" cy="744.55" r="6.45" fill="#000000"/>
<circle cx="1140.35" cy="744.55" r="6.45" fill="#000000"/>
<circle cx="103.6" cy="744.55" r="6.45" fill="#ff0000"/>
<circle cx="110.85" cy="744.55" r="6.45" fill="#ff0000"/>
<circle cx="118.1" cy="744.55" r="6.45" fill="#ff0000"/>
<circle cx="125.35" cy="744.55" r="6.45" fill="#ff0000"/>
<circle cx="132.6" cy="744.55" r="6.45" fill="#ff0000"/>
<circle cx="139.85" cy="744.55" r="6.45" fill="#ff0000"/>
<circle cx="147.1" cy="744.55" r="6.45" fill="#ff0000"/>
<circle cx="154.35" cy="744.55" r="6.45" fill="#ff0000"/>
<circle cx="161.6" cy="744.55" r="6.45" fill="#ff0000"/>
<circle cx="168.85" cy="744.55" r="6.45" fill="#ff0000"/>
<circle cx="176.1" cy="744.55" r="6.45" fill="#ff0000"/>
<circle cx="183.35" cy="744.55" r="6.45" fill="#ff0000"/>
<circle cx="190.6" cy="744.55" r="6.45" fill="#ff0000"/>
<circle cx="234.1" cy="744.55" r="6.45" fill="#ff0000"/>
<circle cx="241.35" cy="744.55" r="6.45" fill="#ff0000"/>
<circle cx="248.6" cy="744.55" r="6.45" fill="#ff0000"/>
<circle cx="255.85" cy="744.55" r="6.45" fill="#ff0000"/>
<circle cx="263.1" cy="744.55" r="6.45" fill="#ff0000"/>
<circle cx="270.35" cy="744.55" r="6.45" fill="#ff0000"/>
<circle cx="277.6" cy="744.55" r="6.45" fill="#ff0000"/>
<circle cx="284.85" cy="744.55" r="6.45" fill="#ff0000"/>
<circle cx="292.1" cy="744.55" r="6.45" fill="#ff0000"/>
<circle cx="299.35" cy="744.55" r="6.45" fill="#ff0000"/>
<circle cx="306.6" cy="744.55" r="6.45" fill="#ff0000"/>
<circle cx="313.85" cy="744.55" r="6.45" fill="#ff0000"/>
<circle cx="321.1" cy="744.55" r="6.45" fill="#ff0000"/>
<circle cx="328.35" cy="744.55" r="6.45" fill="#ff0000"/>
<circle cx="335.6" cy="744.55" r="6.45" fill="#ff0000"/>
<circle cx="342.85" cy="744.55" r="6.45" fill="#ff0000"/>
<circle cx="350.1" cy="744.55" r="6.45" fill="#ff0000"/>
<circle cx="357.35" cy="744.55" r="6.45" fill="#ff0000"/>
<circle cx="364.6" cy="744.55" r="6.45" fill="#ff0000"/>
<circle cx="371.85" cy="744.55" r="6.45" fill="#ff0000"/>
<circle cx="647.35" cy="744.55" r="6.45" fill="#ff0000"/>
<circle cx="654.6" cy="744.55" r="6.45" fill="#ff0000"/>
<circle cx="661.85" cy="744.55" r="6.45" fill="#ff0000"/>
<circle cx="669.1" cy="744.55" r="6.45" fill="#ff0000"/>
<circle cx="676.35" cy="744.55" r="6.45" fill="#ff0000"/>
<circle cx="683.6" cy="744.55" r="6.45" fill="#ff0000"/>
<circle cx="690.85" cy="744.55" r="6.45" fill="#ff0000"/>
<circle cx="698.1" cy="744.55" r="6.45" fill="#ff0000"/>
<circle cx="705.35" cy="744.55" r="6.45" fill="#ff0000"/>
<circle cx="712.6" cy="744.55" r="6.45" fill="#ff0000"/>
<circle cx="719.85" cy="744.55" r="6.45" fill="#ff0000"/>
<circle cx="727.1" cy="744.55" r="6.45" fill="#ff0000"/>
<circle cx="734.35" cy="744.55" r="6.45" fill="#ff0000"/>
<circle cx="741.6" cy="744.55" r="6.45" fill="#ff0000"/>
<circle cx="748.85" cy="744.55" r="6.45" fill="#ff0000"/>
<circle cx="756.1" cy="744.55" r="6.45" fill="#ff0000"/>
<circle cx="763.35" cy="744.55" r="6.45" fill="#ff0000"/>
<circle cx="770.6" cy="744.55" r="6.45" fill="#ff0000"/>
<circle cx="777.85" cy="744.55" r="6.45" fill="#ff0000"/>
<circle cx="785.1" cy="744.55" r="6.45" fill="#ff0000"/>
<circle cx="792.35" cy="744.55" r="6.45" fill="#ff0000"/>
<circle cx="799.6" cy="744.55" r="6.45" fill="#ff0000"/>
<circle cx="806.85" cy="744.55" r="6.45" fill="#ff0000"/>
<circle cx="814.1" cy="744.55" r="6.45" fill="#ff0000"/>
<circle cx="821.35" cy="744.55" r="6.45" fill="#ff0000"/>
<circle cx="1147.6" cy="744.55" r="6.45" fill="#ff0000"/>
<circle cx="1154.85" cy="744.55" r="6.45" fill="#ff0000"/>
<circle cx="1162.1" cy="744.55" r="6.45" fill="#ff0000"/>
<circle cx="1169.35" cy="744.55" r="6.45" fill="#ff0000"/>
<circle cx="1176.6" cy="744.55" r="6.45" fill="#ff0000"/>
<circle cx="1183.85" cy="744.55" r="6.45" fill="#ff0000"/>
<circle cx="1191.1" cy="744.55" r="6.45" fill="#ff0000"/>
<circle cx="1198.35" cy="744.55" r="6.45" fill="#ff0000"/>
<circle cx="197.85" cy="744.55" r="6.45" fill="#ffff00"/>
<circle cx="205.1" cy="744.55" r="6.45" fill="#ffff00"/>
<circle cx="379.1" cy="744.55" r="6.45" fill="#ffff00"/>
<circle cx="386.35" cy="744.55" r="6.45" fill="#ffff00"/>
<circle cx="828.6" cy="744.55" r="6.45" fill="#ffff00"/>
<circle cx="835.85" cy="744.55" r="6.45" fill="#ffff00"/>
</g>
<path d="M1561 238h81v29h-81a3 3 0 0 1-3-3v-23a3 3 0 0 1 3-3z" fill="#ff0000"/>
<path d="M1643 238h97a3 3 0 0 1 3 3v23a3 3 0 0 1-3 3h-97z" fill="#ff0000"/>
<text x="1566" y="260" font-size="19" fill="#fff" textLength="68" lengthAdjust="spacingAndGlyphs" stroke="#fff" stroke-width="0.3">ETHUSD</text>
<text x="1658" y="259" font-size="19" fill="#fff" textLength="77" lengthAdjust="spacingAndGlyphs" stroke="#fff" stroke-width="0.6">3.254,29</text>
<g><circle cx="1575" cy="547.5" r="16.8" fill="#fff" stroke="#f0293c" stroke-width="2.4"/><clipPath id="fc"><circle cx="1575" cy="547.5" r="13.3"/></clipPath><g clip-path="url(#fc)"><rect x="1560" y="534" width="32" height="6.2" fill="#ee5352"/><rect x="1560" y="544.7" width="32" height="6.1" fill="#ee5352"/><rect x="1560" y="554.8" width="32" height="7" fill="#ee5352"/><rect x="1560" y="533" width="18" height="17.8" fill="#1f80e5"/><circle cx="1565.4" cy="538" r="1" fill="#fff"/><circle cx="1565.4" cy="542.5" r="1" fill="#fff"/><circle cx="1565.4" cy="546.9" r="1" fill="#fff"/><circle cx="1570" cy="538" r="1" fill="#fff"/><circle cx="1570" cy="542.5" r="1" fill="#fff"/><circle cx="1570" cy="546.9" r="1" fill="#fff"/><circle cx="1574.4" cy="538" r="1" fill="#fff"/><circle cx="1574.4" cy="542.5" r="1" fill="#fff"/><circle cx="1574.4" cy="546.9" r="1" fill="#fff"/></g></g>
<g fill="#131313"><path d="M20 844h20.2v24.5h-10v-14.8H20z"/><circle cx="49.4" cy="848.9" r="5"/><path d="M56.9 844h12.4l-9 24.5H48.6z"/></g>
<text x="81.5" y="868.4" font-size="35" fill="#131313" font-weight="bold" textLength="198.42" lengthAdjust="spacingAndGlyphs" stroke="#131313" stroke-width="0.3">TradingView</text>
</svg></body></html>
